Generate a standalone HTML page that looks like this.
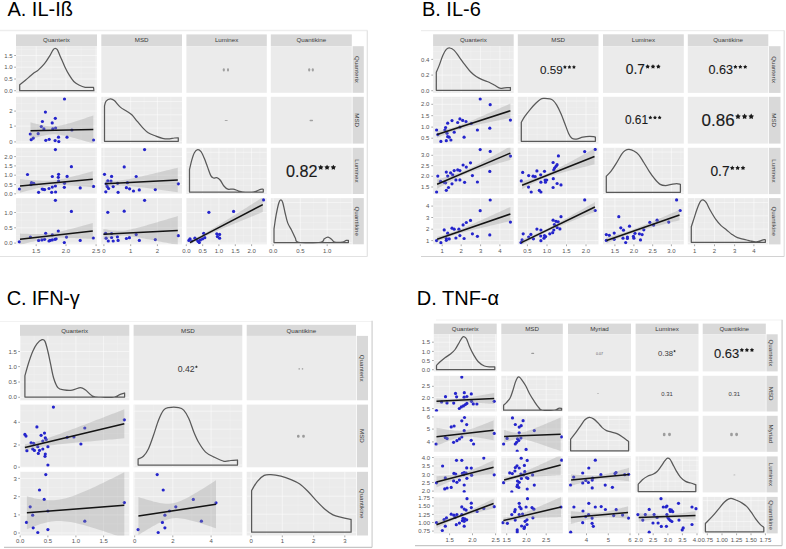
<!DOCTYPE html>
<html><head><meta charset="utf-8"><style>
html,body{margin:0;padding:0;background:#fff;overflow:hidden;}
svg{display:block;font-family:"Liberation Sans", sans-serif;}
</style></head><body>
<svg width="786" height="549" viewBox="0 0 786 549">
<defs><clipPath id="c1"><rect x="16" y="96.8" width="81" height="46.8"/></clipPath><clipPath id="c2"><rect x="16" y="147.8" width="81" height="46.2"/></clipPath><clipPath id="c3"><rect x="101.3" y="147.8" width="80.7" height="46.2"/></clipPath><clipPath id="c4"><rect x="16" y="198.1" width="81" height="46.2"/></clipPath><clipPath id="c5"><rect x="101.3" y="198.1" width="80.7" height="46.2"/></clipPath><clipPath id="c6"><rect x="186.4" y="198.1" width="80.4" height="46.2"/></clipPath><clipPath id="c7"><rect x="433.1" y="96.8" width="80.6" height="46.8"/></clipPath><clipPath id="c8"><rect x="433.1" y="147.8" width="80.6" height="46.3"/></clipPath><clipPath id="c9"><rect x="517.8" y="147.8" width="80.7" height="46.3"/></clipPath><clipPath id="c10"><rect x="433.1" y="198.1" width="80.6" height="46.3"/></clipPath><clipPath id="c11"><rect x="517.8" y="198.1" width="80.7" height="46.3"/></clipPath><clipPath id="c12"><rect x="603" y="198.1" width="80.8" height="46.3"/></clipPath><clipPath id="c13"><rect x="20" y="404.6" width="109.3" height="62.7"/></clipPath><clipPath id="c14"><rect x="20" y="471.8" width="109.3" height="63.7"/></clipPath><clipPath id="c15"><rect x="133.6" y="471.8" width="108.7" height="63.7"/></clipPath><clipPath id="c16"><rect x="433.8" y="375.8" width="62.9" height="35.7"/></clipPath><clipPath id="c17"><rect x="433.8" y="415.8" width="62.9" height="36"/></clipPath><clipPath id="c18"><rect x="501.3" y="415.8" width="61.5" height="36"/></clipPath><clipPath id="c19"><rect x="433.8" y="456.4" width="62.9" height="36"/></clipPath><clipPath id="c20"><rect x="501.3" y="456.4" width="61.5" height="36"/></clipPath><clipPath id="c21"><rect x="568" y="456.4" width="63" height="36"/></clipPath><clipPath id="c22"><rect x="433.8" y="496.9" width="62.9" height="36.5"/></clipPath><clipPath id="c23"><rect x="501.3" y="496.9" width="61.5" height="36.5"/></clipPath><clipPath id="c24"><rect x="568" y="496.9" width="63" height="36.5"/></clipPath><clipPath id="c25"><rect x="635.6" y="496.9" width="62.9" height="36.5"/></clipPath></defs>
<line x1="0" y1="30.5" x2="367.5" y2="30.5" stroke="#ededed" stroke-width="1.3"/>
<line x1="367.3" y1="30.5" x2="367.3" y2="256.5" stroke="#e2e2e2" stroke-width="1.2"/>
<line x1="0" y1="256.5" x2="367.3" y2="256.5" stroke="#e2e2e2" stroke-width="1.2"/>
<rect x="16" y="34.4" width="81" height="11.8" fill="#D9D9D9" />
<text x="56.5" y="42.32" font-size="6.2" fill="#3a3a3a" text-anchor="middle" >Quanterix</text>
<rect x="101.3" y="34.4" width="80.7" height="11.8" fill="#D9D9D9" />
<text x="141.65" y="42.32" font-size="6.2" fill="#3a3a3a" text-anchor="middle" >MSD</text>
<rect x="186.4" y="34.4" width="80.4" height="11.8" fill="#D9D9D9" />
<text x="226.6" y="42.32" font-size="6.2" fill="#3a3a3a" text-anchor="middle" >Luminex</text>
<rect x="270.8" y="34.4" width="81" height="11.8" fill="#D9D9D9" />
<text x="311.3" y="42.32" font-size="6.2" fill="#3a3a3a" text-anchor="middle" >Quantikine</text>
<rect x="352.6" y="46.2" width="11.2" height="46.6" fill="#D9D9D9" />
<text x="0" y="0" font-size="6.2" fill="#3a3a3a" text-anchor="middle" transform="translate(355.38,69.5) rotate(90)">Quanterix</text>
<rect x="352.6" y="96.8" width="11.2" height="46.8" fill="#D9D9D9" />
<text x="0" y="0" font-size="6.2" fill="#3a3a3a" text-anchor="middle" transform="translate(355.38,120.2) rotate(90)">MSD</text>
<rect x="352.6" y="147.8" width="11.2" height="46.2" fill="#D9D9D9" />
<text x="0" y="0" font-size="6.2" fill="#3a3a3a" text-anchor="middle" transform="translate(355.38,170.9) rotate(90)">Luminex</text>
<rect x="352.6" y="198.1" width="11.2" height="46.2" fill="#D9D9D9" />
<text x="0" y="0" font-size="6.2" fill="#3a3a3a" text-anchor="middle" transform="translate(355.38,221.2) rotate(90)">Quantikine</text>
<rect x="16" y="46.2" width="81" height="46.6" fill="#EBEBEB" />
<line x1="51.1" y1="46.2" x2="51.1" y2="92.8" stroke="#FFFFFF" stroke-width="0.35" stroke-opacity="0.55"/><line x1="81.05" y1="46.2" x2="81.05" y2="92.8" stroke="#FFFFFF" stroke-width="0.35" stroke-opacity="0.55"/><line x1="21.3" y1="46.2" x2="21.3" y2="92.8" stroke="#FFFFFF" stroke-width="0.35" stroke-opacity="0.55"/><line x1="16" y1="61.35" x2="97" y2="61.35" stroke="#FFFFFF" stroke-width="0.35" stroke-opacity="0.55"/><line x1="16" y1="73.1" x2="97" y2="73.1" stroke="#FFFFFF" stroke-width="0.35" stroke-opacity="0.55"/><line x1="16" y1="84.85" x2="97" y2="84.85" stroke="#FFFFFF" stroke-width="0.35" stroke-opacity="0.55"/><line x1="16" y1="49.65" x2="97" y2="49.65" stroke="#FFFFFF" stroke-width="0.35" stroke-opacity="0.55"/><line x1="36.2" y1="46.2" x2="36.2" y2="92.8" stroke="#FFFFFF" stroke-width="0.55" stroke-opacity="0.9"/><line x1="66" y1="46.2" x2="66" y2="92.8" stroke="#FFFFFF" stroke-width="0.55" stroke-opacity="0.9"/><line x1="96.1" y1="46.2" x2="96.1" y2="92.8" stroke="#FFFFFF" stroke-width="0.55" stroke-opacity="0.9"/><line x1="16" y1="55.5" x2="97" y2="55.5" stroke="#FFFFFF" stroke-width="0.55" stroke-opacity="0.9"/><line x1="16" y1="67.2" x2="97" y2="67.2" stroke="#FFFFFF" stroke-width="0.55" stroke-opacity="0.9"/><line x1="16" y1="79" x2="97" y2="79" stroke="#FFFFFF" stroke-width="0.55" stroke-opacity="0.9"/><line x1="16" y1="90.7" x2="97" y2="90.7" stroke="#FFFFFF" stroke-width="0.55" stroke-opacity="0.9"/>
<path d="M19.7,90.7 L19.7,84.7 C20.65,83.97 23.6,81.78 25.4,80.3 C27.2,78.82 29,77.08 30.5,75.8 C32,74.52 33.12,73.55 34.4,72.6 C35.68,71.65 36.52,71.58 38.2,70.1 C39.88,68.62 42.6,66.03 44.5,63.7 C46.4,61.37 48.22,58.32 49.6,56.1 C50.98,53.88 51.95,51.67 52.8,50.4 C53.65,49.13 53.95,48.62 54.7,48.5 C55.45,48.38 56.35,48.33 57.3,49.7 C58.25,51.07 59.13,53.83 60.4,56.7 C61.67,59.57 63.42,63.82 64.9,66.9 C66.38,69.98 67.82,72.77 69.3,75.2 C70.78,77.63 72.2,79.87 73.8,81.5 C75.4,83.13 77,84.03 78.9,85 C80.8,85.97 82.77,86.92 85.2,87.3 C87.63,87.68 92.12,87.3 93.5,87.3 L93.9,90.7 Z" fill="none" stroke="#595959" stroke-width="1.25" stroke-linejoin="round"/>
<rect x="101.3" y="46.2" width="80.7" height="46.6" fill="#EBEBEB" />
<rect x="186.4" y="46.2" width="80.4" height="46.6" fill="#EBEBEB" />
<rect x="222.8" y="68.2" width="2" height="3.2" rx="1" fill="#a0a0a0"/>
<rect x="227" y="68.2" width="2" height="3.2" rx="1" fill="#a0a0a0"/>
<rect x="270.8" y="46.2" width="81" height="46.6" fill="#EBEBEB" />
<rect x="308.2" y="68.2" width="2" height="3.2" rx="1" fill="#a0a0a0"/>
<rect x="311.8" y="68.2" width="2" height="3.2" rx="1" fill="#a0a0a0"/>
<rect x="16" y="96.8" width="81" height="46.8" fill="#EBEBEB" />
<line x1="51.1" y1="96.8" x2="51.1" y2="143.6" stroke="#FFFFFF" stroke-width="0.35" stroke-opacity="0.55"/><line x1="81.05" y1="96.8" x2="81.05" y2="143.6" stroke="#FFFFFF" stroke-width="0.35" stroke-opacity="0.55"/><line x1="21.3" y1="96.8" x2="21.3" y2="143.6" stroke="#FFFFFF" stroke-width="0.35" stroke-opacity="0.55"/><line x1="16" y1="118.6" x2="97" y2="118.6" stroke="#FFFFFF" stroke-width="0.35" stroke-opacity="0.55"/><line x1="16" y1="134" x2="97" y2="134" stroke="#FFFFFF" stroke-width="0.35" stroke-opacity="0.55"/><line x1="16" y1="103.6" x2="97" y2="103.6" stroke="#FFFFFF" stroke-width="0.35" stroke-opacity="0.55"/><line x1="36.2" y1="96.8" x2="36.2" y2="143.6" stroke="#FFFFFF" stroke-width="0.55" stroke-opacity="0.9"/><line x1="66" y1="96.8" x2="66" y2="143.6" stroke="#FFFFFF" stroke-width="0.55" stroke-opacity="0.9"/><line x1="96.1" y1="96.8" x2="96.1" y2="143.6" stroke="#FFFFFF" stroke-width="0.55" stroke-opacity="0.9"/><line x1="16" y1="111.1" x2="97" y2="111.1" stroke="#FFFFFF" stroke-width="0.55" stroke-opacity="0.9"/><line x1="16" y1="126.1" x2="97" y2="126.1" stroke="#FFFFFF" stroke-width="0.55" stroke-opacity="0.9"/><line x1="16" y1="141.9" x2="97" y2="141.9" stroke="#FFFFFF" stroke-width="0.55" stroke-opacity="0.9"/>
<g clip-path="url(#c1)"><circle cx="64.5" cy="99" r="1.6" fill="#2424cc"/><circle cx="45.4" cy="112.1" r="1.6" fill="#2424cc"/><circle cx="55.3" cy="118.3" r="1.6" fill="#2424cc"/><circle cx="42.4" cy="121.5" r="1.6" fill="#2424cc"/><circle cx="52.2" cy="122.9" r="1.6" fill="#2424cc"/><circle cx="41.3" cy="126.6" r="1.6" fill="#2424cc"/><circle cx="43.9" cy="128.9" r="1.6" fill="#2424cc"/><circle cx="52.8" cy="128.9" r="1.6" fill="#2424cc"/><circle cx="55.6" cy="128" r="1.6" fill="#2424cc"/><circle cx="30.3" cy="134" r="1.6" fill="#2424cc"/><circle cx="38.2" cy="133.7" r="1.6" fill="#2424cc"/><circle cx="33.3" cy="138.1" r="1.6" fill="#2424cc"/><circle cx="31.2" cy="139.7" r="1.6" fill="#2424cc"/><circle cx="45.8" cy="140.3" r="1.6" fill="#2424cc"/><circle cx="49.2" cy="139.3" r="1.6" fill="#2424cc"/><circle cx="58.5" cy="137.2" r="1.6" fill="#2424cc"/><circle cx="55.1" cy="140.6" r="1.6" fill="#2424cc"/><circle cx="58.8" cy="141.6" r="1.6" fill="#2424cc"/><circle cx="67" cy="137.2" r="1.6" fill="#2424cc"/><circle cx="93.5" cy="140" r="1.6" fill="#2424cc"/><circle cx="71.9" cy="130" r="1.6" fill="#2424cc"/>
<path d="M30.5,122.3 L32.07,122.73 L33.64,123.14 L35.21,123.55 L36.78,123.94 L38.35,124.32 L39.92,124.69 L41.49,125.03 L43.06,125.34 L44.63,125.63 L46.2,125.88 L47.77,126.08 L49.34,126.23 L50.91,126.32 L52.48,126.34 L54.05,126.3 L55.62,126.19 L57.19,126.01 L58.76,125.78 L60.33,125.5 L61.9,125.17 L63.47,124.81 L65.04,124.43 L66.61,124.01 L68.18,123.58 L69.75,123.13 L71.32,122.66 L72.89,122.19 L74.46,121.7 L76.03,121.21 L77.6,120.71 L79.17,120.21 L80.74,119.7 L82.31,119.18 L83.88,118.67 L85.45,118.14 L87.02,117.62 L88.59,117.09 L90.16,116.56 L91.73,116.03 L93.3,115.5 L93.3,143.5 L91.73,143.03 L90.16,142.57 L88.59,142.1 L87.02,141.64 L85.45,141.18 L83.88,140.72 L82.31,140.27 L80.74,139.82 L79.17,139.38 L77.6,138.94 L76.03,138.5 L74.46,138.08 L72.89,137.66 L71.32,137.25 L69.75,136.85 L68.18,136.46 L66.61,136.09 L65.04,135.74 L63.47,135.42 L61.9,135.13 L60.33,134.87 L58.76,134.65 L57.19,134.48 L55.62,134.37 L54.05,134.33 L52.48,134.35 L50.91,134.44 L49.34,134.59 L47.77,134.81 L46.2,135.07 L44.63,135.39 L43.06,135.74 L41.49,136.12 L39.92,136.52 L38.35,136.95 L36.78,137.4 L35.21,137.86 L33.64,138.33 L32.07,138.81 L30.5,139.3 Z" fill="#999999" fill-opacity="0.32"/>
<line x1="30.5" y1="130.8" x2="93.3" y2="129.5" stroke="#141414" stroke-width="1.55"/></g>
<rect x="101.3" y="96.8" width="80.7" height="46.8" fill="#EBEBEB" />
<line x1="117.3" y1="96.8" x2="117.3" y2="143.6" stroke="#FFFFFF" stroke-width="0.35" stroke-opacity="0.55"/><line x1="144.05" y1="96.8" x2="144.05" y2="143.6" stroke="#FFFFFF" stroke-width="0.35" stroke-opacity="0.55"/><line x1="170.8" y1="96.8" x2="170.8" y2="143.6" stroke="#FFFFFF" stroke-width="0.35" stroke-opacity="0.55"/><line x1="101.3" y1="108.18" x2="182" y2="108.18" stroke="#FFFFFF" stroke-width="0.35" stroke-opacity="0.55"/><line x1="101.3" y1="121.43" x2="182" y2="121.43" stroke="#FFFFFF" stroke-width="0.35" stroke-opacity="0.55"/><line x1="101.3" y1="134.68" x2="182" y2="134.68" stroke="#FFFFFF" stroke-width="0.35" stroke-opacity="0.55"/><line x1="103.9" y1="96.8" x2="103.9" y2="143.6" stroke="#FFFFFF" stroke-width="0.55" stroke-opacity="0.9"/><line x1="130.7" y1="96.8" x2="130.7" y2="143.6" stroke="#FFFFFF" stroke-width="0.55" stroke-opacity="0.9"/><line x1="157.4" y1="96.8" x2="157.4" y2="143.6" stroke="#FFFFFF" stroke-width="0.55" stroke-opacity="0.9"/><line x1="101.3" y1="141.3" x2="182" y2="141.3" stroke="#FFFFFF" stroke-width="0.55" stroke-opacity="0.9"/><line x1="101.3" y1="128.05" x2="182" y2="128.05" stroke="#FFFFFF" stroke-width="0.55" stroke-opacity="0.9"/><line x1="101.3" y1="114.8" x2="182" y2="114.8" stroke="#FFFFFF" stroke-width="0.55" stroke-opacity="0.9"/><line x1="101.3" y1="101.55" x2="182" y2="101.55" stroke="#FFFFFF" stroke-width="0.55" stroke-opacity="0.9"/>
<path d="M104.5,141.3 L104.5,106 C104.77,105.18 105.1,102.28 106.1,101.1 C107.1,99.92 109.13,98.98 110.5,98.9 C111.87,98.82 112.67,99.23 114.3,100.6 C115.93,101.97 118.28,105.37 120.3,107.1 C122.32,108.83 124.48,109.72 126.4,111 C128.32,112.28 129.98,113.07 131.8,114.8 C133.62,116.53 135.47,119.22 137.3,121.4 C139.13,123.58 140.98,126 142.8,127.9 C144.62,129.8 146.02,131.43 148.2,132.8 C150.38,134.17 153.52,135.18 155.9,136.1 C158.28,137.02 160.5,137.83 162.5,138.3 C164.5,138.77 165.9,138.95 167.9,138.9 C169.9,138.85 172.77,138.18 174.5,138 C176.23,137.82 177.67,137.83 178.3,137.8 L178.3,141.3 Z" fill="none" stroke="#595959" stroke-width="1.25" stroke-linejoin="round"/>
<rect x="186.4" y="96.8" width="80.4" height="46.8" fill="#EBEBEB" />
<rect x="224.7" y="119.9" width="3" height="1.2" rx="0.6" fill="#a8a8a8"/>
<rect x="270.8" y="96.8" width="81" height="46.8" fill="#EBEBEB" />
<rect x="309.55" y="119.85" width="3.5" height="1.3" rx="0.65" fill="#a0a0a0"/>
<rect x="16" y="147.8" width="81" height="46.2" fill="#EBEBEB" />
<line x1="51.1" y1="147.8" x2="51.1" y2="194" stroke="#FFFFFF" stroke-width="0.35" stroke-opacity="0.55"/><line x1="81.05" y1="147.8" x2="81.05" y2="194" stroke="#FFFFFF" stroke-width="0.35" stroke-opacity="0.55"/><line x1="21.3" y1="147.8" x2="21.3" y2="194" stroke="#FFFFFF" stroke-width="0.35" stroke-opacity="0.55"/><line x1="16" y1="161.25" x2="97" y2="161.25" stroke="#FFFFFF" stroke-width="0.35" stroke-opacity="0.55"/><line x1="16" y1="170.55" x2="97" y2="170.55" stroke="#FFFFFF" stroke-width="0.35" stroke-opacity="0.55"/><line x1="16" y1="179.9" x2="97" y2="179.9" stroke="#FFFFFF" stroke-width="0.35" stroke-opacity="0.55"/><line x1="16" y1="189.2" x2="97" y2="189.2" stroke="#FFFFFF" stroke-width="0.35" stroke-opacity="0.55"/><line x1="16" y1="151.95" x2="97" y2="151.95" stroke="#FFFFFF" stroke-width="0.35" stroke-opacity="0.55"/><line x1="36.2" y1="147.8" x2="36.2" y2="194" stroke="#FFFFFF" stroke-width="0.55" stroke-opacity="0.9"/><line x1="66" y1="147.8" x2="66" y2="194" stroke="#FFFFFF" stroke-width="0.55" stroke-opacity="0.9"/><line x1="96.1" y1="147.8" x2="96.1" y2="194" stroke="#FFFFFF" stroke-width="0.55" stroke-opacity="0.9"/><line x1="16" y1="156.6" x2="97" y2="156.6" stroke="#FFFFFF" stroke-width="0.55" stroke-opacity="0.9"/><line x1="16" y1="165.9" x2="97" y2="165.9" stroke="#FFFFFF" stroke-width="0.55" stroke-opacity="0.9"/><line x1="16" y1="175.2" x2="97" y2="175.2" stroke="#FFFFFF" stroke-width="0.55" stroke-opacity="0.9"/><line x1="16" y1="184.6" x2="97" y2="184.6" stroke="#FFFFFF" stroke-width="0.55" stroke-opacity="0.9"/><line x1="16" y1="193.8" x2="97" y2="193.8" stroke="#FFFFFF" stroke-width="0.55" stroke-opacity="0.9"/>
<g clip-path="url(#c2)"><circle cx="55.4" cy="149.6" r="1.6" fill="#2424cc"/><circle cx="71.4" cy="166.7" r="1.6" fill="#2424cc"/><circle cx="27.5" cy="174.5" r="1.6" fill="#2424cc"/><circle cx="52.3" cy="176.5" r="1.6" fill="#2424cc"/><circle cx="58.6" cy="174.3" r="1.6" fill="#2424cc"/><circle cx="58.3" cy="177.3" r="1.6" fill="#2424cc"/><circle cx="67.1" cy="176.4" r="1.6" fill="#2424cc"/><circle cx="58.6" cy="181.1" r="1.6" fill="#2424cc"/><circle cx="31.5" cy="182.7" r="1.6" fill="#2424cc"/><circle cx="33.7" cy="183.3" r="1.6" fill="#2424cc"/><circle cx="31" cy="184.6" r="1.6" fill="#2424cc"/><circle cx="19.5" cy="189" r="1.6" fill="#2424cc"/><circle cx="38.6" cy="192.3" r="1.6" fill="#2424cc"/><circle cx="42.2" cy="189" r="1.6" fill="#2424cc"/><circle cx="44.6" cy="189.6" r="1.6" fill="#2424cc"/><circle cx="43.3" cy="189.3" r="1.6" fill="#2424cc"/><circle cx="49" cy="188.5" r="1.6" fill="#2424cc"/><circle cx="52.3" cy="187.1" r="1.6" fill="#2424cc"/><circle cx="55.4" cy="186" r="1.6" fill="#2424cc"/><circle cx="51.7" cy="192.3" r="1.6" fill="#2424cc"/><circle cx="55.6" cy="192" r="1.6" fill="#2424cc"/><circle cx="64.5" cy="183.3" r="1.6" fill="#2424cc"/><circle cx="64.3" cy="187.3" r="1.6" fill="#2424cc"/><circle cx="80.2" cy="187.9" r="1.6" fill="#2424cc"/><circle cx="93.5" cy="186.4" r="1.6" fill="#2424cc"/>
<path d="M20,179.2 L21.82,179.35 L23.64,179.5 L25.46,179.65 L27.28,179.79 L29.1,179.93 L30.92,180.06 L32.74,180.19 L34.56,180.31 L36.38,180.42 L38.2,180.51 L40.02,180.6 L41.84,180.66 L43.66,180.71 L45.48,180.73 L47.3,180.72 L49.12,180.67 L50.94,180.58 L52.76,180.44 L54.58,180.25 L56.4,180.02 L58.22,179.74 L60.04,179.43 L61.86,179.08 L63.68,178.7 L65.5,178.3 L67.32,177.88 L69.14,177.45 L70.96,177 L72.78,176.55 L74.6,176.08 L76.42,175.61 L78.24,175.13 L80.06,174.65 L81.88,174.17 L83.7,173.68 L85.52,173.19 L87.34,172.69 L89.16,172.2 L90.98,171.7 L92.8,171.2 L92.8,187.2 L90.98,187.04 L89.16,186.88 L87.34,186.73 L85.52,186.57 L83.7,186.42 L81.88,186.27 L80.06,186.13 L78.24,185.99 L76.42,185.85 L74.6,185.72 L72.78,185.59 L70.96,185.48 L69.14,185.37 L67.32,185.28 L65.5,185.2 L63.68,185.14 L61.86,185.1 L60.04,185.09 L58.22,185.12 L56.4,185.18 L54.58,185.29 L52.76,185.44 L50.94,185.64 L49.12,185.89 L47.3,186.18 L45.48,186.51 L43.66,186.87 L41.84,187.26 L40.02,187.66 L38.2,188.09 L36.38,188.52 L34.56,188.97 L32.74,189.43 L30.92,189.9 L29.1,190.37 L27.28,190.85 L25.46,191.33 L23.64,191.82 L21.82,192.31 L20,192.8 Z" fill="#999999" fill-opacity="0.32"/>
<line x1="20" y1="186" x2="92.8" y2="179.2" stroke="#141414" stroke-width="1.55"/></g>
<rect x="101.3" y="147.8" width="80.7" height="46.2" fill="#EBEBEB" />
<line x1="117.3" y1="147.8" x2="117.3" y2="194" stroke="#FFFFFF" stroke-width="0.35" stroke-opacity="0.55"/><line x1="144.05" y1="147.8" x2="144.05" y2="194" stroke="#FFFFFF" stroke-width="0.35" stroke-opacity="0.55"/><line x1="170.8" y1="147.8" x2="170.8" y2="194" stroke="#FFFFFF" stroke-width="0.35" stroke-opacity="0.55"/><line x1="101.3" y1="161.25" x2="182" y2="161.25" stroke="#FFFFFF" stroke-width="0.35" stroke-opacity="0.55"/><line x1="101.3" y1="170.55" x2="182" y2="170.55" stroke="#FFFFFF" stroke-width="0.35" stroke-opacity="0.55"/><line x1="101.3" y1="179.9" x2="182" y2="179.9" stroke="#FFFFFF" stroke-width="0.35" stroke-opacity="0.55"/><line x1="101.3" y1="189.2" x2="182" y2="189.2" stroke="#FFFFFF" stroke-width="0.35" stroke-opacity="0.55"/><line x1="101.3" y1="151.95" x2="182" y2="151.95" stroke="#FFFFFF" stroke-width="0.35" stroke-opacity="0.55"/><line x1="103.9" y1="147.8" x2="103.9" y2="194" stroke="#FFFFFF" stroke-width="0.55" stroke-opacity="0.9"/><line x1="130.7" y1="147.8" x2="130.7" y2="194" stroke="#FFFFFF" stroke-width="0.55" stroke-opacity="0.9"/><line x1="157.4" y1="147.8" x2="157.4" y2="194" stroke="#FFFFFF" stroke-width="0.55" stroke-opacity="0.9"/><line x1="101.3" y1="156.6" x2="182" y2="156.6" stroke="#FFFFFF" stroke-width="0.55" stroke-opacity="0.9"/><line x1="101.3" y1="165.9" x2="182" y2="165.9" stroke="#FFFFFF" stroke-width="0.55" stroke-opacity="0.9"/><line x1="101.3" y1="175.2" x2="182" y2="175.2" stroke="#FFFFFF" stroke-width="0.55" stroke-opacity="0.9"/><line x1="101.3" y1="184.6" x2="182" y2="184.6" stroke="#FFFFFF" stroke-width="0.55" stroke-opacity="0.9"/><line x1="101.3" y1="193.8" x2="182" y2="193.8" stroke="#FFFFFF" stroke-width="0.55" stroke-opacity="0.9"/>
<g clip-path="url(#c3)"><circle cx="144.6" cy="149.6" r="1.6" fill="#2424cc"/><circle cx="124.2" cy="166.9" r="1.6" fill="#2424cc"/><circle cx="104.5" cy="174.3" r="1.6" fill="#2424cc"/><circle cx="111.6" cy="176.4" r="1.6" fill="#2424cc"/><circle cx="136.2" cy="176.5" r="1.6" fill="#2424cc"/><circle cx="107.8" cy="180.9" r="1.6" fill="#2424cc"/><circle cx="111" cy="181.1" r="1.6" fill="#2424cc"/><circle cx="106.1" cy="183.8" r="1.6" fill="#2424cc"/><circle cx="107.2" cy="186.4" r="1.6" fill="#2424cc"/><circle cx="108.6" cy="188.5" r="1.6" fill="#2424cc"/><circle cx="113.2" cy="186.6" r="1.6" fill="#2424cc"/><circle cx="105.8" cy="191.8" r="1.6" fill="#2424cc"/><circle cx="118.1" cy="192.3" r="1.6" fill="#2424cc"/><circle cx="126.4" cy="187.7" r="1.6" fill="#2424cc"/><circle cx="129.6" cy="188.8" r="1.6" fill="#2424cc"/><circle cx="133.5" cy="191" r="1.6" fill="#2424cc"/><circle cx="139.3" cy="189.9" r="1.6" fill="#2424cc"/><circle cx="155.3" cy="189.6" r="1.6" fill="#2424cc"/><circle cx="178.3" cy="183.8" r="1.6" fill="#2424cc"/><circle cx="117.6" cy="183.3" r="1.6" fill="#2424cc"/><circle cx="127.4" cy="182.7" r="1.6" fill="#2424cc"/>
<path d="M105,180.4 L106.82,180.54 L108.64,180.65 L110.46,180.73 L112.28,180.77 L114.1,180.77 L115.92,180.73 L117.74,180.63 L119.56,180.48 L121.38,180.28 L123.2,180.04 L125.02,179.76 L126.84,179.46 L128.66,179.13 L130.48,178.78 L132.3,178.41 L134.12,178.03 L135.94,177.64 L137.76,177.24 L139.58,176.84 L141.4,176.43 L143.22,176.01 L145.04,175.59 L146.86,175.17 L148.68,174.74 L150.5,174.31 L152.32,173.88 L154.14,173.44 L155.96,173.01 L157.78,172.57 L159.6,172.13 L161.42,171.69 L163.24,171.25 L165.06,170.81 L166.88,170.37 L168.7,169.92 L170.52,169.48 L172.34,169.04 L174.16,168.59 L175.98,168.15 L177.8,167.7 L177.8,192.3 L175.98,192.04 L174.16,191.79 L172.34,191.53 L170.52,191.28 L168.7,191.03 L166.88,190.77 L165.06,190.52 L163.24,190.27 L161.42,190.02 L159.6,189.77 L157.78,189.52 L155.96,189.27 L154.14,189.03 L152.32,188.78 L150.5,188.54 L148.68,188.3 L146.86,188.06 L145.04,187.83 L143.22,187.6 L141.4,187.37 L139.58,187.15 L137.76,186.94 L135.94,186.73 L134.12,186.53 L132.3,186.34 L130.48,186.16 L128.66,186 L126.84,185.86 L125.02,185.75 L123.2,185.66 L121.38,185.61 L119.56,185.6 L117.74,185.64 L115.92,185.73 L114.1,185.88 L112.28,186.07 L110.46,186.3 L108.64,186.57 L106.82,186.87 L105,187.2 Z" fill="#999999" fill-opacity="0.32"/>
<line x1="105" y1="183.8" x2="177.8" y2="180" stroke="#141414" stroke-width="1.55"/></g>
<rect x="186.4" y="147.8" width="80.4" height="46.2" fill="#EBEBEB" />
<line x1="194.5" y1="147.8" x2="194.5" y2="194" stroke="#FFFFFF" stroke-width="0.35" stroke-opacity="0.55"/><line x1="210.8" y1="147.8" x2="210.8" y2="194" stroke="#FFFFFF" stroke-width="0.35" stroke-opacity="0.55"/><line x1="227.1" y1="147.8" x2="227.1" y2="194" stroke="#FFFFFF" stroke-width="0.35" stroke-opacity="0.55"/><line x1="243.45" y1="147.8" x2="243.45" y2="194" stroke="#FFFFFF" stroke-width="0.35" stroke-opacity="0.55"/><line x1="259.8" y1="147.8" x2="259.8" y2="194" stroke="#FFFFFF" stroke-width="0.35" stroke-opacity="0.55"/><line x1="186.4" y1="158.88" x2="266.8" y2="158.88" stroke="#FFFFFF" stroke-width="0.35" stroke-opacity="0.55"/><line x1="186.4" y1="172.12" x2="266.8" y2="172.12" stroke="#FFFFFF" stroke-width="0.35" stroke-opacity="0.55"/><line x1="186.4" y1="185.38" x2="266.8" y2="185.38" stroke="#FFFFFF" stroke-width="0.35" stroke-opacity="0.55"/><line x1="202.7" y1="147.8" x2="202.7" y2="194" stroke="#FFFFFF" stroke-width="0.55" stroke-opacity="0.9"/><line x1="218.9" y1="147.8" x2="218.9" y2="194" stroke="#FFFFFF" stroke-width="0.55" stroke-opacity="0.9"/><line x1="235.3" y1="147.8" x2="235.3" y2="194" stroke="#FFFFFF" stroke-width="0.55" stroke-opacity="0.9"/><line x1="251.6" y1="147.8" x2="251.6" y2="194" stroke="#FFFFFF" stroke-width="0.55" stroke-opacity="0.9"/><line x1="186.4" y1="192" x2="266.8" y2="192" stroke="#FFFFFF" stroke-width="0.55" stroke-opacity="0.9"/><line x1="186.4" y1="178.75" x2="266.8" y2="178.75" stroke="#FFFFFF" stroke-width="0.55" stroke-opacity="0.9"/><line x1="186.4" y1="165.5" x2="266.8" y2="165.5" stroke="#FFFFFF" stroke-width="0.55" stroke-opacity="0.9"/><line x1="186.4" y1="152.25" x2="266.8" y2="152.25" stroke="#FFFFFF" stroke-width="0.55" stroke-opacity="0.9"/>
<path d="M189.5,192 L189.5,169.6 C189.87,168.05 190.88,163.12 191.7,160.3 C192.52,157.48 193.4,154.48 194.4,152.7 C195.4,150.92 196.6,149.78 197.7,149.6 C198.8,149.42 199.92,150.18 201,151.6 C202.08,153.02 203.12,155.55 204.2,158.1 C205.28,160.65 206.4,163.98 207.5,166.9 C208.6,169.82 209.8,173.75 210.8,175.6 C211.8,177.45 212.5,177.67 213.5,178 C214.5,178.33 215.7,177.27 216.8,177.6 C217.9,177.93 218.92,178.6 220.1,180 C221.28,181.4 222.62,184.48 223.9,186 C225.18,187.52 226.25,188.58 227.8,189.1 C229.35,189.62 231.38,188.78 233.2,189.1 C235.02,189.42 236.68,190.52 238.7,191 C240.72,191.48 242.75,191.87 245.3,192 C247.85,192.13 251.45,192.25 254,191.8 C256.55,191.35 259.05,189.72 260.6,189.3 C262.15,188.88 262.85,189.3 263.3,189.3 L263.3,192 Z" fill="none" stroke="#595959" stroke-width="1.25" stroke-linejoin="round"/>
<rect x="270.8" y="147.8" width="81" height="46.2" fill="#EBEBEB" />
<text x="286.08" y="176.7" font-size="16.2" fill="#1a1a1a" text-anchor="start" stroke="#1a1a1a" stroke-width="0.130">0.82</text>
<polygon points="320.76,164.63 321.68,166.2 323.46,166.59 322.24,167.95 322.43,169.76 320.76,169.02 319.09,169.76 319.28,167.95 318.06,166.59 319.84,166.2" fill="#1a1a1a"/>
<polygon points="327.06,164.63 327.98,166.2 329.76,166.59 328.55,167.95 328.73,169.76 327.06,169.02 325.4,169.76 325.58,167.95 324.37,166.59 326.15,166.2" fill="#1a1a1a"/>
<polygon points="333.36,164.63 334.28,166.2 336.06,166.59 334.85,167.95 335.03,169.76 333.36,169.02 331.7,169.76 331.88,167.95 330.67,166.59 332.45,166.2" fill="#1a1a1a"/>
<rect x="16" y="198.1" width="81" height="46.2" fill="#EBEBEB" />
<line x1="51.1" y1="198.1" x2="51.1" y2="244.3" stroke="#FFFFFF" stroke-width="0.35" stroke-opacity="0.55"/><line x1="81.05" y1="198.1" x2="81.05" y2="244.3" stroke="#FFFFFF" stroke-width="0.35" stroke-opacity="0.55"/><line x1="21.3" y1="198.1" x2="21.3" y2="244.3" stroke="#FFFFFF" stroke-width="0.35" stroke-opacity="0.55"/><line x1="16" y1="220.15" x2="97" y2="220.15" stroke="#FFFFFF" stroke-width="0.35" stroke-opacity="0.55"/><line x1="16" y1="235.45" x2="97" y2="235.45" stroke="#FFFFFF" stroke-width="0.35" stroke-opacity="0.55"/><line x1="16" y1="204.85" x2="97" y2="204.85" stroke="#FFFFFF" stroke-width="0.35" stroke-opacity="0.55"/><line x1="36.2" y1="198.1" x2="36.2" y2="244.3" stroke="#FFFFFF" stroke-width="0.55" stroke-opacity="0.9"/><line x1="66" y1="198.1" x2="66" y2="244.3" stroke="#FFFFFF" stroke-width="0.55" stroke-opacity="0.9"/><line x1="96.1" y1="198.1" x2="96.1" y2="244.3" stroke="#FFFFFF" stroke-width="0.55" stroke-opacity="0.9"/><line x1="16" y1="212.5" x2="97" y2="212.5" stroke="#FFFFFF" stroke-width="0.55" stroke-opacity="0.9"/><line x1="16" y1="227.8" x2="97" y2="227.8" stroke="#FFFFFF" stroke-width="0.55" stroke-opacity="0.9"/><line x1="16" y1="243.1" x2="97" y2="243.1" stroke="#FFFFFF" stroke-width="0.55" stroke-opacity="0.9"/>
<g clip-path="url(#c4)"><circle cx="55.4" cy="200.3" r="1.6" fill="#2424cc"/><circle cx="71.4" cy="211.4" r="1.6" fill="#2424cc"/><circle cx="58.3" cy="231.1" r="1.6" fill="#2424cc"/><circle cx="45.7" cy="233.3" r="1.6" fill="#2424cc"/><circle cx="52.3" cy="234.9" r="1.6" fill="#2424cc"/><circle cx="30.4" cy="237.1" r="1.6" fill="#2424cc"/><circle cx="66.5" cy="237.1" r="1.6" fill="#2424cc"/><circle cx="38.6" cy="240.4" r="1.6" fill="#2424cc"/><circle cx="41.9" cy="239.9" r="1.6" fill="#2424cc"/><circle cx="44.6" cy="239.3" r="1.6" fill="#2424cc"/><circle cx="49" cy="241" r="1.6" fill="#2424cc"/><circle cx="52.3" cy="239.9" r="1.6" fill="#2424cc"/><circle cx="55" cy="239.3" r="1.6" fill="#2424cc"/><circle cx="56.1" cy="238.8" r="1.6" fill="#2424cc"/><circle cx="64.3" cy="242.6" r="1.6" fill="#2424cc"/><circle cx="80.2" cy="240.4" r="1.6" fill="#2424cc"/><circle cx="93.3" cy="238" r="1.6" fill="#2424cc"/><circle cx="19.3" cy="241.8" r="1.6" fill="#2424cc"/><circle cx="50.1" cy="240.4" r="1.6" fill="#2424cc"/>
<path d="M20,233.6 L21.82,233.67 L23.64,233.74 L25.46,233.81 L27.28,233.87 L29.1,233.92 L30.92,233.97 L32.74,234 L34.56,234.03 L36.38,234.04 L38.2,234.03 L40.02,234.01 L41.84,233.96 L43.66,233.88 L45.48,233.77 L47.3,233.63 L49.12,233.44 L50.94,233.21 L52.76,232.95 L54.58,232.65 L56.4,232.31 L58.22,231.95 L60.04,231.56 L61.86,231.14 L63.68,230.72 L65.5,230.27 L67.32,229.82 L69.14,229.36 L70.96,228.89 L72.78,228.41 L74.6,227.92 L76.42,227.43 L78.24,226.94 L80.06,226.44 L81.88,225.94 L83.7,225.44 L85.52,224.94 L87.34,224.43 L89.16,223.92 L90.98,223.41 L92.8,222.9 L92.8,238.9 L90.98,238.81 L89.16,238.72 L87.34,238.63 L85.52,238.54 L83.7,238.46 L81.88,238.38 L80.06,238.3 L78.24,238.22 L76.42,238.15 L74.6,238.08 L72.78,238.01 L70.96,237.95 L69.14,237.9 L67.32,237.86 L65.5,237.83 L63.68,237.8 L61.86,237.8 L60.04,237.8 L58.22,237.83 L56.4,237.89 L54.58,237.97 L52.76,238.09 L50.94,238.25 L49.12,238.44 L47.3,238.67 L45.48,238.95 L43.66,239.26 L41.84,239.6 L40.02,239.97 L38.2,240.37 L36.38,240.78 L34.56,241.21 L32.74,241.66 L30.92,242.11 L29.1,242.58 L27.28,243.05 L25.46,243.53 L23.64,244.02 L21.82,244.51 L20,245 Z" fill="#999999" fill-opacity="0.32"/>
<line x1="20" y1="239.3" x2="92.8" y2="230.9" stroke="#141414" stroke-width="1.55"/></g>
<rect x="101.3" y="198.1" width="80.7" height="46.2" fill="#EBEBEB" />
<line x1="117.3" y1="198.1" x2="117.3" y2="244.3" stroke="#FFFFFF" stroke-width="0.35" stroke-opacity="0.55"/><line x1="144.05" y1="198.1" x2="144.05" y2="244.3" stroke="#FFFFFF" stroke-width="0.35" stroke-opacity="0.55"/><line x1="170.8" y1="198.1" x2="170.8" y2="244.3" stroke="#FFFFFF" stroke-width="0.35" stroke-opacity="0.55"/><line x1="101.3" y1="220.15" x2="182" y2="220.15" stroke="#FFFFFF" stroke-width="0.35" stroke-opacity="0.55"/><line x1="101.3" y1="235.45" x2="182" y2="235.45" stroke="#FFFFFF" stroke-width="0.35" stroke-opacity="0.55"/><line x1="101.3" y1="204.85" x2="182" y2="204.85" stroke="#FFFFFF" stroke-width="0.35" stroke-opacity="0.55"/><line x1="103.9" y1="198.1" x2="103.9" y2="244.3" stroke="#FFFFFF" stroke-width="0.55" stroke-opacity="0.9"/><line x1="130.7" y1="198.1" x2="130.7" y2="244.3" stroke="#FFFFFF" stroke-width="0.55" stroke-opacity="0.9"/><line x1="157.4" y1="198.1" x2="157.4" y2="244.3" stroke="#FFFFFF" stroke-width="0.55" stroke-opacity="0.9"/><line x1="101.3" y1="212.5" x2="182" y2="212.5" stroke="#FFFFFF" stroke-width="0.55" stroke-opacity="0.9"/><line x1="101.3" y1="227.8" x2="182" y2="227.8" stroke="#FFFFFF" stroke-width="0.55" stroke-opacity="0.9"/><line x1="101.3" y1="243.1" x2="182" y2="243.1" stroke="#FFFFFF" stroke-width="0.55" stroke-opacity="0.9"/>
<g clip-path="url(#c5)"><circle cx="144.6" cy="200.3" r="1.6" fill="#2424cc"/><circle cx="107.8" cy="212.3" r="1.6" fill="#2424cc"/><circle cx="124.2" cy="211.2" r="1.6" fill="#2424cc"/><circle cx="105.6" cy="233.3" r="1.6" fill="#2424cc"/><circle cx="111.6" cy="233.5" r="1.6" fill="#2424cc"/><circle cx="106.1" cy="238.2" r="1.6" fill="#2424cc"/><circle cx="108.3" cy="241" r="1.6" fill="#2424cc"/><circle cx="113.2" cy="241" r="1.6" fill="#2424cc"/><circle cx="111.6" cy="237.5" r="1.6" fill="#2424cc"/><circle cx="117.4" cy="236.8" r="1.6" fill="#2424cc"/><circle cx="118.1" cy="240.4" r="1.6" fill="#2424cc"/><circle cx="126.4" cy="238.5" r="1.6" fill="#2424cc"/><circle cx="129.4" cy="237.7" r="1.6" fill="#2424cc"/><circle cx="136.2" cy="234.6" r="1.6" fill="#2424cc"/><circle cx="139.3" cy="240.4" r="1.6" fill="#2424cc"/><circle cx="155.3" cy="239.6" r="1.6" fill="#2424cc"/><circle cx="178.3" cy="235.7" r="1.6" fill="#2424cc"/>
<path d="M103.4,229 L105.26,229.32 L107.12,229.62 L108.98,229.91 L110.84,230.18 L112.7,230.42 L114.56,230.62 L116.42,230.77 L118.28,230.86 L120.14,230.87 L122,230.8 L123.86,230.63 L125.72,230.39 L127.58,230.08 L129.44,229.72 L131.3,229.31 L133.16,228.87 L135.02,228.41 L136.88,227.93 L138.74,227.44 L140.6,226.93 L142.46,226.42 L144.32,225.9 L146.18,225.38 L148.04,224.85 L149.9,224.31 L151.76,223.78 L153.62,223.24 L155.48,222.7 L157.34,222.15 L159.2,221.61 L161.06,221.06 L162.92,220.51 L164.78,219.96 L166.64,219.41 L168.5,218.86 L170.36,218.31 L172.22,217.76 L174.08,217.21 L175.94,216.65 L177.8,216.1 L177.8,245.1 L175.94,244.73 L174.08,244.35 L172.22,243.98 L170.36,243.61 L168.5,243.24 L166.64,242.87 L164.78,242.5 L162.92,242.13 L161.06,241.76 L159.2,241.39 L157.34,241.03 L155.48,240.66 L153.62,240.3 L151.76,239.94 L149.9,239.59 L148.04,239.23 L146.18,238.88 L144.32,238.54 L142.46,238.2 L140.6,237.87 L138.74,237.54 L136.88,237.23 L135.02,236.93 L133.16,236.65 L131.3,236.39 L129.44,236.16 L127.58,235.98 L125.72,235.85 L123.86,235.79 L122,235.8 L120.14,235.91 L118.28,236.1 L116.42,236.37 L114.56,236.7 L112.7,237.08 L110.84,237.5 L108.98,237.95 L107.12,238.42 L105.26,238.9 L103.4,239.4 Z" fill="#999999" fill-opacity="0.32"/>
<line x1="103.4" y1="234.2" x2="177.8" y2="230.6" stroke="#141414" stroke-width="1.55"/></g>
<rect x="186.4" y="198.1" width="80.4" height="46.2" fill="#EBEBEB" />
<line x1="194.5" y1="198.1" x2="194.5" y2="244.3" stroke="#FFFFFF" stroke-width="0.35" stroke-opacity="0.55"/><line x1="210.8" y1="198.1" x2="210.8" y2="244.3" stroke="#FFFFFF" stroke-width="0.35" stroke-opacity="0.55"/><line x1="227.1" y1="198.1" x2="227.1" y2="244.3" stroke="#FFFFFF" stroke-width="0.35" stroke-opacity="0.55"/><line x1="243.45" y1="198.1" x2="243.45" y2="244.3" stroke="#FFFFFF" stroke-width="0.35" stroke-opacity="0.55"/><line x1="259.8" y1="198.1" x2="259.8" y2="244.3" stroke="#FFFFFF" stroke-width="0.35" stroke-opacity="0.55"/><line x1="186.4" y1="220.15" x2="266.8" y2="220.15" stroke="#FFFFFF" stroke-width="0.35" stroke-opacity="0.55"/><line x1="186.4" y1="235.45" x2="266.8" y2="235.45" stroke="#FFFFFF" stroke-width="0.35" stroke-opacity="0.55"/><line x1="186.4" y1="204.85" x2="266.8" y2="204.85" stroke="#FFFFFF" stroke-width="0.35" stroke-opacity="0.55"/><line x1="202.7" y1="198.1" x2="202.7" y2="244.3" stroke="#FFFFFF" stroke-width="0.55" stroke-opacity="0.9"/><line x1="218.9" y1="198.1" x2="218.9" y2="244.3" stroke="#FFFFFF" stroke-width="0.55" stroke-opacity="0.9"/><line x1="235.3" y1="198.1" x2="235.3" y2="244.3" stroke="#FFFFFF" stroke-width="0.55" stroke-opacity="0.9"/><line x1="251.6" y1="198.1" x2="251.6" y2="244.3" stroke="#FFFFFF" stroke-width="0.55" stroke-opacity="0.9"/><line x1="186.4" y1="212.5" x2="266.8" y2="212.5" stroke="#FFFFFF" stroke-width="0.55" stroke-opacity="0.9"/><line x1="186.4" y1="227.8" x2="266.8" y2="227.8" stroke="#FFFFFF" stroke-width="0.55" stroke-opacity="0.9"/><line x1="186.4" y1="243.1" x2="266.8" y2="243.1" stroke="#FFFFFF" stroke-width="0.55" stroke-opacity="0.9"/>
<g clip-path="url(#c6)"><circle cx="263.5" cy="199.9" r="1.6" fill="#2424cc"/><circle cx="208.9" cy="212.3" r="1.6" fill="#2424cc"/><circle cx="233.6" cy="211.4" r="1.6" fill="#2424cc"/><circle cx="216.8" cy="233.8" r="1.6" fill="#2424cc"/><circle cx="219.6" cy="234.4" r="1.6" fill="#2424cc"/><circle cx="217.4" cy="236.6" r="1.6" fill="#2424cc"/><circle cx="219.6" cy="238.2" r="1.6" fill="#2424cc"/><circle cx="203.7" cy="233.3" r="1.6" fill="#2424cc"/><circle cx="204.8" cy="237.7" r="1.6" fill="#2424cc"/><circle cx="202.6" cy="238.8" r="1.6" fill="#2424cc"/><circle cx="200.4" cy="239.9" r="1.6" fill="#2424cc"/><circle cx="198.2" cy="241.5" r="1.6" fill="#2424cc"/><circle cx="194.9" cy="238.2" r="1.6" fill="#2424cc"/><circle cx="197.1" cy="239.9" r="1.6" fill="#2424cc"/><circle cx="190" cy="238.8" r="1.6" fill="#2424cc"/><circle cx="188.9" cy="240.4" r="1.6" fill="#2424cc"/><circle cx="191.7" cy="241" r="1.6" fill="#2424cc"/><circle cx="199.3" cy="242.6" r="1.6" fill="#2424cc"/>
<path d="M190,240.8 L191.82,239.95 L193.64,239.09 L195.46,238.2 L197.28,237.29 L199.1,236.35 L200.92,235.38 L202.74,234.39 L204.56,233.37 L206.38,232.33 L208.2,231.27 L210.02,230.2 L211.84,229.12 L213.66,228.02 L215.48,226.92 L217.3,225.8 L219.12,224.69 L220.94,223.57 L222.76,222.44 L224.58,221.31 L226.4,220.18 L228.22,219.05 L230.04,217.91 L231.86,216.77 L233.68,215.63 L235.5,214.49 L237.32,213.35 L239.14,212.21 L240.96,211.06 L242.78,209.92 L244.6,208.77 L246.42,207.63 L248.24,206.48 L250.06,205.34 L251.88,204.19 L253.7,203.04 L255.52,201.89 L257.34,200.75 L259.16,199.6 L260.98,198.45 L262.8,197.3 L262.8,211.9 L260.98,212.65 L259.16,213.4 L257.34,214.15 L255.52,214.91 L253.7,215.66 L251.88,216.41 L250.06,217.16 L248.24,217.92 L246.42,218.67 L244.6,219.43 L242.78,220.18 L240.96,220.94 L239.14,221.69 L237.32,222.45 L235.5,223.21 L233.68,223.97 L231.86,224.73 L230.04,225.49 L228.22,226.25 L226.4,227.02 L224.58,227.79 L222.76,228.56 L220.94,229.33 L219.12,230.11 L217.3,230.9 L215.48,231.68 L213.66,232.48 L211.84,233.28 L210.02,234.1 L208.2,234.93 L206.38,235.77 L204.56,236.63 L202.74,237.51 L200.92,238.42 L199.1,239.35 L197.28,240.31 L195.46,241.3 L193.64,242.31 L191.82,243.35 L190,244.4 Z" fill="#999999" fill-opacity="0.32"/>
<line x1="190" y1="242.6" x2="262.8" y2="204.6" stroke="#141414" stroke-width="1.55"/></g>
<rect x="270.8" y="198.1" width="81" height="46.2" fill="#EBEBEB" />
<line x1="286.75" y1="198.1" x2="286.75" y2="244.3" stroke="#FFFFFF" stroke-width="0.35" stroke-opacity="0.55"/><line x1="313.75" y1="198.1" x2="313.75" y2="244.3" stroke="#FFFFFF" stroke-width="0.35" stroke-opacity="0.55"/><line x1="340.75" y1="198.1" x2="340.75" y2="244.3" stroke="#FFFFFF" stroke-width="0.35" stroke-opacity="0.55"/><line x1="270.8" y1="209.24" x2="351.8" y2="209.24" stroke="#FFFFFF" stroke-width="0.35" stroke-opacity="0.55"/><line x1="270.8" y1="222.58" x2="351.8" y2="222.58" stroke="#FFFFFF" stroke-width="0.35" stroke-opacity="0.55"/><line x1="270.8" y1="235.93" x2="351.8" y2="235.93" stroke="#FFFFFF" stroke-width="0.35" stroke-opacity="0.55"/><line x1="273.2" y1="198.1" x2="273.2" y2="244.3" stroke="#FFFFFF" stroke-width="0.55" stroke-opacity="0.9"/><line x1="300.3" y1="198.1" x2="300.3" y2="244.3" stroke="#FFFFFF" stroke-width="0.55" stroke-opacity="0.9"/><line x1="327.2" y1="198.1" x2="327.2" y2="244.3" stroke="#FFFFFF" stroke-width="0.55" stroke-opacity="0.9"/><line x1="270.8" y1="242.6" x2="351.8" y2="242.6" stroke="#FFFFFF" stroke-width="0.55" stroke-opacity="0.9"/><line x1="270.8" y1="229.26" x2="351.8" y2="229.26" stroke="#FFFFFF" stroke-width="0.55" stroke-opacity="0.9"/><line x1="270.8" y1="215.91" x2="351.8" y2="215.91" stroke="#FFFFFF" stroke-width="0.55" stroke-opacity="0.9"/><line x1="270.8" y1="202.57" x2="351.8" y2="202.57" stroke="#FFFFFF" stroke-width="0.55" stroke-opacity="0.9"/>
<path d="M274,242.6 L274,228.9 C274.37,226.53 275.38,219.07 276.2,214.7 C277.02,210.33 278.12,205.17 278.9,202.7 C279.68,200.23 280.25,199.9 280.9,199.9 C281.55,199.9 282.12,200.6 282.8,202.7 C283.48,204.8 284.18,209.13 285,212.5 C285.82,215.87 286.62,219.98 287.7,222.9 C288.78,225.82 290.22,227.45 291.5,230 C292.78,232.55 294.22,236.15 295.4,238.2 C296.58,240.25 294.42,241.62 298.6,242.3 C302.78,242.98 316.22,242.88 320.5,242.3 C324.78,241.72 323.05,239.67 324.3,238.8 C325.55,237.93 326.8,237.02 328,237.1 C329.2,237.18 330.38,238.48 331.5,239.3 C332.62,240.12 332.88,241.55 334.7,242 C336.52,242.45 340.48,242.27 342.4,242 C344.32,241.73 345.2,240.67 346.2,240.4 C347.2,240.13 348.03,240.4 348.4,240.4 L348.4,242.6 Z" fill="none" stroke="#595959" stroke-width="1.25" stroke-linejoin="round"/>
<text x="36.2" y="253.35" font-size="6.0" fill="#555555" text-anchor="middle" >1.5</text>
<text x="66" y="253.35" font-size="6.0" fill="#555555" text-anchor="middle" >2.0</text>
<text x="96.1" y="253.35" font-size="6.0" fill="#555555" text-anchor="middle" >2.5</text>
<text x="103.9" y="253.35" font-size="6.0" fill="#555555" text-anchor="middle" >0</text>
<text x="130.7" y="253.35" font-size="6.0" fill="#555555" text-anchor="middle" >1</text>
<text x="157.4" y="253.35" font-size="6.0" fill="#555555" text-anchor="middle" >2</text>
<text x="186.3" y="253.35" font-size="6.0" fill="#555555" text-anchor="middle" >0.0</text>
<text x="202.7" y="253.35" font-size="6.0" fill="#555555" text-anchor="middle" >0.5</text>
<text x="218.9" y="253.35" font-size="6.0" fill="#555555" text-anchor="middle" >1.0</text>
<text x="235.3" y="253.35" font-size="6.0" fill="#555555" text-anchor="middle" >1.5</text>
<text x="251.6" y="253.35" font-size="6.0" fill="#555555" text-anchor="middle" >2.0</text>
<text x="273.2" y="253.35" font-size="6.0" fill="#555555" text-anchor="middle" >0.0</text>
<text x="300.3" y="253.35" font-size="6.0" fill="#555555" text-anchor="middle" >0.5</text>
<text x="327.2" y="253.35" font-size="6.0" fill="#555555" text-anchor="middle" >1.0</text>
<text x="12.7" y="57.65" font-size="6.0" fill="#555555" text-anchor="end" >1.5</text>
<text x="12.7" y="69.35" font-size="6.0" fill="#555555" text-anchor="end" >1.0</text>
<text x="12.7" y="81.15" font-size="6.0" fill="#555555" text-anchor="end" >0.5</text>
<text x="12.7" y="92.85" font-size="6.0" fill="#555555" text-anchor="end" >0.0</text>
<text x="12.7" y="113.25" font-size="6.0" fill="#555555" text-anchor="end" >2</text>
<text x="12.7" y="128.25" font-size="6.0" fill="#555555" text-anchor="end" >1</text>
<text x="12.7" y="144.05" font-size="6.0" fill="#555555" text-anchor="end" >0</text>
<text x="12.7" y="158.75" font-size="6.0" fill="#555555" text-anchor="end" >2.0</text>
<text x="12.7" y="168.05" font-size="6.0" fill="#555555" text-anchor="end" >1.5</text>
<text x="12.7" y="177.35" font-size="6.0" fill="#555555" text-anchor="end" >1.0</text>
<text x="12.7" y="186.75" font-size="6.0" fill="#555555" text-anchor="end" >0.5</text>
<text x="12.7" y="195.95" font-size="6.0" fill="#555555" text-anchor="end" >0.0</text>
<text x="12.7" y="214.65" font-size="6.0" fill="#555555" text-anchor="end" >1.0</text>
<text x="12.7" y="229.95" font-size="6.0" fill="#555555" text-anchor="end" >0.5</text>
<text x="12.7" y="245.25" font-size="6.0" fill="#555555" text-anchor="end" >0.0</text>
<line x1="36.2" y1="244.3" x2="36.2" y2="246.1" stroke="#555" stroke-width="0.5"/><line x1="66" y1="244.3" x2="66" y2="246.1" stroke="#555" stroke-width="0.5"/><line x1="96.1" y1="244.3" x2="96.1" y2="246.1" stroke="#555" stroke-width="0.5"/><line x1="103.9" y1="244.3" x2="103.9" y2="246.1" stroke="#555" stroke-width="0.5"/><line x1="130.7" y1="244.3" x2="130.7" y2="246.1" stroke="#555" stroke-width="0.5"/><line x1="157.4" y1="244.3" x2="157.4" y2="246.1" stroke="#555" stroke-width="0.5"/><line x1="186.3" y1="244.3" x2="186.3" y2="246.1" stroke="#555" stroke-width="0.5"/><line x1="202.7" y1="244.3" x2="202.7" y2="246.1" stroke="#555" stroke-width="0.5"/><line x1="218.9" y1="244.3" x2="218.9" y2="246.1" stroke="#555" stroke-width="0.5"/><line x1="235.3" y1="244.3" x2="235.3" y2="246.1" stroke="#555" stroke-width="0.5"/><line x1="251.6" y1="244.3" x2="251.6" y2="246.1" stroke="#555" stroke-width="0.5"/><line x1="273.2" y1="244.3" x2="273.2" y2="246.1" stroke="#555" stroke-width="0.5"/><line x1="300.3" y1="244.3" x2="300.3" y2="246.1" stroke="#555" stroke-width="0.5"/><line x1="327.2" y1="244.3" x2="327.2" y2="246.1" stroke="#555" stroke-width="0.5"/><line x1="14.2" y1="55.5" x2="16" y2="55.5" stroke="#555" stroke-width="0.5"/><line x1="14.2" y1="67.2" x2="16" y2="67.2" stroke="#555" stroke-width="0.5"/><line x1="14.2" y1="79" x2="16" y2="79" stroke="#555" stroke-width="0.5"/><line x1="14.2" y1="90.7" x2="16" y2="90.7" stroke="#555" stroke-width="0.5"/><line x1="14.2" y1="111.1" x2="16" y2="111.1" stroke="#555" stroke-width="0.5"/><line x1="14.2" y1="126.1" x2="16" y2="126.1" stroke="#555" stroke-width="0.5"/><line x1="14.2" y1="141.9" x2="16" y2="141.9" stroke="#555" stroke-width="0.5"/><line x1="14.2" y1="156.6" x2="16" y2="156.6" stroke="#555" stroke-width="0.5"/><line x1="14.2" y1="165.9" x2="16" y2="165.9" stroke="#555" stroke-width="0.5"/><line x1="14.2" y1="175.2" x2="16" y2="175.2" stroke="#555" stroke-width="0.5"/><line x1="14.2" y1="184.6" x2="16" y2="184.6" stroke="#555" stroke-width="0.5"/><line x1="14.2" y1="193.8" x2="16" y2="193.8" stroke="#555" stroke-width="0.5"/><line x1="14.2" y1="212.5" x2="16" y2="212.5" stroke="#555" stroke-width="0.5"/><line x1="14.2" y1="227.8" x2="16" y2="227.8" stroke="#555" stroke-width="0.5"/><line x1="14.2" y1="243.1" x2="16" y2="243.1" stroke="#555" stroke-width="0.5"/>
<line x1="421" y1="30.6" x2="784.3" y2="30.6" stroke="#ededed" stroke-width="1.3"/>
<line x1="784.2" y1="30.6" x2="784.2" y2="256.5" stroke="#e0e0e0" stroke-width="1.2"/>
<line x1="421" y1="256.5" x2="784.2" y2="256.5" stroke="#d2d2d2" stroke-width="1.2"/>
<rect x="433.1" y="34.3" width="80.6" height="11.9" fill="#D9D9D9" />
<text x="473.4" y="42.47" font-size="6.2" fill="#3a3a3a" text-anchor="middle" >Quanterix</text>
<rect x="517.8" y="34.3" width="80.7" height="11.9" fill="#D9D9D9" />
<text x="558.15" y="42.47" font-size="6.2" fill="#3a3a3a" text-anchor="middle" >MSD</text>
<rect x="603" y="34.3" width="80.8" height="11.9" fill="#D9D9D9" />
<text x="643.4" y="42.47" font-size="6.2" fill="#3a3a3a" text-anchor="middle" >Luminex</text>
<rect x="687.8" y="34.3" width="80.5" height="11.9" fill="#D9D9D9" />
<text x="728.05" y="42.47" font-size="6.2" fill="#3a3a3a" text-anchor="middle" >Quantikine</text>
<rect x="769" y="46.2" width="11.5" height="46.7" fill="#D9D9D9" />
<text x="0" y="0" font-size="6.2" fill="#3a3a3a" text-anchor="middle" transform="translate(771.93,69.55) rotate(90)">Quanterix</text>
<rect x="769" y="96.8" width="11.5" height="46.8" fill="#D9D9D9" />
<text x="0" y="0" font-size="6.2" fill="#3a3a3a" text-anchor="middle" transform="translate(771.93,120.2) rotate(90)">MSD</text>
<rect x="769" y="147.8" width="11.5" height="46.3" fill="#D9D9D9" />
<text x="0" y="0" font-size="6.2" fill="#3a3a3a" text-anchor="middle" transform="translate(771.93,170.95) rotate(90)">Luminex</text>
<rect x="769" y="198.1" width="11.5" height="46.3" fill="#D9D9D9" />
<text x="0" y="0" font-size="6.2" fill="#3a3a3a" text-anchor="middle" transform="translate(771.93,221.25) rotate(90)">Quantikine</text>
<rect x="433.1" y="46.2" width="80.6" height="46.7" fill="#EBEBEB" />
<line x1="451.7" y1="46.2" x2="451.7" y2="92.9" stroke="#FFFFFF" stroke-width="0.35" stroke-opacity="0.55"/><line x1="470.9" y1="46.2" x2="470.9" y2="92.9" stroke="#FFFFFF" stroke-width="0.35" stroke-opacity="0.55"/><line x1="490.25" y1="46.2" x2="490.25" y2="92.9" stroke="#FFFFFF" stroke-width="0.35" stroke-opacity="0.55"/><line x1="509.4" y1="46.2" x2="509.4" y2="92.9" stroke="#FFFFFF" stroke-width="0.35" stroke-opacity="0.55"/><line x1="433.1" y1="67.25" x2="513.7" y2="67.25" stroke="#FFFFFF" stroke-width="0.35" stroke-opacity="0.55"/><line x1="433.1" y1="82.9" x2="513.7" y2="82.9" stroke="#FFFFFF" stroke-width="0.35" stroke-opacity="0.55"/><line x1="433.1" y1="51.55" x2="513.7" y2="51.55" stroke="#FFFFFF" stroke-width="0.35" stroke-opacity="0.55"/><line x1="442.2" y1="46.2" x2="442.2" y2="92.9" stroke="#FFFFFF" stroke-width="0.55" stroke-opacity="0.9"/><line x1="461.2" y1="46.2" x2="461.2" y2="92.9" stroke="#FFFFFF" stroke-width="0.55" stroke-opacity="0.9"/><line x1="480.6" y1="46.2" x2="480.6" y2="92.9" stroke="#FFFFFF" stroke-width="0.55" stroke-opacity="0.9"/><line x1="499.9" y1="46.2" x2="499.9" y2="92.9" stroke="#FFFFFF" stroke-width="0.55" stroke-opacity="0.9"/><line x1="433.1" y1="59.4" x2="513.7" y2="59.4" stroke="#FFFFFF" stroke-width="0.55" stroke-opacity="0.9"/><line x1="433.1" y1="75.1" x2="513.7" y2="75.1" stroke="#FFFFFF" stroke-width="0.55" stroke-opacity="0.9"/><line x1="433.1" y1="90.7" x2="513.7" y2="90.7" stroke="#FFFFFF" stroke-width="0.55" stroke-opacity="0.9"/>
<path d="M436.3,90.3 L436.3,72.2 C436.78,71.07 438.12,68.2 439.2,65.4 C440.28,62.6 441.62,58.07 442.8,55.4 C443.98,52.73 445.12,50.63 446.3,49.4 C447.48,48.17 448.58,47.83 449.9,48 C451.22,48.17 452.67,48.93 454.2,50.4 C455.73,51.87 457.33,54.42 459.1,56.8 C460.87,59.18 462.9,62.2 464.8,64.7 C466.7,67.2 468.6,69.83 470.5,71.8 C472.4,73.77 474.17,75.15 476.2,76.5 C478.23,77.85 480.55,78.95 482.7,79.9 C484.85,80.85 487.08,81.3 489.1,82.2 C491.12,83.1 493.02,84.3 494.8,85.3 C496.58,86.3 498.15,87.77 499.8,88.2 C501.45,88.63 502.93,88.02 504.7,87.9 C506.47,87.78 509.45,87.57 510.4,87.5 L510.4,90.3 Z" fill="none" stroke="#595959" stroke-width="1.25" stroke-linejoin="round"/>
<rect x="517.8" y="46.2" width="80.7" height="46.7" fill="#EBEBEB" />
<text x="540.09" y="73.7" font-size="11.6" fill="#1a1a1a" text-anchor="start" stroke="#1a1a1a" stroke-width="0.093">0.59</text>
<polygon points="564.92,65.06 565.58,66.19 566.86,66.46 565.99,67.44 566.12,68.73 564.92,68.21 563.73,68.73 563.86,67.44 562.99,66.46 564.27,66.19" fill="#1a1a1a"/>
<polygon points="569.44,65.06 570.09,66.19 571.37,66.46 570.5,67.44 570.63,68.73 569.44,68.21 568.24,68.73 568.37,67.44 567.51,66.46 568.78,66.19" fill="#1a1a1a"/>
<polygon points="573.95,65.06 574.61,66.19 575.88,66.46 575.01,67.44 575.14,68.73 573.95,68.21 572.76,68.73 572.89,67.44 572.02,66.46 573.29,66.19" fill="#1a1a1a"/>
<rect x="603" y="46.2" width="80.8" height="46.7" fill="#EBEBEB" />
<text x="625.76" y="74.49" font-size="13.8" fill="#1a1a1a" text-anchor="start" stroke="#1a1a1a" stroke-width="0.110">0.7</text>
<polygon points="647.62,64.21 648.4,65.55 649.92,65.88 648.89,67.03 649.04,68.58 647.62,67.95 646.2,68.58 646.36,67.03 645.33,65.88 646.84,65.55" fill="#1a1a1a"/>
<polygon points="652.99,64.21 653.77,65.55 655.29,65.88 654.25,67.03 654.41,68.58 652.99,67.95 651.57,68.58 651.73,67.03 650.69,65.88 652.21,65.55" fill="#1a1a1a"/>
<polygon points="658.36,64.21 659.14,65.55 660.66,65.88 659.62,67.03 659.78,68.58 658.36,67.95 656.94,68.58 657.1,67.03 656.06,65.88 657.58,65.55" fill="#1a1a1a"/>
<rect x="687.8" y="46.2" width="80.5" height="46.7" fill="#EBEBEB" />
<text x="708.44" y="74.06" font-size="12.6" fill="#1a1a1a" text-anchor="start" stroke="#1a1a1a" stroke-width="0.101">0.63</text>
<polygon points="735.41,64.67 736.12,65.9 737.51,66.2 736.56,67.25 736.7,68.66 735.41,68.09 734.11,68.66 734.26,67.25 733.31,66.2 734.7,65.9" fill="#1a1a1a"/>
<polygon points="740.31,64.67 741.02,65.9 742.41,66.2 741.46,67.25 741.61,68.66 740.31,68.09 739.01,68.66 739.16,67.25 738.21,66.2 739.6,65.9" fill="#1a1a1a"/>
<polygon points="745.21,64.67 745.92,65.9 747.31,66.2 746.36,67.25 746.51,68.66 745.21,68.09 743.92,68.66 744.06,67.25 743.11,66.2 744.5,65.9" fill="#1a1a1a"/>
<rect x="433.1" y="96.8" width="80.6" height="46.8" fill="#EBEBEB" />
<line x1="451.7" y1="96.8" x2="451.7" y2="143.6" stroke="#FFFFFF" stroke-width="0.35" stroke-opacity="0.55"/><line x1="470.9" y1="96.8" x2="470.9" y2="143.6" stroke="#FFFFFF" stroke-width="0.35" stroke-opacity="0.55"/><line x1="490.25" y1="96.8" x2="490.25" y2="143.6" stroke="#FFFFFF" stroke-width="0.35" stroke-opacity="0.55"/><line x1="509.4" y1="96.8" x2="509.4" y2="143.6" stroke="#FFFFFF" stroke-width="0.35" stroke-opacity="0.55"/><line x1="433.1" y1="110" x2="513.7" y2="110" stroke="#FFFFFF" stroke-width="0.35" stroke-opacity="0.55"/><line x1="433.1" y1="121.4" x2="513.7" y2="121.4" stroke="#FFFFFF" stroke-width="0.35" stroke-opacity="0.55"/><line x1="433.1" y1="132.65" x2="513.7" y2="132.65" stroke="#FFFFFF" stroke-width="0.35" stroke-opacity="0.55"/><line x1="433.1" y1="98.6" x2="513.7" y2="98.6" stroke="#FFFFFF" stroke-width="0.35" stroke-opacity="0.55"/><line x1="442.2" y1="96.8" x2="442.2" y2="143.6" stroke="#FFFFFF" stroke-width="0.55" stroke-opacity="0.9"/><line x1="461.2" y1="96.8" x2="461.2" y2="143.6" stroke="#FFFFFF" stroke-width="0.55" stroke-opacity="0.9"/><line x1="480.6" y1="96.8" x2="480.6" y2="143.6" stroke="#FFFFFF" stroke-width="0.55" stroke-opacity="0.9"/><line x1="499.9" y1="96.8" x2="499.9" y2="143.6" stroke="#FFFFFF" stroke-width="0.55" stroke-opacity="0.9"/><line x1="433.1" y1="104.3" x2="513.7" y2="104.3" stroke="#FFFFFF" stroke-width="0.55" stroke-opacity="0.9"/><line x1="433.1" y1="115.7" x2="513.7" y2="115.7" stroke="#FFFFFF" stroke-width="0.55" stroke-opacity="0.9"/><line x1="433.1" y1="127.1" x2="513.7" y2="127.1" stroke="#FFFFFF" stroke-width="0.55" stroke-opacity="0.9"/><line x1="433.1" y1="138.2" x2="513.7" y2="138.2" stroke="#FFFFFF" stroke-width="0.55" stroke-opacity="0.9"/>
<g clip-path="url(#c7)"><circle cx="480.2" cy="99" r="1.6" fill="#2424cc"/><circle cx="490.2" cy="104.7" r="1.6" fill="#2424cc"/><circle cx="510.4" cy="120.1" r="1.6" fill="#2424cc"/><circle cx="436.6" cy="130" r="1.6" fill="#2424cc"/><circle cx="447.7" cy="123.2" r="1.6" fill="#2424cc"/><circle cx="452" cy="120.6" r="1.6" fill="#2424cc"/><circle cx="459.9" cy="118.9" r="1.6" fill="#2424cc"/><circle cx="462.7" cy="120.4" r="1.6" fill="#2424cc"/><circle cx="466" cy="121.5" r="1.6" fill="#2424cc"/><circle cx="457.7" cy="122.5" r="1.6" fill="#2424cc"/><circle cx="471.3" cy="123.5" r="1.6" fill="#2424cc"/><circle cx="445.6" cy="127.5" r="1.6" fill="#2424cc"/><circle cx="444.9" cy="130" r="1.6" fill="#2424cc"/><circle cx="454.2" cy="132.2" r="1.6" fill="#2424cc"/><circle cx="459.9" cy="127.1" r="1.6" fill="#2424cc"/><circle cx="447" cy="133.2" r="1.6" fill="#2424cc"/><circle cx="447.7" cy="136.7" r="1.6" fill="#2424cc"/><circle cx="449.2" cy="137.2" r="1.6" fill="#2424cc"/><circle cx="464.1" cy="137.2" r="1.6" fill="#2424cc"/><circle cx="477.4" cy="130" r="1.6" fill="#2424cc"/><circle cx="489.8" cy="128.2" r="1.6" fill="#2424cc"/><circle cx="440.9" cy="141.4" r="1.6" fill="#2424cc"/><circle cx="446.3" cy="140.7" r="1.6" fill="#2424cc"/><circle cx="450.9" cy="140" r="1.6" fill="#2424cc"/><circle cx="437.8" cy="134.6" r="1.6" fill="#2424cc"/>
<path d="M437.1,131.4 L438.93,130.98 L440.77,130.56 L442.6,130.12 L444.43,129.68 L446.26,129.22 L448.1,128.74 L449.93,128.24 L451.76,127.73 L453.59,127.19 L455.43,126.62 L457.26,126.03 L459.09,125.4 L460.92,124.76 L462.75,124.08 L464.59,123.39 L466.42,122.67 L468.25,121.94 L470.08,121.19 L471.92,120.44 L473.75,119.67 L475.58,118.89 L477.42,118.11 L479.25,117.32 L481.08,116.53 L482.91,115.73 L484.75,114.93 L486.58,114.12 L488.41,113.32 L490.24,112.51 L492.07,111.69 L493.91,110.88 L495.74,110.06 L497.57,109.25 L499.4,108.43 L501.24,107.61 L503.07,106.79 L504.9,105.97 L506.74,105.15 L508.57,104.32 L510.4,103.5 L510.4,117.9 L508.57,118.27 L506.74,118.64 L504.9,119.02 L503.07,119.39 L501.24,119.77 L499.4,120.14 L497.57,120.52 L495.74,120.9 L493.91,121.28 L492.07,121.66 L490.24,122.04 L488.41,122.42 L486.58,122.81 L484.75,123.2 L482.91,123.6 L481.08,123.99 L479.25,124.39 L477.42,124.8 L475.58,125.21 L473.75,125.63 L471.92,126.06 L470.08,126.5 L468.25,126.94 L466.42,127.41 L464.59,127.89 L462.75,128.39 L460.92,128.91 L459.09,129.46 L457.26,130.03 L455.43,130.63 L453.59,131.26 L451.76,131.91 L449.93,132.59 L448.1,133.29 L446.26,134.01 L444.43,134.74 L442.6,135.49 L440.77,136.25 L438.93,137.02 L437.1,137.8 Z" fill="#999999" fill-opacity="0.32"/>
<line x1="437.1" y1="134.6" x2="510.4" y2="110.7" stroke="#141414" stroke-width="1.55"/></g>
<rect x="517.8" y="96.8" width="80.7" height="46.8" fill="#EBEBEB" />
<line x1="537.2" y1="96.8" x2="537.2" y2="143.6" stroke="#FFFFFF" stroke-width="0.35" stroke-opacity="0.55"/><line x1="556.75" y1="96.8" x2="556.75" y2="143.6" stroke="#FFFFFF" stroke-width="0.35" stroke-opacity="0.55"/><line x1="576.25" y1="96.8" x2="576.25" y2="143.6" stroke="#FFFFFF" stroke-width="0.35" stroke-opacity="0.55"/><line x1="595.8" y1="96.8" x2="595.8" y2="143.6" stroke="#FFFFFF" stroke-width="0.35" stroke-opacity="0.55"/><line x1="517.8" y1="107.78" x2="598.5" y2="107.78" stroke="#FFFFFF" stroke-width="0.35" stroke-opacity="0.55"/><line x1="517.8" y1="121.19" x2="598.5" y2="121.19" stroke="#FFFFFF" stroke-width="0.35" stroke-opacity="0.55"/><line x1="517.8" y1="134.6" x2="598.5" y2="134.6" stroke="#FFFFFF" stroke-width="0.35" stroke-opacity="0.55"/><line x1="527.4" y1="96.8" x2="527.4" y2="143.6" stroke="#FFFFFF" stroke-width="0.55" stroke-opacity="0.9"/><line x1="547" y1="96.8" x2="547" y2="143.6" stroke="#FFFFFF" stroke-width="0.55" stroke-opacity="0.9"/><line x1="566.5" y1="96.8" x2="566.5" y2="143.6" stroke="#FFFFFF" stroke-width="0.55" stroke-opacity="0.9"/><line x1="586" y1="96.8" x2="586" y2="143.6" stroke="#FFFFFF" stroke-width="0.55" stroke-opacity="0.9"/><line x1="517.8" y1="141.3" x2="598.5" y2="141.3" stroke="#FFFFFF" stroke-width="0.55" stroke-opacity="0.9"/><line x1="517.8" y1="127.89" x2="598.5" y2="127.89" stroke="#FFFFFF" stroke-width="0.55" stroke-opacity="0.9"/><line x1="517.8" y1="114.49" x2="598.5" y2="114.49" stroke="#FFFFFF" stroke-width="0.55" stroke-opacity="0.9"/><line x1="517.8" y1="101.08" x2="598.5" y2="101.08" stroke="#FFFFFF" stroke-width="0.55" stroke-opacity="0.9"/>
<path d="M521.3,141.3 L521.3,122.2 C521.88,121.23 523.3,118.55 524.8,116.4 C526.3,114.25 528.47,111.48 530.3,109.3 C532.13,107.12 534.15,104.93 535.8,103.3 C537.45,101.67 538.93,100.32 540.2,99.5 C541.47,98.68 541.77,98.5 543.4,98.4 C545.03,98.3 548.35,98.53 550,98.9 C551.65,99.27 552.2,99.6 553.3,100.6 C554.4,101.6 555.32,102.72 556.6,104.9 C557.88,107.08 559.63,110.6 561,113.7 C562.37,116.8 563.53,120.22 564.8,123.5 C566.07,126.78 567.42,130.93 568.6,133.4 C569.78,135.87 570.62,137.35 571.9,138.3 C573.18,139.25 574.48,139.28 576.3,139.1 C578.12,138.92 580.62,137.67 582.8,137.2 C584.98,136.73 587.57,136.38 589.4,136.3 C591.23,136.22 592.8,136.55 593.8,136.7 C594.8,136.85 595.13,137.12 595.4,137.2 L595.4,141.3 Z" fill="none" stroke="#595959" stroke-width="1.25" stroke-linejoin="round"/>
<rect x="603" y="96.8" width="80.8" height="46.8" fill="#EBEBEB" />
<text x="624.88" y="124.46" font-size="11.9" fill="#1a1a1a" text-anchor="start" stroke="#1a1a1a" stroke-width="0.095">0.61</text>
<polygon points="650.35,115.59 651.02,116.75 652.33,117.03 651.44,118.03 651.57,119.36 650.35,118.82 649.13,119.36 649.26,118.03 648.37,117.03 649.68,116.75" fill="#1a1a1a"/>
<polygon points="654.98,115.59 655.65,116.75 656.96,117.03 656.07,118.03 656.2,119.36 654.98,118.82 653.75,119.36 653.89,118.03 653,117.03 654.31,116.75" fill="#1a1a1a"/>
<polygon points="659.61,115.59 660.28,116.75 661.59,117.03 660.7,118.03 660.83,119.36 659.61,118.82 658.38,119.36 658.52,118.03 657.63,117.03 658.93,116.75" fill="#1a1a1a"/>
<rect x="687.8" y="96.8" width="80.5" height="46.8" fill="#EBEBEB" />
<text x="701.59" y="126.29" font-size="17" fill="#1a1a1a" text-anchor="start" stroke="#1a1a1a" stroke-width="0.136">0.86</text>
<polygon points="737.98,113.62 738.94,115.27 740.81,115.68 739.53,117.1 739.73,119 737.98,118.23 736.23,119 736.42,117.1 735.15,115.68 737.02,115.27" fill="#1a1a1a"/>
<polygon points="744.59,113.62 745.55,115.27 747.42,115.68 746.15,117.1 746.34,119 744.59,118.23 742.84,119 743.03,117.1 741.76,115.68 743.63,115.27" fill="#1a1a1a"/>
<polygon points="751.2,113.62 752.17,115.27 754.03,115.68 752.76,117.1 752.95,119 751.2,118.23 749.46,119 749.65,117.1 748.37,115.68 750.24,115.27" fill="#1a1a1a"/>
<rect x="433.1" y="147.8" width="80.6" height="46.3" fill="#EBEBEB" />
<line x1="451.7" y1="147.8" x2="451.7" y2="194.1" stroke="#FFFFFF" stroke-width="0.35" stroke-opacity="0.55"/><line x1="470.9" y1="147.8" x2="470.9" y2="194.1" stroke="#FFFFFF" stroke-width="0.35" stroke-opacity="0.55"/><line x1="490.25" y1="147.8" x2="490.25" y2="194.1" stroke="#FFFFFF" stroke-width="0.35" stroke-opacity="0.55"/><line x1="509.4" y1="147.8" x2="509.4" y2="194.1" stroke="#FFFFFF" stroke-width="0.35" stroke-opacity="0.55"/><line x1="433.1" y1="160.5" x2="513.7" y2="160.5" stroke="#FFFFFF" stroke-width="0.35" stroke-opacity="0.55"/><line x1="433.1" y1="171" x2="513.7" y2="171" stroke="#FFFFFF" stroke-width="0.35" stroke-opacity="0.55"/><line x1="433.1" y1="181.65" x2="513.7" y2="181.65" stroke="#FFFFFF" stroke-width="0.35" stroke-opacity="0.55"/><line x1="433.1" y1="150.1" x2="513.7" y2="150.1" stroke="#FFFFFF" stroke-width="0.35" stroke-opacity="0.55"/><line x1="433.1" y1="192.2" x2="513.7" y2="192.2" stroke="#FFFFFF" stroke-width="0.35" stroke-opacity="0.55"/><line x1="442.2" y1="147.8" x2="442.2" y2="194.1" stroke="#FFFFFF" stroke-width="0.55" stroke-opacity="0.9"/><line x1="461.2" y1="147.8" x2="461.2" y2="194.1" stroke="#FFFFFF" stroke-width="0.55" stroke-opacity="0.9"/><line x1="480.6" y1="147.8" x2="480.6" y2="194.1" stroke="#FFFFFF" stroke-width="0.55" stroke-opacity="0.9"/><line x1="499.9" y1="147.8" x2="499.9" y2="194.1" stroke="#FFFFFF" stroke-width="0.55" stroke-opacity="0.9"/><line x1="433.1" y1="155.3" x2="513.7" y2="155.3" stroke="#FFFFFF" stroke-width="0.55" stroke-opacity="0.9"/><line x1="433.1" y1="165.7" x2="513.7" y2="165.7" stroke="#FFFFFF" stroke-width="0.55" stroke-opacity="0.9"/><line x1="433.1" y1="176.3" x2="513.7" y2="176.3" stroke="#FFFFFF" stroke-width="0.55" stroke-opacity="0.9"/><line x1="433.1" y1="187" x2="513.7" y2="187" stroke="#FFFFFF" stroke-width="0.55" stroke-opacity="0.9"/>
<g clip-path="url(#c8)"><circle cx="480.2" cy="149.6" r="1.6" fill="#2424cc"/><circle cx="490.2" cy="151.4" r="1.6" fill="#2424cc"/><circle cx="510.4" cy="156.1" r="1.6" fill="#2424cc"/><circle cx="470.5" cy="162.8" r="1.6" fill="#2424cc"/><circle cx="463.1" cy="165" r="1.6" fill="#2424cc"/><circle cx="466.3" cy="167.1" r="1.6" fill="#2424cc"/><circle cx="489.8" cy="171.4" r="1.6" fill="#2424cc"/><circle cx="454.2" cy="170.6" r="1.6" fill="#2424cc"/><circle cx="457.7" cy="169.9" r="1.6" fill="#2424cc"/><circle cx="459.9" cy="170.6" r="1.6" fill="#2424cc"/><circle cx="446.3" cy="172.1" r="1.6" fill="#2424cc"/><circle cx="450.6" cy="172.8" r="1.6" fill="#2424cc"/><circle cx="452.7" cy="174.9" r="1.6" fill="#2424cc"/><circle cx="447.7" cy="176.1" r="1.6" fill="#2424cc"/><circle cx="437.8" cy="176.1" r="1.6" fill="#2424cc"/><circle cx="472.4" cy="175.6" r="1.6" fill="#2424cc"/><circle cx="455.9" cy="179.9" r="1.6" fill="#2424cc"/><circle cx="459.9" cy="179.9" r="1.6" fill="#2424cc"/><circle cx="440.6" cy="181.3" r="1.6" fill="#2424cc"/><circle cx="444.2" cy="182.3" r="1.6" fill="#2424cc"/><circle cx="445.6" cy="182.8" r="1.6" fill="#2424cc"/><circle cx="464.6" cy="182.3" r="1.6" fill="#2424cc"/><circle cx="477.4" cy="182" r="1.6" fill="#2424cc"/><circle cx="452" cy="183.8" r="1.6" fill="#2424cc"/><circle cx="448.5" cy="187.5" r="1.6" fill="#2424cc"/><circle cx="446.3" cy="190.3" r="1.6" fill="#2424cc"/><circle cx="436.6" cy="192" r="1.6" fill="#2424cc"/>
<path d="M437.1,179.6 L438.93,179.06 L440.77,178.52 L442.6,177.97 L444.43,177.42 L446.26,176.86 L448.1,176.3 L449.93,175.72 L451.76,175.14 L453.59,174.55 L455.43,173.94 L457.26,173.31 L459.09,172.66 L460.92,171.98 L462.75,171.27 L464.59,170.53 L466.42,169.76 L468.25,168.95 L470.08,168.1 L471.92,167.23 L473.75,166.33 L475.58,165.41 L477.42,164.46 L479.25,163.51 L481.08,162.54 L482.91,161.55 L484.75,160.56 L486.58,159.57 L488.41,158.57 L490.24,157.56 L492.07,156.55 L493.91,155.53 L495.74,154.51 L497.57,153.49 L499.4,152.47 L501.24,151.45 L503.07,150.42 L504.9,149.39 L506.74,148.36 L508.57,147.33 L510.4,146.3 L510.4,159.9 L508.57,160.42 L506.74,160.95 L504.9,161.47 L503.07,162 L501.24,162.53 L499.4,163.06 L497.57,163.59 L495.74,164.13 L493.91,164.66 L492.07,165.2 L490.24,165.75 L488.41,166.29 L486.58,166.85 L484.75,167.41 L482.91,167.97 L481.08,168.54 L479.25,169.13 L477.42,169.73 L475.58,170.34 L473.75,170.97 L471.92,171.63 L470.08,172.31 L468.25,173.02 L466.42,173.76 L464.59,174.54 L462.75,175.36 L460.92,176.21 L459.09,177.08 L457.26,177.99 L455.43,178.91 L453.59,179.86 L451.76,180.82 L449.93,181.79 L448.1,182.77 L446.26,183.76 L444.43,184.76 L442.6,185.76 L440.77,186.77 L438.93,187.78 L437.1,188.8 Z" fill="#999999" fill-opacity="0.32"/>
<line x1="437.1" y1="184.2" x2="510.4" y2="153.1" stroke="#141414" stroke-width="1.55"/></g>
<rect x="517.8" y="147.8" width="80.7" height="46.3" fill="#EBEBEB" />
<line x1="537.2" y1="147.8" x2="537.2" y2="194.1" stroke="#FFFFFF" stroke-width="0.35" stroke-opacity="0.55"/><line x1="556.75" y1="147.8" x2="556.75" y2="194.1" stroke="#FFFFFF" stroke-width="0.35" stroke-opacity="0.55"/><line x1="576.25" y1="147.8" x2="576.25" y2="194.1" stroke="#FFFFFF" stroke-width="0.35" stroke-opacity="0.55"/><line x1="595.8" y1="147.8" x2="595.8" y2="194.1" stroke="#FFFFFF" stroke-width="0.35" stroke-opacity="0.55"/><line x1="517.8" y1="160.5" x2="598.5" y2="160.5" stroke="#FFFFFF" stroke-width="0.35" stroke-opacity="0.55"/><line x1="517.8" y1="171" x2="598.5" y2="171" stroke="#FFFFFF" stroke-width="0.35" stroke-opacity="0.55"/><line x1="517.8" y1="181.65" x2="598.5" y2="181.65" stroke="#FFFFFF" stroke-width="0.35" stroke-opacity="0.55"/><line x1="517.8" y1="150.1" x2="598.5" y2="150.1" stroke="#FFFFFF" stroke-width="0.35" stroke-opacity="0.55"/><line x1="517.8" y1="192.2" x2="598.5" y2="192.2" stroke="#FFFFFF" stroke-width="0.35" stroke-opacity="0.55"/><line x1="527.4" y1="147.8" x2="527.4" y2="194.1" stroke="#FFFFFF" stroke-width="0.55" stroke-opacity="0.9"/><line x1="547" y1="147.8" x2="547" y2="194.1" stroke="#FFFFFF" stroke-width="0.55" stroke-opacity="0.9"/><line x1="566.5" y1="147.8" x2="566.5" y2="194.1" stroke="#FFFFFF" stroke-width="0.55" stroke-opacity="0.9"/><line x1="586" y1="147.8" x2="586" y2="194.1" stroke="#FFFFFF" stroke-width="0.55" stroke-opacity="0.9"/><line x1="517.8" y1="155.3" x2="598.5" y2="155.3" stroke="#FFFFFF" stroke-width="0.55" stroke-opacity="0.9"/><line x1="517.8" y1="165.7" x2="598.5" y2="165.7" stroke="#FFFFFF" stroke-width="0.55" stroke-opacity="0.9"/><line x1="517.8" y1="176.3" x2="598.5" y2="176.3" stroke="#FFFFFF" stroke-width="0.55" stroke-opacity="0.9"/><line x1="517.8" y1="187" x2="598.5" y2="187" stroke="#FFFFFF" stroke-width="0.55" stroke-opacity="0.9"/>
<g clip-path="url(#c9)"><circle cx="595.2" cy="149.4" r="1.6" fill="#2424cc"/><circle cx="584.7" cy="151.6" r="1.6" fill="#2424cc"/><circle cx="558.4" cy="155.9" r="1.6" fill="#2424cc"/><circle cx="553.1" cy="162.5" r="1.6" fill="#2424cc"/><circle cx="557.1" cy="164.7" r="1.6" fill="#2424cc"/><circle cx="556" cy="166.3" r="1.6" fill="#2424cc"/><circle cx="554.6" cy="168" r="1.6" fill="#2424cc"/><circle cx="553.8" cy="169.9" r="1.6" fill="#2424cc"/><circle cx="522.7" cy="172.4" r="1.6" fill="#2424cc"/><circle cx="536.9" cy="170.9" r="1.6" fill="#2424cc"/><circle cx="544.5" cy="171.3" r="1.6" fill="#2424cc"/><circle cx="528.7" cy="175.6" r="1.6" fill="#2424cc"/><circle cx="533.1" cy="176.2" r="1.6" fill="#2424cc"/><circle cx="535.2" cy="176.7" r="1.6" fill="#2424cc"/><circle cx="540.7" cy="174.8" r="1.6" fill="#2424cc"/><circle cx="521.3" cy="180.9" r="1.6" fill="#2424cc"/><circle cx="545.1" cy="180" r="1.6" fill="#2424cc"/><circle cx="546.7" cy="180" r="1.6" fill="#2424cc"/><circle cx="545.4" cy="182.2" r="1.6" fill="#2424cc"/><circle cx="540.9" cy="182.2" r="1.6" fill="#2424cc"/><circle cx="553.3" cy="178.7" r="1.6" fill="#2424cc"/><circle cx="557.1" cy="183.5" r="1.6" fill="#2424cc"/><circle cx="561" cy="184.9" r="1.6" fill="#2424cc"/><circle cx="553.1" cy="187.5" r="1.6" fill="#2424cc"/><circle cx="528.5" cy="187.1" r="1.6" fill="#2424cc"/><circle cx="531.2" cy="192" r="1.6" fill="#2424cc"/><circle cx="539.3" cy="190.4" r="1.6" fill="#2424cc"/><circle cx="540.9" cy="192" r="1.6" fill="#2424cc"/>
<path d="M522.1,181.3 L523.91,180.83 L525.72,180.35 L527.53,179.87 L529.34,179.38 L531.15,178.89 L532.96,178.38 L534.77,177.85 L536.58,177.31 L538.39,176.74 L540.2,176.15 L542.01,175.52 L543.82,174.85 L545.63,174.14 L547.44,173.38 L549.25,172.59 L551.06,171.75 L552.87,170.89 L554.68,170 L556.49,169.09 L558.3,168.16 L560.11,167.23 L561.92,166.28 L563.73,165.32 L565.54,164.36 L567.35,163.39 L569.16,162.42 L570.97,161.45 L572.78,160.47 L574.59,159.49 L576.4,158.5 L578.21,157.52 L580.02,156.53 L581.83,155.54 L583.64,154.55 L585.45,153.56 L587.26,152.57 L589.07,151.58 L590.88,150.59 L592.69,149.59 L594.5,148.6 L594.5,164.4 L592.69,164.85 L590.88,165.29 L589.07,165.74 L587.26,166.19 L585.45,166.64 L583.64,167.09 L581.83,167.54 L580.02,167.99 L578.21,168.44 L576.4,168.9 L574.59,169.35 L572.78,169.81 L570.97,170.27 L569.16,170.74 L567.35,171.21 L565.54,171.68 L563.73,172.16 L561.92,172.64 L560.11,173.13 L558.3,173.64 L556.49,174.15 L554.68,174.68 L552.87,175.23 L551.06,175.81 L549.25,176.41 L547.44,177.06 L545.63,177.74 L543.82,178.47 L542.01,179.24 L540.2,180.05 L538.39,180.9 L536.58,181.77 L534.77,182.67 L532.96,183.58 L531.15,184.51 L529.34,185.46 L527.53,186.41 L525.72,187.37 L523.91,188.33 L522.1,189.3 Z" fill="#999999" fill-opacity="0.32"/>
<line x1="522.1" y1="185.3" x2="594.5" y2="156.5" stroke="#141414" stroke-width="1.55"/></g>
<rect x="603" y="147.8" width="80.8" height="46.3" fill="#EBEBEB" />
<line x1="624.4" y1="147.8" x2="624.4" y2="194.1" stroke="#FFFFFF" stroke-width="0.35" stroke-opacity="0.55"/><line x1="643.3" y1="147.8" x2="643.3" y2="194.1" stroke="#FFFFFF" stroke-width="0.35" stroke-opacity="0.55"/><line x1="662.05" y1="147.8" x2="662.05" y2="194.1" stroke="#FFFFFF" stroke-width="0.35" stroke-opacity="0.55"/><line x1="605.4" y1="147.8" x2="605.4" y2="194.1" stroke="#FFFFFF" stroke-width="0.35" stroke-opacity="0.55"/><line x1="680.9" y1="147.8" x2="680.9" y2="194.1" stroke="#FFFFFF" stroke-width="0.35" stroke-opacity="0.55"/><line x1="603" y1="158.78" x2="683.8" y2="158.78" stroke="#FFFFFF" stroke-width="0.35" stroke-opacity="0.55"/><line x1="603" y1="172.19" x2="683.8" y2="172.19" stroke="#FFFFFF" stroke-width="0.35" stroke-opacity="0.55"/><line x1="603" y1="185.6" x2="683.8" y2="185.6" stroke="#FFFFFF" stroke-width="0.35" stroke-opacity="0.55"/><line x1="614.9" y1="147.8" x2="614.9" y2="194.1" stroke="#FFFFFF" stroke-width="0.55" stroke-opacity="0.9"/><line x1="633.9" y1="147.8" x2="633.9" y2="194.1" stroke="#FFFFFF" stroke-width="0.55" stroke-opacity="0.9"/><line x1="652.7" y1="147.8" x2="652.7" y2="194.1" stroke="#FFFFFF" stroke-width="0.55" stroke-opacity="0.9"/><line x1="671.4" y1="147.8" x2="671.4" y2="194.1" stroke="#FFFFFF" stroke-width="0.55" stroke-opacity="0.9"/><line x1="603" y1="192.3" x2="683.8" y2="192.3" stroke="#FFFFFF" stroke-width="0.55" stroke-opacity="0.9"/><line x1="603" y1="178.89" x2="683.8" y2="178.89" stroke="#FFFFFF" stroke-width="0.55" stroke-opacity="0.9"/><line x1="603" y1="165.49" x2="683.8" y2="165.49" stroke="#FFFFFF" stroke-width="0.55" stroke-opacity="0.9"/><line x1="603" y1="152.08" x2="683.8" y2="152.08" stroke="#FFFFFF" stroke-width="0.55" stroke-opacity="0.9"/>
<path d="M606.3,192.3 L606.3,176.2 C607.07,175.38 609.22,173.48 610.9,171.3 C612.58,169.12 614.57,166.02 616.4,163.1 C618.23,160.18 620.43,155.9 621.9,153.8 C623.37,151.7 624.02,151.23 625.2,150.5 C626.38,149.77 627.55,149.32 629,149.4 C630.45,149.48 632.27,150.1 633.9,151 C635.53,151.9 637.15,152.88 638.8,154.8 C640.45,156.72 642.07,159.75 643.8,162.5 C645.53,165.25 647.38,168.57 649.2,171.3 C651.02,174.03 652.87,176.72 654.7,178.9 C656.53,181.08 658.38,183.3 660.2,184.4 C662.02,185.5 663.78,185.5 665.6,185.5 C667.42,185.5 669.27,184.73 671.1,184.4 C672.93,184.07 675.05,183.5 676.6,183.5 C678.15,183.5 679.77,184.25 680.4,184.4 L680.4,192.3 Z" fill="none" stroke="#595959" stroke-width="1.25" stroke-linejoin="round"/>
<rect x="687.8" y="147.8" width="80.5" height="46.3" fill="#EBEBEB" />
<text x="710.41" y="175.89" font-size="13.8" fill="#1a1a1a" text-anchor="start" stroke="#1a1a1a" stroke-width="0.110">0.7</text>
<polygon points="732.27,165.61 733.05,166.95 734.57,167.28 733.54,168.43 733.69,169.98 732.27,169.35 730.85,169.98 731.01,168.43 729.98,167.28 731.49,166.95" fill="#1a1a1a"/>
<polygon points="737.64,165.61 738.42,166.95 739.94,167.28 738.9,168.43 739.06,169.98 737.64,169.35 736.22,169.98 736.38,168.43 735.34,167.28 736.86,166.95" fill="#1a1a1a"/>
<polygon points="743.01,165.61 743.79,166.95 745.31,167.28 744.27,168.43 744.43,169.98 743.01,169.35 741.59,169.98 741.75,168.43 740.71,167.28 742.23,166.95" fill="#1a1a1a"/>
<rect x="433.1" y="198.1" width="80.6" height="46.3" fill="#EBEBEB" />
<line x1="451.7" y1="198.1" x2="451.7" y2="244.4" stroke="#FFFFFF" stroke-width="0.35" stroke-opacity="0.55"/><line x1="470.9" y1="198.1" x2="470.9" y2="244.4" stroke="#FFFFFF" stroke-width="0.35" stroke-opacity="0.55"/><line x1="490.25" y1="198.1" x2="490.25" y2="244.4" stroke="#FFFFFF" stroke-width="0.35" stroke-opacity="0.55"/><line x1="509.4" y1="198.1" x2="509.4" y2="244.4" stroke="#FFFFFF" stroke-width="0.35" stroke-opacity="0.55"/><line x1="433.1" y1="211.8" x2="513.7" y2="211.8" stroke="#FFFFFF" stroke-width="0.35" stroke-opacity="0.55"/><line x1="433.1" y1="223.35" x2="513.7" y2="223.35" stroke="#FFFFFF" stroke-width="0.35" stroke-opacity="0.55"/><line x1="433.1" y1="234.9" x2="513.7" y2="234.9" stroke="#FFFFFF" stroke-width="0.35" stroke-opacity="0.55"/><line x1="433.1" y1="200.4" x2="513.7" y2="200.4" stroke="#FFFFFF" stroke-width="0.35" stroke-opacity="0.55"/><line x1="442.2" y1="198.1" x2="442.2" y2="244.4" stroke="#FFFFFF" stroke-width="0.55" stroke-opacity="0.9"/><line x1="461.2" y1="198.1" x2="461.2" y2="244.4" stroke="#FFFFFF" stroke-width="0.55" stroke-opacity="0.9"/><line x1="480.6" y1="198.1" x2="480.6" y2="244.4" stroke="#FFFFFF" stroke-width="0.55" stroke-opacity="0.9"/><line x1="499.9" y1="198.1" x2="499.9" y2="244.4" stroke="#FFFFFF" stroke-width="0.55" stroke-opacity="0.9"/><line x1="433.1" y1="206.1" x2="513.7" y2="206.1" stroke="#FFFFFF" stroke-width="0.55" stroke-opacity="0.9"/><line x1="433.1" y1="217.5" x2="513.7" y2="217.5" stroke="#FFFFFF" stroke-width="0.55" stroke-opacity="0.9"/><line x1="433.1" y1="229.2" x2="513.7" y2="229.2" stroke="#FFFFFF" stroke-width="0.55" stroke-opacity="0.9"/><line x1="433.1" y1="240.6" x2="513.7" y2="240.6" stroke="#FFFFFF" stroke-width="0.55" stroke-opacity="0.9"/>
<g clip-path="url(#c10)"><circle cx="490.2" cy="200" r="1.6" fill="#2424cc"/><circle cx="480.2" cy="210.7" r="1.6" fill="#2424cc"/><circle cx="510.4" cy="222.1" r="1.6" fill="#2424cc"/><circle cx="470.5" cy="220.4" r="1.6" fill="#2424cc"/><circle cx="466.3" cy="222.5" r="1.6" fill="#2424cc"/><circle cx="463.1" cy="224.9" r="1.6" fill="#2424cc"/><circle cx="452" cy="228.2" r="1.6" fill="#2424cc"/><circle cx="454.2" cy="229.2" r="1.6" fill="#2424cc"/><circle cx="458.9" cy="229.2" r="1.6" fill="#2424cc"/><circle cx="444.2" cy="229.9" r="1.6" fill="#2424cc"/><circle cx="447.7" cy="233.2" r="1.6" fill="#2424cc"/><circle cx="472.4" cy="233.8" r="1.6" fill="#2424cc"/><circle cx="477.4" cy="236.3" r="1.6" fill="#2424cc"/><circle cx="489.8" cy="234.9" r="1.6" fill="#2424cc"/><circle cx="459.9" cy="235.6" r="1.6" fill="#2424cc"/><circle cx="455.9" cy="238" r="1.6" fill="#2424cc"/><circle cx="464.1" cy="238.5" r="1.6" fill="#2424cc"/><circle cx="446.3" cy="238.5" r="1.6" fill="#2424cc"/><circle cx="449.2" cy="238.9" r="1.6" fill="#2424cc"/><circle cx="446.3" cy="240.3" r="1.6" fill="#2424cc"/><circle cx="436.6" cy="240.6" r="1.6" fill="#2424cc"/><circle cx="440.9" cy="242.7" r="1.6" fill="#2424cc"/>
<path d="M437.1,236.7 L438.93,236.21 L440.77,235.72 L442.6,235.21 L444.43,234.68 L446.26,234.13 L448.1,233.57 L449.93,232.98 L451.76,232.36 L453.59,231.72 L455.43,231.05 L457.26,230.36 L459.09,229.65 L460.92,228.92 L462.75,228.17 L464.59,227.41 L466.42,226.64 L468.25,225.86 L470.08,225.07 L471.92,224.27 L473.75,223.47 L475.58,222.66 L477.42,221.84 L479.25,221.03 L481.08,220.21 L482.91,219.39 L484.75,218.56 L486.58,217.74 L488.41,216.91 L490.24,216.08 L492.07,215.25 L493.91,214.42 L495.74,213.59 L497.57,212.75 L499.4,211.92 L501.24,211.08 L503.07,210.25 L504.9,209.41 L506.74,208.58 L508.57,207.74 L510.4,206.9 L510.4,221.1 L508.57,221.52 L506.74,221.94 L504.9,222.37 L503.07,222.79 L501.24,223.22 L499.4,223.64 L497.57,224.07 L495.74,224.49 L493.91,224.92 L492.07,225.35 L490.24,225.78 L488.41,226.21 L486.58,226.64 L484.75,227.08 L482.91,227.51 L481.08,227.95 L479.25,228.39 L477.42,228.84 L475.58,229.28 L473.75,229.73 L471.92,230.19 L470.08,230.65 L468.25,231.12 L466.42,231.6 L464.59,232.09 L462.75,232.59 L460.92,233.1 L459.09,233.63 L457.26,234.18 L455.43,234.75 L453.59,235.34 L451.76,235.96 L449.93,236.6 L448.1,237.27 L446.26,237.97 L444.43,238.68 L442.6,239.41 L440.77,240.16 L438.93,240.93 L437.1,241.7 Z" fill="#999999" fill-opacity="0.32"/>
<line x1="437.1" y1="239.2" x2="510.4" y2="214" stroke="#141414" stroke-width="1.55"/></g>
<rect x="517.8" y="198.1" width="80.7" height="46.3" fill="#EBEBEB" />
<line x1="537.2" y1="198.1" x2="537.2" y2="244.4" stroke="#FFFFFF" stroke-width="0.35" stroke-opacity="0.55"/><line x1="556.75" y1="198.1" x2="556.75" y2="244.4" stroke="#FFFFFF" stroke-width="0.35" stroke-opacity="0.55"/><line x1="576.25" y1="198.1" x2="576.25" y2="244.4" stroke="#FFFFFF" stroke-width="0.35" stroke-opacity="0.55"/><line x1="595.8" y1="198.1" x2="595.8" y2="244.4" stroke="#FFFFFF" stroke-width="0.35" stroke-opacity="0.55"/><line x1="517.8" y1="211.8" x2="598.5" y2="211.8" stroke="#FFFFFF" stroke-width="0.35" stroke-opacity="0.55"/><line x1="517.8" y1="223.35" x2="598.5" y2="223.35" stroke="#FFFFFF" stroke-width="0.35" stroke-opacity="0.55"/><line x1="517.8" y1="234.9" x2="598.5" y2="234.9" stroke="#FFFFFF" stroke-width="0.35" stroke-opacity="0.55"/><line x1="517.8" y1="200.4" x2="598.5" y2="200.4" stroke="#FFFFFF" stroke-width="0.35" stroke-opacity="0.55"/><line x1="527.4" y1="198.1" x2="527.4" y2="244.4" stroke="#FFFFFF" stroke-width="0.55" stroke-opacity="0.9"/><line x1="547" y1="198.1" x2="547" y2="244.4" stroke="#FFFFFF" stroke-width="0.55" stroke-opacity="0.9"/><line x1="566.5" y1="198.1" x2="566.5" y2="244.4" stroke="#FFFFFF" stroke-width="0.55" stroke-opacity="0.9"/><line x1="586" y1="198.1" x2="586" y2="244.4" stroke="#FFFFFF" stroke-width="0.55" stroke-opacity="0.9"/><line x1="517.8" y1="206.1" x2="598.5" y2="206.1" stroke="#FFFFFF" stroke-width="0.55" stroke-opacity="0.9"/><line x1="517.8" y1="217.5" x2="598.5" y2="217.5" stroke="#FFFFFF" stroke-width="0.55" stroke-opacity="0.9"/><line x1="517.8" y1="229.2" x2="598.5" y2="229.2" stroke="#FFFFFF" stroke-width="0.55" stroke-opacity="0.9"/><line x1="517.8" y1="240.6" x2="598.5" y2="240.6" stroke="#FFFFFF" stroke-width="0.55" stroke-opacity="0.9"/>
<g clip-path="url(#c11)"><circle cx="584.7" cy="199.9" r="1.6" fill="#2424cc"/><circle cx="595.2" cy="210.5" r="1.6" fill="#2424cc"/><circle cx="561" cy="216.7" r="1.6" fill="#2424cc"/><circle cx="553.1" cy="220.2" r="1.6" fill="#2424cc"/><circle cx="556" cy="221.3" r="1.6" fill="#2424cc"/><circle cx="558.2" cy="221.8" r="1.6" fill="#2424cc"/><circle cx="554.4" cy="224.5" r="1.6" fill="#2424cc"/><circle cx="557.1" cy="227.6" r="1.6" fill="#2424cc"/><circle cx="559.9" cy="228.9" r="1.6" fill="#2424cc"/><circle cx="553.8" cy="230" r="1.6" fill="#2424cc"/><circle cx="552.7" cy="232.7" r="1.6" fill="#2424cc"/><circle cx="549.8" cy="233.8" r="1.6" fill="#2424cc"/><circle cx="536.9" cy="229.1" r="1.6" fill="#2424cc"/><circle cx="540.9" cy="230" r="1.6" fill="#2424cc"/><circle cx="523.2" cy="233.8" r="1.6" fill="#2424cc"/><circle cx="530.9" cy="234.4" r="1.6" fill="#2424cc"/><circle cx="528.7" cy="237.1" r="1.6" fill="#2424cc"/><circle cx="533.4" cy="238.8" r="1.6" fill="#2424cc"/><circle cx="540.7" cy="236" r="1.6" fill="#2424cc"/><circle cx="544.5" cy="235.5" r="1.6" fill="#2424cc"/><circle cx="545.6" cy="236.6" r="1.6" fill="#2424cc"/><circle cx="544" cy="238.2" r="1.6" fill="#2424cc"/><circle cx="540.9" cy="240.7" r="1.6" fill="#2424cc"/><circle cx="522.1" cy="239.9" r="1.6" fill="#2424cc"/><circle cx="521" cy="242.6" r="1.6" fill="#2424cc"/>
<path d="M521.3,240.1 L523.14,239.34 L524.98,238.58 L526.82,237.81 L528.66,237.03 L530.5,236.25 L532.34,235.46 L534.18,234.65 L536.02,233.84 L537.86,233.01 L539.7,232.16 L541.54,231.3 L543.38,230.42 L545.22,229.52 L547.06,228.6 L548.9,227.67 L550.74,226.72 L552.58,225.75 L554.42,224.78 L556.26,223.79 L558.1,222.79 L559.94,221.79 L561.78,220.78 L563.62,219.76 L565.46,218.74 L567.3,217.72 L569.14,216.69 L570.98,215.66 L572.82,214.62 L574.66,213.59 L576.5,212.55 L578.34,211.51 L580.18,210.47 L582.02,209.42 L583.86,208.38 L585.7,207.34 L587.54,206.29 L589.38,205.24 L591.22,204.2 L593.06,203.15 L594.9,202.1 L594.9,211.9 L593.06,212.63 L591.22,213.36 L589.38,214.1 L587.54,214.83 L585.7,215.56 L583.86,216.3 L582.02,217.04 L580.18,217.77 L578.34,218.51 L576.5,219.25 L574.66,219.99 L572.82,220.74 L570.98,221.48 L569.14,222.23 L567.3,222.98 L565.46,223.74 L563.62,224.5 L561.78,225.26 L559.94,226.03 L558.1,226.81 L556.26,227.59 L554.42,228.38 L552.58,229.19 L550.74,230 L548.9,230.83 L547.06,231.68 L545.22,232.54 L543.38,233.42 L541.54,234.32 L539.7,235.24 L537.86,236.17 L536.02,237.12 L534.18,238.09 L532.34,239.06 L530.5,240.05 L528.66,241.05 L526.82,242.05 L524.98,243.06 L523.14,244.08 L521.3,245.1 Z" fill="#999999" fill-opacity="0.32"/>
<line x1="521.3" y1="242.6" x2="594.9" y2="207" stroke="#141414" stroke-width="1.55"/></g>
<rect x="603" y="198.1" width="80.8" height="46.3" fill="#EBEBEB" />
<line x1="624.4" y1="198.1" x2="624.4" y2="244.4" stroke="#FFFFFF" stroke-width="0.35" stroke-opacity="0.55"/><line x1="643.3" y1="198.1" x2="643.3" y2="244.4" stroke="#FFFFFF" stroke-width="0.35" stroke-opacity="0.55"/><line x1="662.05" y1="198.1" x2="662.05" y2="244.4" stroke="#FFFFFF" stroke-width="0.35" stroke-opacity="0.55"/><line x1="605.4" y1="198.1" x2="605.4" y2="244.4" stroke="#FFFFFF" stroke-width="0.35" stroke-opacity="0.55"/><line x1="680.9" y1="198.1" x2="680.9" y2="244.4" stroke="#FFFFFF" stroke-width="0.35" stroke-opacity="0.55"/><line x1="603" y1="211.8" x2="683.8" y2="211.8" stroke="#FFFFFF" stroke-width="0.35" stroke-opacity="0.55"/><line x1="603" y1="223.35" x2="683.8" y2="223.35" stroke="#FFFFFF" stroke-width="0.35" stroke-opacity="0.55"/><line x1="603" y1="234.9" x2="683.8" y2="234.9" stroke="#FFFFFF" stroke-width="0.35" stroke-opacity="0.55"/><line x1="603" y1="200.4" x2="683.8" y2="200.4" stroke="#FFFFFF" stroke-width="0.35" stroke-opacity="0.55"/><line x1="614.9" y1="198.1" x2="614.9" y2="244.4" stroke="#FFFFFF" stroke-width="0.55" stroke-opacity="0.9"/><line x1="633.9" y1="198.1" x2="633.9" y2="244.4" stroke="#FFFFFF" stroke-width="0.55" stroke-opacity="0.9"/><line x1="652.7" y1="198.1" x2="652.7" y2="244.4" stroke="#FFFFFF" stroke-width="0.55" stroke-opacity="0.9"/><line x1="671.4" y1="198.1" x2="671.4" y2="244.4" stroke="#FFFFFF" stroke-width="0.55" stroke-opacity="0.9"/><line x1="603" y1="206.1" x2="683.8" y2="206.1" stroke="#FFFFFF" stroke-width="0.55" stroke-opacity="0.9"/><line x1="603" y1="217.5" x2="683.8" y2="217.5" stroke="#FFFFFF" stroke-width="0.55" stroke-opacity="0.9"/><line x1="603" y1="229.2" x2="683.8" y2="229.2" stroke="#FFFFFF" stroke-width="0.55" stroke-opacity="0.9"/><line x1="603" y1="240.6" x2="683.8" y2="240.6" stroke="#FFFFFF" stroke-width="0.55" stroke-opacity="0.9"/>
<g clip-path="url(#c12)"><circle cx="676.6" cy="199.9" r="1.6" fill="#2424cc"/><circle cx="680.2" cy="210.5" r="1.6" fill="#2424cc"/><circle cx="618.8" cy="216.7" r="1.6" fill="#2424cc"/><circle cx="649.8" cy="222.4" r="1.6" fill="#2424cc"/><circle cx="657.1" cy="220.2" r="1.6" fill="#2424cc"/><circle cx="668.7" cy="222.1" r="1.6" fill="#2424cc"/><circle cx="653.6" cy="225.1" r="1.6" fill="#2424cc"/><circle cx="629.5" cy="226.2" r="1.6" fill="#2424cc"/><circle cx="620.8" cy="227.8" r="1.6" fill="#2424cc"/><circle cx="623.5" cy="230.2" r="1.6" fill="#2424cc"/><circle cx="643.8" cy="229.8" r="1.6" fill="#2424cc"/><circle cx="614.2" cy="233.1" r="1.6" fill="#2424cc"/><circle cx="606.3" cy="234.6" r="1.6" fill="#2424cc"/><circle cx="609.3" cy="235.3" r="1.6" fill="#2424cc"/><circle cx="635" cy="233.3" r="1.6" fill="#2424cc"/><circle cx="639.4" cy="233.8" r="1.6" fill="#2424cc"/><circle cx="642.1" cy="234.6" r="1.6" fill="#2424cc"/><circle cx="633.4" cy="236.4" r="1.6" fill="#2424cc"/><circle cx="627.4" cy="237.1" r="1.6" fill="#2424cc"/><circle cx="623" cy="238.2" r="1.6" fill="#2424cc"/><circle cx="627.4" cy="238.5" r="1.6" fill="#2424cc"/><circle cx="633.9" cy="238.2" r="1.6" fill="#2424cc"/><circle cx="614.2" cy="239.3" r="1.6" fill="#2424cc"/><circle cx="640.5" cy="239.9" r="1.6" fill="#2424cc"/><circle cx="606.3" cy="240.4" r="1.6" fill="#2424cc"/><circle cx="625.7" cy="242.6" r="1.6" fill="#2424cc"/>
<path d="M606.6,237.4 L608.42,236.91 L610.25,236.41 L612.07,235.91 L613.89,235.4 L615.71,234.89 L617.53,234.36 L619.36,233.83 L621.18,233.29 L623,232.73 L624.83,232.16 L626.65,231.57 L628.47,230.97 L630.29,230.34 L632.12,229.7 L633.94,229.05 L635.76,228.37 L637.58,227.68 L639.4,226.97 L641.23,226.25 L643.05,225.51 L644.87,224.77 L646.7,224.02 L648.52,223.26 L650.34,222.49 L652.16,221.72 L653.99,220.94 L655.81,220.16 L657.63,219.38 L659.45,218.59 L661.27,217.8 L663.1,217.01 L664.92,216.21 L666.74,215.42 L668.57,214.62 L670.39,213.82 L672.21,213.02 L674.03,212.21 L675.86,211.41 L677.68,210.61 L679.5,209.8 L679.5,220.2 L677.68,220.66 L675.86,221.13 L674.03,221.6 L672.21,222.06 L670.39,222.53 L668.57,223 L666.74,223.47 L664.92,223.95 L663.1,224.42 L661.27,224.9 L659.45,225.38 L657.63,225.86 L655.81,226.35 L653.99,226.84 L652.16,227.33 L650.34,227.83 L648.52,228.33 L646.7,228.84 L644.87,229.36 L643.05,229.89 L641.23,230.42 L639.4,230.97 L637.58,231.53 L635.76,232.11 L633.94,232.7 L632.12,233.32 L630.29,233.95 L628.47,234.59 L626.65,235.26 L624.83,235.94 L623,236.64 L621.18,237.35 L619.36,238.08 L617.53,238.82 L615.71,239.56 L613.89,240.32 L612.07,241.08 L610.25,241.85 L608.42,242.62 L606.6,243.4 Z" fill="#999999" fill-opacity="0.32"/>
<line x1="606.6" y1="240.4" x2="679.5" y2="215" stroke="#141414" stroke-width="1.55"/></g>
<rect x="687.8" y="198.1" width="80.5" height="46.3" fill="#EBEBEB" />
<line x1="704.55" y1="198.1" x2="704.55" y2="244.4" stroke="#FFFFFF" stroke-width="0.35" stroke-opacity="0.55"/><line x1="724.55" y1="198.1" x2="724.55" y2="244.4" stroke="#FFFFFF" stroke-width="0.35" stroke-opacity="0.55"/><line x1="744.25" y1="198.1" x2="744.25" y2="244.4" stroke="#FFFFFF" stroke-width="0.35" stroke-opacity="0.55"/><line x1="763.85" y1="198.1" x2="763.85" y2="244.4" stroke="#FFFFFF" stroke-width="0.35" stroke-opacity="0.55"/><line x1="687.8" y1="209.18" x2="768.3" y2="209.18" stroke="#FFFFFF" stroke-width="0.35" stroke-opacity="0.55"/><line x1="687.8" y1="222.43" x2="768.3" y2="222.43" stroke="#FFFFFF" stroke-width="0.35" stroke-opacity="0.55"/><line x1="687.8" y1="235.68" x2="768.3" y2="235.68" stroke="#FFFFFF" stroke-width="0.35" stroke-opacity="0.55"/><line x1="694.6" y1="198.1" x2="694.6" y2="244.4" stroke="#FFFFFF" stroke-width="0.55" stroke-opacity="0.9"/><line x1="714.5" y1="198.1" x2="714.5" y2="244.4" stroke="#FFFFFF" stroke-width="0.55" stroke-opacity="0.9"/><line x1="734.6" y1="198.1" x2="734.6" y2="244.4" stroke="#FFFFFF" stroke-width="0.55" stroke-opacity="0.9"/><line x1="753.9" y1="198.1" x2="753.9" y2="244.4" stroke="#FFFFFF" stroke-width="0.55" stroke-opacity="0.9"/><line x1="687.8" y1="242.3" x2="768.3" y2="242.3" stroke="#FFFFFF" stroke-width="0.55" stroke-opacity="0.9"/><line x1="687.8" y1="229.05" x2="768.3" y2="229.05" stroke="#FFFFFF" stroke-width="0.55" stroke-opacity="0.9"/><line x1="687.8" y1="215.8" x2="768.3" y2="215.8" stroke="#FFFFFF" stroke-width="0.55" stroke-opacity="0.9"/><line x1="687.8" y1="202.55" x2="768.3" y2="202.55" stroke="#FFFFFF" stroke-width="0.55" stroke-opacity="0.9"/>
<path d="M691.3,242.3 L691.3,226.7 C691.72,225.43 692.85,222.02 693.8,219.1 C694.75,216.18 695.92,212.12 697,209.2 C698.08,206.28 699.28,203.15 700.3,201.6 C701.32,200.05 702.1,199.72 703.1,199.9 C704.1,200.08 705.12,200.97 706.3,202.7 C707.48,204.43 708.65,207.57 710.2,210.3 C711.75,213.03 713.78,216.55 715.6,219.1 C717.42,221.65 719.27,223.78 721.1,225.6 C722.93,227.42 724.78,228.53 726.6,230 C728.42,231.47 730.18,233.12 732,234.4 C733.82,235.68 735.48,236.88 737.5,237.7 C739.52,238.52 741.92,238.75 744.1,239.3 C746.28,239.85 748.6,240.58 750.6,241 C752.6,241.42 754.27,241.9 756.1,241.8 C757.93,241.7 760.23,240.77 761.6,240.4 C762.97,240.03 763.67,239.68 764.3,239.6 C764.93,239.52 765.22,239.85 765.4,239.9 L765.4,242.3 Z" fill="none" stroke="#595959" stroke-width="1.25" stroke-linejoin="round"/>
<text x="442.2" y="253.15" font-size="6.0" fill="#555555" text-anchor="middle" >1</text>
<text x="461.2" y="253.15" font-size="6.0" fill="#555555" text-anchor="middle" >2</text>
<text x="480.6" y="253.15" font-size="6.0" fill="#555555" text-anchor="middle" >3</text>
<text x="499.9" y="253.15" font-size="6.0" fill="#555555" text-anchor="middle" >4</text>
<text x="527.4" y="253.15" font-size="6.0" fill="#555555" text-anchor="middle" >0.5</text>
<text x="547" y="253.15" font-size="6.0" fill="#555555" text-anchor="middle" >1.0</text>
<text x="566.5" y="253.15" font-size="6.0" fill="#555555" text-anchor="middle" >1.5</text>
<text x="586" y="253.15" font-size="6.0" fill="#555555" text-anchor="middle" >2.0</text>
<text x="614.9" y="253.15" font-size="6.0" fill="#555555" text-anchor="middle" >1.5</text>
<text x="633.9" y="253.15" font-size="6.0" fill="#555555" text-anchor="middle" >2.0</text>
<text x="652.7" y="253.15" font-size="6.0" fill="#555555" text-anchor="middle" >2.5</text>
<text x="671.4" y="253.15" font-size="6.0" fill="#555555" text-anchor="middle" >3.0</text>
<text x="694.6" y="253.15" font-size="6.0" fill="#555555" text-anchor="middle" >1</text>
<text x="714.5" y="253.15" font-size="6.0" fill="#555555" text-anchor="middle" >2</text>
<text x="734.6" y="253.15" font-size="6.0" fill="#555555" text-anchor="middle" >3</text>
<text x="753.9" y="253.15" font-size="6.0" fill="#555555" text-anchor="middle" >4</text>
<text x="429.4" y="61.55" font-size="6.0" fill="#555555" text-anchor="end" >0.4</text>
<text x="429.4" y="77.25" font-size="6.0" fill="#555555" text-anchor="end" >0.2</text>
<text x="429.4" y="92.85" font-size="6.0" fill="#555555" text-anchor="end" >0.0</text>
<text x="429.4" y="106.45" font-size="6.0" fill="#555555" text-anchor="end" >2.0</text>
<text x="429.4" y="117.85" font-size="6.0" fill="#555555" text-anchor="end" >1.5</text>
<text x="429.4" y="129.25" font-size="6.0" fill="#555555" text-anchor="end" >1.0</text>
<text x="429.4" y="140.35" font-size="6.0" fill="#555555" text-anchor="end" >0.5</text>
<text x="429.4" y="157.45" font-size="6.0" fill="#555555" text-anchor="end" >3.0</text>
<text x="429.4" y="167.85" font-size="6.0" fill="#555555" text-anchor="end" >2.5</text>
<text x="429.4" y="178.45" font-size="6.0" fill="#555555" text-anchor="end" >2.0</text>
<text x="429.4" y="189.15" font-size="6.0" fill="#555555" text-anchor="end" >1.5</text>
<text x="429.4" y="208.25" font-size="6.0" fill="#555555" text-anchor="end" >4</text>
<text x="429.4" y="219.65" font-size="6.0" fill="#555555" text-anchor="end" >3</text>
<text x="429.4" y="231.35" font-size="6.0" fill="#555555" text-anchor="end" >2</text>
<text x="429.4" y="242.75" font-size="6.0" fill="#555555" text-anchor="end" >1</text>
<line x1="442.2" y1="244.4" x2="442.2" y2="246.2" stroke="#555" stroke-width="0.5"/><line x1="461.2" y1="244.4" x2="461.2" y2="246.2" stroke="#555" stroke-width="0.5"/><line x1="480.6" y1="244.4" x2="480.6" y2="246.2" stroke="#555" stroke-width="0.5"/><line x1="499.9" y1="244.4" x2="499.9" y2="246.2" stroke="#555" stroke-width="0.5"/><line x1="527.4" y1="244.4" x2="527.4" y2="246.2" stroke="#555" stroke-width="0.5"/><line x1="547" y1="244.4" x2="547" y2="246.2" stroke="#555" stroke-width="0.5"/><line x1="566.5" y1="244.4" x2="566.5" y2="246.2" stroke="#555" stroke-width="0.5"/><line x1="586" y1="244.4" x2="586" y2="246.2" stroke="#555" stroke-width="0.5"/><line x1="614.9" y1="244.4" x2="614.9" y2="246.2" stroke="#555" stroke-width="0.5"/><line x1="633.9" y1="244.4" x2="633.9" y2="246.2" stroke="#555" stroke-width="0.5"/><line x1="652.7" y1="244.4" x2="652.7" y2="246.2" stroke="#555" stroke-width="0.5"/><line x1="671.4" y1="244.4" x2="671.4" y2="246.2" stroke="#555" stroke-width="0.5"/><line x1="694.6" y1="244.4" x2="694.6" y2="246.2" stroke="#555" stroke-width="0.5"/><line x1="714.5" y1="244.4" x2="714.5" y2="246.2" stroke="#555" stroke-width="0.5"/><line x1="734.6" y1="244.4" x2="734.6" y2="246.2" stroke="#555" stroke-width="0.5"/><line x1="753.9" y1="244.4" x2="753.9" y2="246.2" stroke="#555" stroke-width="0.5"/><line x1="431.3" y1="59.4" x2="433.1" y2="59.4" stroke="#555" stroke-width="0.5"/><line x1="431.3" y1="75.1" x2="433.1" y2="75.1" stroke="#555" stroke-width="0.5"/><line x1="431.3" y1="90.7" x2="433.1" y2="90.7" stroke="#555" stroke-width="0.5"/><line x1="431.3" y1="104.3" x2="433.1" y2="104.3" stroke="#555" stroke-width="0.5"/><line x1="431.3" y1="115.7" x2="433.1" y2="115.7" stroke="#555" stroke-width="0.5"/><line x1="431.3" y1="127.1" x2="433.1" y2="127.1" stroke="#555" stroke-width="0.5"/><line x1="431.3" y1="138.2" x2="433.1" y2="138.2" stroke="#555" stroke-width="0.5"/><line x1="431.3" y1="155.3" x2="433.1" y2="155.3" stroke="#555" stroke-width="0.5"/><line x1="431.3" y1="165.7" x2="433.1" y2="165.7" stroke="#555" stroke-width="0.5"/><line x1="431.3" y1="176.3" x2="433.1" y2="176.3" stroke="#555" stroke-width="0.5"/><line x1="431.3" y1="187" x2="433.1" y2="187" stroke="#555" stroke-width="0.5"/><line x1="431.3" y1="206.1" x2="433.1" y2="206.1" stroke="#555" stroke-width="0.5"/><line x1="431.3" y1="217.5" x2="433.1" y2="217.5" stroke="#555" stroke-width="0.5"/><line x1="431.3" y1="229.2" x2="433.1" y2="229.2" stroke="#555" stroke-width="0.5"/><line x1="431.3" y1="240.6" x2="433.1" y2="240.6" stroke="#555" stroke-width="0.5"/>
<line x1="0" y1="321.5" x2="372.2" y2="321.5" stroke="#f2f2f2" stroke-width="1.2"/>
<line x1="372.1" y1="320.8" x2="372.1" y2="547.3" stroke="#d6d6d6" stroke-width="1.4"/>
<line x1="4" y1="547.3" x2="372.1" y2="547.3" stroke="#c6c6c6" stroke-width="1.3"/>
<rect x="20" y="324.8" width="109.3" height="11.1" fill="#D9D9D9" />
<text x="74.65" y="333.37" font-size="6.2" fill="#3a3a3a" text-anchor="middle" >Quanterix</text>
<rect x="133.6" y="324.8" width="108.7" height="11.1" fill="#D9D9D9" />
<text x="187.95" y="333.37" font-size="6.2" fill="#3a3a3a" text-anchor="middle" >MSD</text>
<rect x="246.7" y="324.8" width="109.3" height="11.1" fill="#D9D9D9" />
<text x="301.35" y="333.37" font-size="6.2" fill="#3a3a3a" text-anchor="middle" >Quantikine</text>
<rect x="356.8" y="335.9" width="11.2" height="64.4" fill="#D9D9D9" />
<text x="0" y="0" font-size="6.2" fill="#3a3a3a" text-anchor="middle" transform="translate(359.58,368.1) rotate(90)">Quanterix</text>
<rect x="356.8" y="404.6" width="11.2" height="62.7" fill="#D9D9D9" />
<text x="0" y="0" font-size="6.2" fill="#3a3a3a" text-anchor="middle" transform="translate(359.58,435.95) rotate(90)">MSD</text>
<rect x="356.8" y="471.8" width="11.2" height="63.7" fill="#D9D9D9" />
<text x="0" y="0" font-size="6.2" fill="#3a3a3a" text-anchor="middle" transform="translate(359.58,503.65) rotate(90)">Quantikine</text>
<rect x="20" y="335.9" width="109.3" height="64.4" fill="#EBEBEB" />
<line x1="34.05" y1="335.9" x2="34.05" y2="400.3" stroke="#FFFFFF" stroke-width="0.35" stroke-opacity="0.55"/><line x1="61.9" y1="335.9" x2="61.9" y2="400.3" stroke="#FFFFFF" stroke-width="0.35" stroke-opacity="0.55"/><line x1="89.75" y1="335.9" x2="89.75" y2="400.3" stroke="#FFFFFF" stroke-width="0.35" stroke-opacity="0.55"/><line x1="117.45" y1="335.9" x2="117.45" y2="400.3" stroke="#FFFFFF" stroke-width="0.35" stroke-opacity="0.55"/><line x1="20" y1="359.05" x2="129.3" y2="359.05" stroke="#FFFFFF" stroke-width="0.35" stroke-opacity="0.55"/><line x1="20" y1="374.3" x2="129.3" y2="374.3" stroke="#FFFFFF" stroke-width="0.35" stroke-opacity="0.55"/><line x1="20" y1="389.65" x2="129.3" y2="389.65" stroke="#FFFFFF" stroke-width="0.35" stroke-opacity="0.55"/><line x1="20" y1="343.95" x2="129.3" y2="343.95" stroke="#FFFFFF" stroke-width="0.35" stroke-opacity="0.55"/><line x1="20.2" y1="335.9" x2="20.2" y2="400.3" stroke="#FFFFFF" stroke-width="0.55" stroke-opacity="0.9"/><line x1="47.9" y1="335.9" x2="47.9" y2="400.3" stroke="#FFFFFF" stroke-width="0.55" stroke-opacity="0.9"/><line x1="75.9" y1="335.9" x2="75.9" y2="400.3" stroke="#FFFFFF" stroke-width="0.55" stroke-opacity="0.9"/><line x1="103.6" y1="335.9" x2="103.6" y2="400.3" stroke="#FFFFFF" stroke-width="0.55" stroke-opacity="0.9"/><line x1="20" y1="351.5" x2="129.3" y2="351.5" stroke="#FFFFFF" stroke-width="0.55" stroke-opacity="0.9"/><line x1="20" y1="366.6" x2="129.3" y2="366.6" stroke="#FFFFFF" stroke-width="0.55" stroke-opacity="0.9"/><line x1="20" y1="382" x2="129.3" y2="382" stroke="#FFFFFF" stroke-width="0.55" stroke-opacity="0.9"/><line x1="20" y1="397.3" x2="129.3" y2="397.3" stroke="#FFFFFF" stroke-width="0.55" stroke-opacity="0.9"/>
<path d="M24.9,397.1 L24.9,375.8 C25.5,373.7 27.2,367.25 28.5,363.2 C29.8,359.15 31.3,354.72 32.7,351.5 C34.1,348.28 35.35,345.87 36.9,343.9 C38.45,341.93 40.65,340.12 42,339.7 C43.35,339.28 44.02,339.43 45,341.4 C45.98,343.37 47,347.87 47.9,351.5 C48.8,355.13 49.43,358.73 50.4,363.2 C51.37,367.67 52.45,374.23 53.7,378.3 C54.95,382.37 56.22,385.68 57.9,387.6 C59.58,389.52 61.42,389.38 63.8,389.8 C66.18,390.22 69.4,390.47 72.2,390.1 C75,389.73 78.37,387.6 80.6,387.6 C82.83,387.6 83.63,388.7 85.6,390.1 C87.57,391.5 89.87,394.83 92.4,396 C94.93,397.17 97.17,396.92 100.8,397.1 C104.43,397.28 111.13,397.48 114.2,397.1 C117.27,396.72 117.47,395.48 119.2,394.8 C120.93,394.12 123.7,393.3 124.6,393 L124.6,397.1 Z" fill="none" stroke="#595959" stroke-width="1.25" stroke-linejoin="round"/>
<rect x="133.6" y="335.9" width="108.7" height="64.4" fill="#EBEBEB" />
<text x="177.79" y="371.81" font-size="8.7" fill="#383838" text-anchor="start" >0.42</text>
<polygon points="196.42,365.33 196.91,366.18 197.86,366.39 197.21,367.11 197.31,368.09 196.42,367.69 195.52,368.09 195.62,367.11 194.97,366.39 195.92,366.18" fill="#383838"/>
<rect x="246.7" y="335.9" width="109.3" height="64.4" fill="#EBEBEB" />
<rect x="298.4" y="368.1" width="1.6" height="1.6" rx="0.8" fill="#a8a8a8"/>
<rect x="301.7" y="368.1" width="1.6" height="1.6" rx="0.8" fill="#a8a8a8"/>
<rect x="20" y="404.6" width="109.3" height="62.7" fill="#EBEBEB" />
<line x1="34.05" y1="404.6" x2="34.05" y2="467.3" stroke="#FFFFFF" stroke-width="0.35" stroke-opacity="0.55"/><line x1="61.9" y1="404.6" x2="61.9" y2="467.3" stroke="#FFFFFF" stroke-width="0.35" stroke-opacity="0.55"/><line x1="89.75" y1="404.6" x2="89.75" y2="467.3" stroke="#FFFFFF" stroke-width="0.35" stroke-opacity="0.55"/><line x1="117.45" y1="404.6" x2="117.45" y2="467.3" stroke="#FFFFFF" stroke-width="0.35" stroke-opacity="0.55"/><line x1="20" y1="433.65" x2="129.3" y2="433.65" stroke="#FFFFFF" stroke-width="0.35" stroke-opacity="0.55"/><line x1="20" y1="456.1" x2="129.3" y2="456.1" stroke="#FFFFFF" stroke-width="0.35" stroke-opacity="0.55"/><line x1="20" y1="410.95" x2="129.3" y2="410.95" stroke="#FFFFFF" stroke-width="0.35" stroke-opacity="0.55"/><line x1="20.2" y1="404.6" x2="20.2" y2="467.3" stroke="#FFFFFF" stroke-width="0.55" stroke-opacity="0.9"/><line x1="47.9" y1="404.6" x2="47.9" y2="467.3" stroke="#FFFFFF" stroke-width="0.55" stroke-opacity="0.9"/><line x1="75.9" y1="404.6" x2="75.9" y2="467.3" stroke="#FFFFFF" stroke-width="0.55" stroke-opacity="0.9"/><line x1="103.6" y1="404.6" x2="103.6" y2="467.3" stroke="#FFFFFF" stroke-width="0.55" stroke-opacity="0.9"/><line x1="20" y1="422.3" x2="129.3" y2="422.3" stroke="#FFFFFF" stroke-width="0.55" stroke-opacity="0.9"/><line x1="20" y1="445" x2="129.3" y2="445" stroke="#FFFFFF" stroke-width="0.55" stroke-opacity="0.9"/><line x1="20" y1="467.2" x2="129.3" y2="467.2" stroke="#FFFFFF" stroke-width="0.55" stroke-opacity="0.9"/>
<g clip-path="url(#c13)"><circle cx="53.4" cy="407.1" r="1.6" fill="#2424cc"/><circle cx="124.3" cy="419.8" r="1.6" fill="#2424cc"/><circle cx="84.8" cy="428" r="1.6" fill="#2424cc"/><circle cx="36.9" cy="426.9" r="1.6" fill="#2424cc"/><circle cx="24.9" cy="434.4" r="1.6" fill="#2424cc"/><circle cx="26" cy="436.1" r="1.6" fill="#2424cc"/><circle cx="44.5" cy="433.1" r="1.6" fill="#2424cc"/><circle cx="41.1" cy="435.3" r="1.6" fill="#2424cc"/><circle cx="45.3" cy="437.8" r="1.6" fill="#2424cc"/><circle cx="46.2" cy="439.5" r="1.6" fill="#2424cc"/><circle cx="42.8" cy="441.1" r="1.6" fill="#2424cc"/><circle cx="31.1" cy="442.8" r="1.6" fill="#2424cc"/><circle cx="33.6" cy="443.3" r="1.6" fill="#2424cc"/><circle cx="80.9" cy="444" r="1.6" fill="#2424cc"/><circle cx="73.9" cy="436.9" r="1.6" fill="#2424cc"/><circle cx="67.2" cy="437.3" r="1.6" fill="#2424cc"/><circle cx="37.8" cy="446.7" r="1.6" fill="#2424cc"/><circle cx="47.9" cy="446.7" r="1.6" fill="#2424cc"/><circle cx="26.9" cy="450.7" r="1.6" fill="#2424cc"/><circle cx="32.7" cy="449" r="1.6" fill="#2424cc"/><circle cx="34.4" cy="450.4" r="1.6" fill="#2424cc"/><circle cx="39.5" cy="450.4" r="1.6" fill="#2424cc"/><circle cx="42.8" cy="449" r="1.6" fill="#2424cc"/><circle cx="38.3" cy="453.4" r="1.6" fill="#2424cc"/><circle cx="45.3" cy="454.1" r="1.6" fill="#2424cc"/><circle cx="45" cy="456.3" r="1.6" fill="#2424cc"/><circle cx="47.9" cy="465" r="1.6" fill="#2424cc"/>
<path d="M24.9,444.2 L27.38,443.72 L29.87,443.2 L32.35,442.63 L34.84,442.01 L37.33,441.35 L39.81,440.64 L42.3,439.89 L44.78,439.1 L47.27,438.29 L49.75,437.46 L52.23,436.6 L54.72,435.73 L57.2,434.84 L59.69,433.94 L62.17,433.04 L64.66,432.12 L67.15,431.2 L69.63,430.28 L72.12,429.34 L74.6,428.41 L77.09,427.47 L79.57,426.53 L82.06,425.58 L84.54,424.63 L87.03,423.68 L89.51,422.73 L92,421.78 L94.48,420.83 L96.97,419.87 L99.45,418.91 L101.94,417.96 L104.42,417 L106.91,416.04 L109.39,415.08 L111.88,414.11 L114.36,413.15 L116.84,412.19 L119.33,411.23 L121.81,410.26 L124.3,409.3 L124.3,438.3 L121.81,438.52 L119.33,438.73 L116.84,438.95 L114.36,439.17 L111.88,439.39 L109.39,439.6 L106.91,439.82 L104.42,440.04 L101.94,440.26 L99.45,440.49 L96.97,440.71 L94.48,440.93 L92,441.16 L89.51,441.39 L87.03,441.62 L84.54,441.85 L82.06,442.08 L79.57,442.31 L77.09,442.55 L74.6,442.79 L72.12,443.04 L69.63,443.28 L67.15,443.54 L64.66,443.8 L62.17,444.06 L59.69,444.34 L57.2,444.62 L54.72,444.91 L52.23,445.22 L49.75,445.54 L47.27,445.89 L44.78,446.26 L42.3,446.65 L39.81,447.08 L37.33,447.55 L34.84,448.07 L32.35,448.63 L29.87,449.24 L27.38,449.9 L24.9,450.6 Z" fill="#999999" fill-opacity="0.32"/>
<line x1="24.9" y1="447.4" x2="124.3" y2="423.8" stroke="#141414" stroke-width="1.55"/></g>
<rect x="133.6" y="404.6" width="108.7" height="62.7" fill="#EBEBEB" />
<line x1="153.75" y1="404.6" x2="153.75" y2="467.3" stroke="#FFFFFF" stroke-width="0.35" stroke-opacity="0.55"/><line x1="191.95" y1="404.6" x2="191.95" y2="467.3" stroke="#FFFFFF" stroke-width="0.35" stroke-opacity="0.55"/><line x1="230.15" y1="404.6" x2="230.15" y2="467.3" stroke="#FFFFFF" stroke-width="0.35" stroke-opacity="0.55"/><line x1="133.6" y1="420.16" x2="242.3" y2="420.16" stroke="#FFFFFF" stroke-width="0.35" stroke-opacity="0.55"/><line x1="133.6" y1="438.09" x2="242.3" y2="438.09" stroke="#FFFFFF" stroke-width="0.35" stroke-opacity="0.55"/><line x1="133.6" y1="456.03" x2="242.3" y2="456.03" stroke="#FFFFFF" stroke-width="0.35" stroke-opacity="0.55"/><line x1="134.7" y1="404.6" x2="134.7" y2="467.3" stroke="#FFFFFF" stroke-width="0.55" stroke-opacity="0.9"/><line x1="172.8" y1="404.6" x2="172.8" y2="467.3" stroke="#FFFFFF" stroke-width="0.55" stroke-opacity="0.9"/><line x1="211.1" y1="404.6" x2="211.1" y2="467.3" stroke="#FFFFFF" stroke-width="0.55" stroke-opacity="0.9"/><line x1="133.6" y1="465" x2="242.3" y2="465" stroke="#FFFFFF" stroke-width="0.55" stroke-opacity="0.9"/><line x1="133.6" y1="447.06" x2="242.3" y2="447.06" stroke="#FFFFFF" stroke-width="0.55" stroke-opacity="0.9"/><line x1="133.6" y1="429.12" x2="242.3" y2="429.12" stroke="#FFFFFF" stroke-width="0.55" stroke-opacity="0.9"/><line x1="133.6" y1="411.19" x2="242.3" y2="411.19" stroke="#FFFFFF" stroke-width="0.55" stroke-opacity="0.9"/>
<path d="M138.1,465 L138.1,459.1 C138.98,458.63 141.67,458.03 143.4,456.3 C145.13,454.57 146.82,452.2 148.5,448.7 C150.18,445.2 151.83,440.05 153.5,435.3 C155.17,430.55 156.82,424.4 158.5,420.2 C160.18,416 161.92,412.2 163.6,410.1 C165.28,408 166.08,408.02 168.6,407.6 C171.12,407.18 176.18,407.18 178.7,407.6 C181.22,408.02 182.02,408.28 183.7,410.1 C185.38,411.92 187.12,414.87 188.8,418.5 C190.48,422.13 192.12,427.85 193.8,431.9 C195.48,435.95 196.93,439.43 198.9,442.8 C200.87,446.17 203.08,449.72 205.6,452.1 C208.12,454.48 210.93,455.57 214,457.1 C217.07,458.63 221.2,460.73 224,461.3 C226.8,461.87 228.55,460.72 230.8,460.5 C233.05,460.28 236.38,460.08 237.5,460 L237.5,465 Z" fill="none" stroke="#595959" stroke-width="1.25" stroke-linejoin="round"/>
<rect x="246.7" y="404.6" width="109.3" height="62.7" fill="#EBEBEB" />
<rect x="297" y="434.7" width="2.6" height="3" rx="1.3" fill="#9a9a9a"/>
<rect x="302.2" y="434.7" width="2.6" height="3" rx="1.3" fill="#9a9a9a"/>
<rect x="20" y="471.8" width="109.3" height="63.7" fill="#EBEBEB" />
<line x1="34.05" y1="471.8" x2="34.05" y2="535.5" stroke="#FFFFFF" stroke-width="0.35" stroke-opacity="0.55"/><line x1="61.9" y1="471.8" x2="61.9" y2="535.5" stroke="#FFFFFF" stroke-width="0.35" stroke-opacity="0.55"/><line x1="89.75" y1="471.8" x2="89.75" y2="535.5" stroke="#FFFFFF" stroke-width="0.35" stroke-opacity="0.55"/><line x1="117.45" y1="471.8" x2="117.45" y2="535.5" stroke="#FFFFFF" stroke-width="0.35" stroke-opacity="0.55"/><line x1="20" y1="487.55" x2="129.3" y2="487.55" stroke="#FFFFFF" stroke-width="0.35" stroke-opacity="0.55"/><line x1="20" y1="505.8" x2="129.3" y2="505.8" stroke="#FFFFFF" stroke-width="0.35" stroke-opacity="0.55"/><line x1="20" y1="523.95" x2="129.3" y2="523.95" stroke="#FFFFFF" stroke-width="0.35" stroke-opacity="0.55"/><line x1="20.2" y1="471.8" x2="20.2" y2="535.5" stroke="#FFFFFF" stroke-width="0.55" stroke-opacity="0.9"/><line x1="47.9" y1="471.8" x2="47.9" y2="535.5" stroke="#FFFFFF" stroke-width="0.55" stroke-opacity="0.9"/><line x1="75.9" y1="471.8" x2="75.9" y2="535.5" stroke="#FFFFFF" stroke-width="0.55" stroke-opacity="0.9"/><line x1="103.6" y1="471.8" x2="103.6" y2="535.5" stroke="#FFFFFF" stroke-width="0.55" stroke-opacity="0.9"/><line x1="20" y1="478.4" x2="129.3" y2="478.4" stroke="#FFFFFF" stroke-width="0.55" stroke-opacity="0.9"/><line x1="20" y1="496.7" x2="129.3" y2="496.7" stroke="#FFFFFF" stroke-width="0.55" stroke-opacity="0.9"/><line x1="20" y1="514.9" x2="129.3" y2="514.9" stroke="#FFFFFF" stroke-width="0.55" stroke-opacity="0.9"/><line x1="20" y1="533" x2="129.3" y2="533" stroke="#FFFFFF" stroke-width="0.55" stroke-opacity="0.9"/>
<g clip-path="url(#c14)"><circle cx="45.8" cy="474.6" r="1.6" fill="#2424cc"/><circle cx="39.5" cy="490" r="1.6" fill="#2424cc"/><circle cx="44.2" cy="499.4" r="1.6" fill="#2424cc"/><circle cx="30.2" cy="506.8" r="1.6" fill="#2424cc"/><circle cx="124.3" cy="502.6" r="1.6" fill="#2424cc"/><circle cx="47.9" cy="511" r="1.6" fill="#2424cc"/><circle cx="32.7" cy="515.2" r="1.6" fill="#2424cc"/><circle cx="26.5" cy="522.4" r="1.6" fill="#2424cc"/><circle cx="84.8" cy="521.2" r="1.6" fill="#2424cc"/><circle cx="33.2" cy="527.8" r="1.6" fill="#2424cc"/><circle cx="37.8" cy="532.5" r="1.6" fill="#2424cc"/><circle cx="47.9" cy="529.6" r="1.6" fill="#2424cc"/>
<path d="M26.9,496.3 L29.33,496.95 L31.77,497.56 L34.2,498.13 L36.64,498.65 L39.08,499.12 L41.51,499.52 L43.95,499.85 L46.38,500.09 L48.81,500.24 L51.25,500.28 L53.69,500.22 L56.12,500.04 L58.55,499.74 L60.99,499.34 L63.42,498.83 L65.86,498.22 L68.3,497.53 L70.73,496.76 L73.16,495.93 L75.6,495.04 L78.03,494.1 L80.47,493.12 L82.91,492.1 L85.34,491.06 L87.78,489.98 L90.21,488.89 L92.65,487.77 L95.08,486.64 L97.52,485.5 L99.95,484.34 L102.38,483.17 L104.82,481.99 L107.25,480.8 L109.69,479.6 L112.12,478.4 L114.56,477.19 L117,475.97 L119.43,474.75 L121.87,473.53 L124.3,472.3 L124.3,538.3 L121.87,537.45 L119.43,536.6 L117,535.75 L114.56,534.91 L112.12,534.08 L109.69,533.25 L107.25,532.43 L104.82,531.61 L102.38,530.81 L99.95,530.01 L97.52,529.23 L95.08,528.46 L92.65,527.7 L90.21,526.96 L87.78,526.24 L85.34,525.54 L82.91,524.87 L80.47,524.23 L78.03,523.63 L75.6,523.06 L73.16,522.55 L70.73,522.09 L68.3,521.69 L65.86,521.38 L63.42,521.15 L60.99,521.01 L58.55,520.98 L56.12,521.06 L53.69,521.26 L51.25,521.57 L48.81,521.99 L46.38,522.51 L43.95,523.13 L41.51,523.83 L39.08,524.61 L36.64,525.45 L34.2,526.35 L31.77,527.29 L29.33,528.28 L26.9,529.3 Z" fill="#999999" fill-opacity="0.32"/>
<line x1="26.9" y1="512.8" x2="124.3" y2="505.3" stroke="#141414" stroke-width="1.55"/></g>
<rect x="133.6" y="471.8" width="108.7" height="63.7" fill="#EBEBEB" />
<line x1="153.75" y1="471.8" x2="153.75" y2="535.5" stroke="#FFFFFF" stroke-width="0.35" stroke-opacity="0.55"/><line x1="191.95" y1="471.8" x2="191.95" y2="535.5" stroke="#FFFFFF" stroke-width="0.35" stroke-opacity="0.55"/><line x1="230.15" y1="471.8" x2="230.15" y2="535.5" stroke="#FFFFFF" stroke-width="0.35" stroke-opacity="0.55"/><line x1="133.6" y1="487.55" x2="242.3" y2="487.55" stroke="#FFFFFF" stroke-width="0.35" stroke-opacity="0.55"/><line x1="133.6" y1="505.8" x2="242.3" y2="505.8" stroke="#FFFFFF" stroke-width="0.35" stroke-opacity="0.55"/><line x1="133.6" y1="523.95" x2="242.3" y2="523.95" stroke="#FFFFFF" stroke-width="0.35" stroke-opacity="0.55"/><line x1="134.7" y1="471.8" x2="134.7" y2="535.5" stroke="#FFFFFF" stroke-width="0.55" stroke-opacity="0.9"/><line x1="172.8" y1="471.8" x2="172.8" y2="535.5" stroke="#FFFFFF" stroke-width="0.55" stroke-opacity="0.9"/><line x1="211.1" y1="471.8" x2="211.1" y2="535.5" stroke="#FFFFFF" stroke-width="0.55" stroke-opacity="0.9"/><line x1="133.6" y1="478.4" x2="242.3" y2="478.4" stroke="#FFFFFF" stroke-width="0.55" stroke-opacity="0.9"/><line x1="133.6" y1="496.7" x2="242.3" y2="496.7" stroke="#FFFFFF" stroke-width="0.55" stroke-opacity="0.9"/><line x1="133.6" y1="514.9" x2="242.3" y2="514.9" stroke="#FFFFFF" stroke-width="0.55" stroke-opacity="0.9"/><line x1="133.6" y1="533" x2="242.3" y2="533" stroke="#FFFFFF" stroke-width="0.55" stroke-opacity="0.9"/>
<g clip-path="url(#c15)"><circle cx="157.2" cy="474.6" r="1.6" fill="#2424cc"/><circle cx="163.2" cy="490" r="1.6" fill="#2424cc"/><circle cx="193.3" cy="499.4" r="1.6" fill="#2424cc"/><circle cx="216" cy="502.8" r="1.6" fill="#2424cc"/><circle cx="175.8" cy="506.8" r="1.6" fill="#2424cc"/><circle cx="169.5" cy="511" r="1.6" fill="#2424cc"/><circle cx="164.9" cy="515.2" r="1.6" fill="#2424cc"/><circle cx="201.4" cy="521.2" r="1.6" fill="#2424cc"/><circle cx="162.4" cy="522.4" r="1.6" fill="#2424cc"/><circle cx="164.9" cy="527.8" r="1.6" fill="#2424cc"/><circle cx="138.1" cy="529.6" r="1.6" fill="#2424cc"/><circle cx="158.2" cy="532.5" r="1.6" fill="#2424cc"/>
<path d="M138.4,497 L140.34,497.63 L142.28,498.25 L144.22,498.85 L146.16,499.45 L148.1,500.02 L150.04,500.58 L151.98,501.12 L153.92,501.63 L155.86,502.11 L157.8,502.54 L159.74,502.93 L161.68,503.26 L163.62,503.52 L165.56,503.68 L167.5,503.75 L169.44,503.7 L171.38,503.52 L173.32,503.21 L175.26,502.76 L177.2,502.19 L179.14,501.5 L181.08,500.72 L183.02,499.86 L184.96,498.93 L186.9,497.94 L188.84,496.9 L190.78,495.83 L192.72,494.73 L194.66,493.6 L196.6,492.45 L198.54,491.28 L200.48,490.1 L202.42,488.9 L204.36,487.69 L206.3,486.48 L208.24,485.25 L210.18,484.02 L212.12,482.79 L214.06,481.55 L216,480.3 L216,528.3 L214.06,527.64 L212.12,526.98 L210.18,526.33 L208.24,525.69 L206.3,525.05 L204.36,524.42 L202.42,523.8 L200.48,523.18 L198.54,522.59 L196.6,522 L194.66,521.44 L192.72,520.89 L190.78,520.38 L188.84,519.89 L186.9,519.44 L184.96,519.03 L183.02,518.69 L181.08,518.41 L179.14,518.21 L177.2,518.11 L175.26,518.12 L173.32,518.26 L171.38,518.54 L169.44,518.94 L167.5,519.48 L165.56,520.13 L163.62,520.88 L161.68,521.72 L159.74,522.63 L157.8,523.61 L155.86,524.63 L153.92,525.69 L151.98,526.78 L150.04,527.91 L148.1,529.05 L146.16,530.21 L144.22,531.39 L142.28,532.58 L140.34,533.79 L138.4,535 Z" fill="#999999" fill-opacity="0.32"/>
<line x1="138.4" y1="516" x2="216" y2="504.3" stroke="#141414" stroke-width="1.55"/></g>
<rect x="246.7" y="471.8" width="109.3" height="63.7" fill="#EBEBEB" />
<line x1="266.7" y1="471.8" x2="266.7" y2="535.5" stroke="#FFFFFF" stroke-width="0.35" stroke-opacity="0.55"/><line x1="298" y1="471.8" x2="298" y2="535.5" stroke="#FFFFFF" stroke-width="0.35" stroke-opacity="0.55"/><line x1="329.25" y1="471.8" x2="329.25" y2="535.5" stroke="#FFFFFF" stroke-width="0.35" stroke-opacity="0.55"/><line x1="246.7" y1="487.2" x2="356" y2="487.2" stroke="#FFFFFF" stroke-width="0.35" stroke-opacity="0.55"/><line x1="246.7" y1="505.2" x2="356" y2="505.2" stroke="#FFFFFF" stroke-width="0.35" stroke-opacity="0.55"/><line x1="246.7" y1="523.2" x2="356" y2="523.2" stroke="#FFFFFF" stroke-width="0.35" stroke-opacity="0.55"/><line x1="251.1" y1="471.8" x2="251.1" y2="535.5" stroke="#FFFFFF" stroke-width="0.55" stroke-opacity="0.9"/><line x1="282.3" y1="471.8" x2="282.3" y2="535.5" stroke="#FFFFFF" stroke-width="0.55" stroke-opacity="0.9"/><line x1="313.7" y1="471.8" x2="313.7" y2="535.5" stroke="#FFFFFF" stroke-width="0.55" stroke-opacity="0.9"/><line x1="344.8" y1="471.8" x2="344.8" y2="535.5" stroke="#FFFFFF" stroke-width="0.55" stroke-opacity="0.9"/><line x1="246.7" y1="532.2" x2="356" y2="532.2" stroke="#FFFFFF" stroke-width="0.55" stroke-opacity="0.9"/><line x1="246.7" y1="514.2" x2="356" y2="514.2" stroke="#FFFFFF" stroke-width="0.55" stroke-opacity="0.9"/><line x1="246.7" y1="496.2" x2="356" y2="496.2" stroke="#FFFFFF" stroke-width="0.55" stroke-opacity="0.9"/><line x1="246.7" y1="478.2" x2="356" y2="478.2" stroke="#FFFFFF" stroke-width="0.55" stroke-opacity="0.9"/>
<path d="M251.6,532.2 L251.6,490.5 C252.57,488.97 255.3,483.82 257.4,481.3 C259.5,478.78 261.95,476.52 264.2,475.4 C266.45,474.28 268.12,474.47 270.9,474.6 C273.68,474.73 277.55,475.37 280.9,476.2 C284.25,477.03 287.92,478.33 291,479.6 C294.08,480.87 296.6,481.85 299.4,483.8 C302.2,485.75 305,488.5 307.8,491.3 C310.6,494.1 313.4,497.65 316.2,500.6 C319,503.55 321.8,506.62 324.6,509 C327.4,511.38 330.2,513.5 333,514.9 C335.8,516.3 338.38,516.65 341.4,517.4 C344.42,518.15 349.48,519.07 351.1,519.4 L351.1,532.2 Z" fill="none" stroke="#595959" stroke-width="1.25" stroke-linejoin="round"/>
<text x="20.2" y="543.15" font-size="6.0" fill="#555555" text-anchor="middle" >0.0</text>
<text x="47.9" y="543.15" font-size="6.0" fill="#555555" text-anchor="middle" >0.5</text>
<text x="75.9" y="543.15" font-size="6.0" fill="#555555" text-anchor="middle" >1.0</text>
<text x="103.6" y="543.15" font-size="6.0" fill="#555555" text-anchor="middle" >1.5</text>
<text x="134.7" y="543.15" font-size="6.0" fill="#555555" text-anchor="middle" >0</text>
<text x="172.8" y="543.15" font-size="6.0" fill="#555555" text-anchor="middle" >2</text>
<text x="211.1" y="543.15" font-size="6.0" fill="#555555" text-anchor="middle" >4</text>
<text x="251.1" y="543.15" font-size="6.0" fill="#555555" text-anchor="middle" >0</text>
<text x="282.3" y="543.15" font-size="6.0" fill="#555555" text-anchor="middle" >1</text>
<text x="313.7" y="543.15" font-size="6.0" fill="#555555" text-anchor="middle" >2</text>
<text x="344.8" y="543.15" font-size="6.0" fill="#555555" text-anchor="middle" >3</text>
<text x="16.8" y="353.65" font-size="6.0" fill="#555555" text-anchor="end" >1.5</text>
<text x="16.8" y="368.75" font-size="6.0" fill="#555555" text-anchor="end" >1.0</text>
<text x="16.8" y="384.15" font-size="6.0" fill="#555555" text-anchor="end" >0.5</text>
<text x="16.8" y="399.45" font-size="6.0" fill="#555555" text-anchor="end" >0.0</text>
<text x="16.8" y="424.45" font-size="6.0" fill="#555555" text-anchor="end" >4</text>
<text x="16.8" y="447.15" font-size="6.0" fill="#555555" text-anchor="end" >2</text>
<text x="16.8" y="469.35" font-size="6.0" fill="#555555" text-anchor="end" >0</text>
<text x="16.8" y="480.55" font-size="6.0" fill="#555555" text-anchor="end" >3</text>
<text x="16.8" y="498.85" font-size="6.0" fill="#555555" text-anchor="end" >2</text>
<text x="16.8" y="517.05" font-size="6.0" fill="#555555" text-anchor="end" >1</text>
<text x="16.8" y="535.15" font-size="6.0" fill="#555555" text-anchor="end" >0</text>
<line x1="20.2" y1="535.5" x2="20.2" y2="537.3" stroke="#555" stroke-width="0.5"/><line x1="47.9" y1="535.5" x2="47.9" y2="537.3" stroke="#555" stroke-width="0.5"/><line x1="75.9" y1="535.5" x2="75.9" y2="537.3" stroke="#555" stroke-width="0.5"/><line x1="103.6" y1="535.5" x2="103.6" y2="537.3" stroke="#555" stroke-width="0.5"/><line x1="134.7" y1="535.5" x2="134.7" y2="537.3" stroke="#555" stroke-width="0.5"/><line x1="172.8" y1="535.5" x2="172.8" y2="537.3" stroke="#555" stroke-width="0.5"/><line x1="211.1" y1="535.5" x2="211.1" y2="537.3" stroke="#555" stroke-width="0.5"/><line x1="251.1" y1="535.5" x2="251.1" y2="537.3" stroke="#555" stroke-width="0.5"/><line x1="282.3" y1="535.5" x2="282.3" y2="537.3" stroke="#555" stroke-width="0.5"/><line x1="313.7" y1="535.5" x2="313.7" y2="537.3" stroke="#555" stroke-width="0.5"/><line x1="344.8" y1="535.5" x2="344.8" y2="537.3" stroke="#555" stroke-width="0.5"/><line x1="18.2" y1="351.5" x2="20" y2="351.5" stroke="#555" stroke-width="0.5"/><line x1="18.2" y1="366.6" x2="20" y2="366.6" stroke="#555" stroke-width="0.5"/><line x1="18.2" y1="382" x2="20" y2="382" stroke="#555" stroke-width="0.5"/><line x1="18.2" y1="397.3" x2="20" y2="397.3" stroke="#555" stroke-width="0.5"/><line x1="18.2" y1="422.3" x2="20" y2="422.3" stroke="#555" stroke-width="0.5"/><line x1="18.2" y1="445" x2="20" y2="445" stroke="#555" stroke-width="0.5"/><line x1="18.2" y1="467.2" x2="20" y2="467.2" stroke="#555" stroke-width="0.5"/><line x1="18.2" y1="478.4" x2="20" y2="478.4" stroke="#555" stroke-width="0.5"/><line x1="18.2" y1="496.7" x2="20" y2="496.7" stroke="#555" stroke-width="0.5"/><line x1="18.2" y1="514.9" x2="20" y2="514.9" stroke="#555" stroke-width="0.5"/><line x1="18.2" y1="533" x2="20" y2="533" stroke="#555" stroke-width="0.5"/>
<line x1="436" y1="320" x2="782.1" y2="320" stroke="#f2f2f2" stroke-width="1.2"/>
<line x1="782.1" y1="319.7" x2="782.1" y2="545.6" stroke="#d0d0d0" stroke-width="1.3"/>
<line x1="415" y1="545.6" x2="782.1" y2="545.6" stroke="#c6c6c6" stroke-width="1.3"/>
<rect x="433.8" y="323.6" width="62.9" height="10.7" fill="#D9D9D9" />
<text x="465.25" y="331.17" font-size="6.2" fill="#3a3a3a" text-anchor="middle" >Quanterix</text>
<rect x="501.3" y="323.6" width="61.5" height="10.7" fill="#D9D9D9" />
<text x="532.05" y="331.17" font-size="6.2" fill="#3a3a3a" text-anchor="middle" >MSD</text>
<rect x="568" y="323.6" width="63" height="10.7" fill="#D9D9D9" />
<text x="599.5" y="331.17" font-size="6.2" fill="#3a3a3a" text-anchor="middle" >Myriad</text>
<rect x="635.6" y="323.6" width="62.9" height="10.7" fill="#D9D9D9" />
<text x="667.05" y="331.17" font-size="6.2" fill="#3a3a3a" text-anchor="middle" >Luminex</text>
<rect x="702.7" y="323.6" width="63.1" height="10.7" fill="#D9D9D9" />
<text x="734.25" y="331.17" font-size="6.2" fill="#3a3a3a" text-anchor="middle" >Quantikine</text>
<rect x="766.5" y="334.3" width="11.2" height="37.1" fill="#D9D9D9" />
<text x="0" y="0" font-size="6.2" fill="#3a3a3a" text-anchor="middle" transform="translate(769.28,352.85) rotate(90)">Quanterix</text>
<rect x="766.5" y="375.8" width="11.2" height="35.7" fill="#D9D9D9" />
<text x="0" y="0" font-size="6.2" fill="#3a3a3a" text-anchor="middle" transform="translate(769.28,393.65) rotate(90)">MSD</text>
<rect x="766.5" y="415.8" width="11.2" height="36" fill="#D9D9D9" />
<text x="0" y="0" font-size="6.2" fill="#3a3a3a" text-anchor="middle" transform="translate(769.28,433.8) rotate(90)">Myriad</text>
<rect x="766.5" y="456.4" width="11.2" height="36" fill="#D9D9D9" />
<text x="0" y="0" font-size="6.2" fill="#3a3a3a" text-anchor="middle" transform="translate(769.28,474.4) rotate(90)">Luminex</text>
<rect x="766.5" y="496.9" width="11.2" height="36.5" fill="#D9D9D9" />
<text x="0" y="0" font-size="6.2" fill="#3a3a3a" text-anchor="middle" transform="translate(769.28,515.15) rotate(90)">Quantikine</text>
<rect x="433.8" y="334.3" width="62.9" height="37.1" fill="#EBEBEB" />
<line x1="461.05" y1="334.3" x2="461.05" y2="371.4" stroke="#FFFFFF" stroke-width="0.35" stroke-opacity="0.55"/><line x1="484.05" y1="334.3" x2="484.05" y2="371.4" stroke="#FFFFFF" stroke-width="0.35" stroke-opacity="0.55"/><line x1="438.15" y1="334.3" x2="438.15" y2="371.4" stroke="#FFFFFF" stroke-width="0.35" stroke-opacity="0.55"/><line x1="433.8" y1="346.8" x2="496.7" y2="346.8" stroke="#FFFFFF" stroke-width="0.35" stroke-opacity="0.55"/><line x1="433.8" y1="355.95" x2="496.7" y2="355.95" stroke="#FFFFFF" stroke-width="0.35" stroke-opacity="0.55"/><line x1="433.8" y1="365.1" x2="496.7" y2="365.1" stroke="#FFFFFF" stroke-width="0.35" stroke-opacity="0.55"/><line x1="433.8" y1="337.6" x2="496.7" y2="337.6" stroke="#FFFFFF" stroke-width="0.35" stroke-opacity="0.55"/><line x1="449.6" y1="334.3" x2="449.6" y2="371.4" stroke="#FFFFFF" stroke-width="0.55" stroke-opacity="0.9"/><line x1="472.5" y1="334.3" x2="472.5" y2="371.4" stroke="#FFFFFF" stroke-width="0.55" stroke-opacity="0.9"/><line x1="495.6" y1="334.3" x2="495.6" y2="371.4" stroke="#FFFFFF" stroke-width="0.55" stroke-opacity="0.9"/><line x1="433.8" y1="342.2" x2="496.7" y2="342.2" stroke="#FFFFFF" stroke-width="0.55" stroke-opacity="0.9"/><line x1="433.8" y1="351.4" x2="496.7" y2="351.4" stroke="#FFFFFF" stroke-width="0.55" stroke-opacity="0.9"/><line x1="433.8" y1="360.5" x2="496.7" y2="360.5" stroke="#FFFFFF" stroke-width="0.55" stroke-opacity="0.9"/><line x1="433.8" y1="369.7" x2="496.7" y2="369.7" stroke="#FFFFFF" stroke-width="0.55" stroke-opacity="0.9"/>
<path d="M436.5,369.7 L436.5,365.4 C437.15,364.75 438.93,362.82 440.4,361.5 C441.87,360.18 443.57,358.78 445.3,357.5 C447.03,356.22 449.17,355.13 450.8,353.8 C452.43,352.47 453.67,351.43 455.1,349.5 C456.53,347.57 458.18,344.23 459.4,342.2 C460.62,340.17 461.6,338.22 462.4,337.3 C463.2,336.38 463.48,336.38 464.2,336.7 C464.92,337.02 465.78,337.47 466.7,339.2 C467.62,340.93 468.58,344.57 469.7,347.1 C470.82,349.63 471.97,351.95 473.4,354.4 C474.83,356.85 476.47,359.87 478.3,361.8 C480.13,363.73 482.37,365.15 484.4,366 C486.43,366.85 488.77,366.75 490.5,366.9 C492.23,367.05 494.08,366.9 494.8,366.9 L494.8,369.7 Z" fill="none" stroke="#595959" stroke-width="1.25" stroke-linejoin="round"/>
<rect x="501.3" y="334.3" width="61.5" height="37.1" fill="#EBEBEB" />
<rect x="531.2" y="352.75" width="3" height="1.3" rx="0.65" fill="#9a9a9a"/>
<rect x="568" y="334.3" width="63" height="37.1" fill="#EBEBEB" />
<text x="599.5" y="354.69" font-size="3.6" fill="#5a5a5a" text-anchor="middle" >0.07</text>
<rect x="635.6" y="334.3" width="62.9" height="37.1" fill="#EBEBEB" />
<text x="658.06" y="355.61" font-size="7.7" fill="#383838" text-anchor="start" >0.38</text>
<polygon points="674.54,349.87 674.98,350.62 675.82,350.8 675.25,351.45 675.33,352.31 674.54,351.96 673.75,352.31 673.84,351.45 673.26,350.8 674.11,350.62" fill="#383838"/>
<rect x="702.7" y="334.3" width="63.1" height="37.1" fill="#EBEBEB" />
<text x="714.02" y="357.5" font-size="13" fill="#1a1a1a" text-anchor="start" stroke="#1a1a1a" stroke-width="0.104">0.63</text>
<polygon points="741.84,347.82 742.58,349.08 744.01,349.39 743.03,350.48 743.18,351.93 741.84,351.35 740.5,351.93 740.65,350.48 739.68,349.39 741.11,349.08" fill="#1a1a1a"/>
<polygon points="746.9,347.82 747.63,349.08 749.06,349.39 748.09,350.48 748.24,351.93 746.9,351.35 745.56,351.93 745.71,350.48 744.74,349.39 746.16,349.08" fill="#1a1a1a"/>
<polygon points="751.96,347.82 752.69,349.08 754.12,349.39 753.15,350.48 753.29,351.93 751.96,351.35 750.62,351.93 750.77,350.48 749.79,349.39 751.22,349.08" fill="#1a1a1a"/>
<rect x="433.8" y="375.8" width="62.9" height="35.7" fill="#EBEBEB" />
<line x1="461.05" y1="375.8" x2="461.05" y2="411.5" stroke="#FFFFFF" stroke-width="0.35" stroke-opacity="0.55"/><line x1="484.05" y1="375.8" x2="484.05" y2="411.5" stroke="#FFFFFF" stroke-width="0.35" stroke-opacity="0.55"/><line x1="438.15" y1="375.8" x2="438.15" y2="411.5" stroke="#FFFFFF" stroke-width="0.35" stroke-opacity="0.55"/><line x1="433.8" y1="391.95" x2="496.7" y2="391.95" stroke="#FFFFFF" stroke-width="0.35" stroke-opacity="0.55"/><line x1="433.8" y1="403.1" x2="496.7" y2="403.1" stroke="#FFFFFF" stroke-width="0.35" stroke-opacity="0.55"/><line x1="433.8" y1="380.65" x2="496.7" y2="380.65" stroke="#FFFFFF" stroke-width="0.35" stroke-opacity="0.55"/><line x1="449.6" y1="375.8" x2="449.6" y2="411.5" stroke="#FFFFFF" stroke-width="0.55" stroke-opacity="0.9"/><line x1="472.5" y1="375.8" x2="472.5" y2="411.5" stroke="#FFFFFF" stroke-width="0.55" stroke-opacity="0.9"/><line x1="495.6" y1="375.8" x2="495.6" y2="411.5" stroke="#FFFFFF" stroke-width="0.55" stroke-opacity="0.9"/><line x1="433.8" y1="386.3" x2="496.7" y2="386.3" stroke="#FFFFFF" stroke-width="0.55" stroke-opacity="0.9"/><line x1="433.8" y1="397.6" x2="496.7" y2="397.6" stroke="#FFFFFF" stroke-width="0.55" stroke-opacity="0.9"/><line x1="433.8" y1="408.6" x2="496.7" y2="408.6" stroke="#FFFFFF" stroke-width="0.55" stroke-opacity="0.9"/>
<g clip-path="url(#c16)"><circle cx="461.8" cy="377.1" r="1.6" fill="#2424cc"/><circle cx="455.5" cy="393.4" r="1.6" fill="#2424cc"/><circle cx="464.3" cy="392.7" r="1.6" fill="#2424cc"/><circle cx="471.3" cy="393.9" r="1.6" fill="#2424cc"/><circle cx="445.5" cy="396.7" r="1.6" fill="#2424cc"/><circle cx="456.6" cy="396.8" r="1.6" fill="#2424cc"/><circle cx="464.1" cy="397.2" r="1.6" fill="#2424cc"/><circle cx="466.9" cy="396.5" r="1.6" fill="#2424cc"/><circle cx="447" cy="402.9" r="1.6" fill="#2424cc"/><circle cx="453.7" cy="403.1" r="1.6" fill="#2424cc"/><circle cx="473.3" cy="403.9" r="1.6" fill="#2424cc"/><circle cx="476.9" cy="404" r="1.6" fill="#2424cc"/><circle cx="466.9" cy="403.4" r="1.6" fill="#2424cc"/><circle cx="465.4" cy="404.6" r="1.6" fill="#2424cc"/><circle cx="463.4" cy="405.9" r="1.6" fill="#2424cc"/><circle cx="461.3" cy="406.9" r="1.6" fill="#2424cc"/><circle cx="459.3" cy="408.5" r="1.6" fill="#2424cc"/><circle cx="441.6" cy="401.9" r="1.6" fill="#2424cc"/><circle cx="494.2" cy="401.3" r="1.6" fill="#2424cc"/><circle cx="436.5" cy="410.5" r="1.6" fill="#2424cc"/><circle cx="471.5" cy="401.3" r="1.6" fill="#2424cc"/>
<path d="M436.5,398.5 L437.94,398.59 L439.38,398.68 L440.83,398.76 L442.27,398.84 L443.71,398.91 L445.15,398.96 L446.6,399.01 L448.04,399.04 L449.48,399.06 L450.93,399.06 L452.37,399.04 L453.81,398.99 L455.25,398.92 L456.69,398.82 L458.14,398.7 L459.58,398.57 L461.02,398.41 L462.46,398.24 L463.91,398.05 L465.35,397.85 L466.79,397.65 L468.24,397.44 L469.68,397.22 L471.12,396.99 L472.56,396.76 L474,396.53 L475.45,396.3 L476.89,396.06 L478.33,395.82 L479.77,395.58 L481.22,395.34 L482.66,395.09 L484.1,394.85 L485.55,394.6 L486.99,394.35 L488.43,394.1 L489.87,393.85 L491.31,393.6 L492.76,393.35 L494.2,393.1 L494.2,404.1 L492.76,403.98 L491.31,403.87 L489.87,403.75 L488.43,403.64 L486.99,403.52 L485.55,403.41 L484.1,403.3 L482.66,403.19 L481.22,403.08 L479.77,402.97 L478.33,402.86 L476.89,402.76 L475.45,402.66 L474,402.56 L472.56,402.46 L471.12,402.37 L469.68,402.28 L468.24,402.19 L466.79,402.12 L465.35,402.05 L463.91,401.98 L462.46,401.93 L461.02,401.9 L459.58,401.87 L458.14,401.87 L456.69,401.89 L455.25,401.93 L453.81,401.99 L452.37,402.08 L450.93,402.19 L449.48,402.32 L448.04,402.48 L446.6,402.64 L445.15,402.83 L443.71,403.02 L442.27,403.22 L440.83,403.43 L439.38,403.65 L437.94,403.87 L436.5,404.1 Z" fill="#999999" fill-opacity="0.32"/>
<line x1="436.5" y1="401.3" x2="494.2" y2="398.6" stroke="#141414" stroke-width="1.55"/></g>
<rect x="501.3" y="375.8" width="61.5" height="35.7" fill="#EBEBEB" />
<line x1="516.6" y1="375.8" x2="516.6" y2="411.5" stroke="#FFFFFF" stroke-width="0.35" stroke-opacity="0.55"/><line x1="536.35" y1="375.8" x2="536.35" y2="411.5" stroke="#FFFFFF" stroke-width="0.35" stroke-opacity="0.55"/><line x1="556.1" y1="375.8" x2="556.1" y2="411.5" stroke="#FFFFFF" stroke-width="0.35" stroke-opacity="0.55"/><line x1="501.3" y1="384.26" x2="562.8" y2="384.26" stroke="#FFFFFF" stroke-width="0.35" stroke-opacity="0.55"/><line x1="501.3" y1="394.64" x2="562.8" y2="394.64" stroke="#FFFFFF" stroke-width="0.35" stroke-opacity="0.55"/><line x1="501.3" y1="405.01" x2="562.8" y2="405.01" stroke="#FFFFFF" stroke-width="0.35" stroke-opacity="0.55"/><line x1="506.7" y1="375.8" x2="506.7" y2="411.5" stroke="#FFFFFF" stroke-width="0.55" stroke-opacity="0.9"/><line x1="526.5" y1="375.8" x2="526.5" y2="411.5" stroke="#FFFFFF" stroke-width="0.55" stroke-opacity="0.9"/><line x1="546.2" y1="375.8" x2="546.2" y2="411.5" stroke="#FFFFFF" stroke-width="0.55" stroke-opacity="0.9"/><line x1="501.3" y1="410.2" x2="562.8" y2="410.2" stroke="#FFFFFF" stroke-width="0.55" stroke-opacity="0.9"/><line x1="501.3" y1="399.82" x2="562.8" y2="399.82" stroke="#FFFFFF" stroke-width="0.55" stroke-opacity="0.9"/><line x1="501.3" y1="389.45" x2="562.8" y2="389.45" stroke="#FFFFFF" stroke-width="0.55" stroke-opacity="0.9"/><line x1="501.3" y1="379.07" x2="562.8" y2="379.07" stroke="#FFFFFF" stroke-width="0.55" stroke-opacity="0.9"/>
<path d="M503.6,410.2 L503.6,405.3 C504.12,404.8 505.62,403.52 506.7,402.3 C507.78,401.08 509.1,399.88 510.1,398 C511.1,396.12 511.83,393.6 512.7,391 C513.57,388.4 514.5,384.63 515.3,382.4 C516.1,380.17 516.85,378.5 517.5,377.6 C518.15,376.7 518.48,376.63 519.2,377 C519.92,377.37 520.72,378.33 521.8,379.8 C522.88,381.27 524.33,383.35 525.7,385.8 C527.07,388.25 528.57,391.9 530,394.5 C531.43,397.1 532.85,399.23 534.3,401.4 C535.75,403.57 537.4,406.05 538.7,407.5 C540,408.95 539.52,409.67 542.1,410.1 C544.68,410.53 551.45,410.4 554.2,410.1 C556.95,409.8 557.37,408.6 558.6,408.3 C559.83,408 561.1,408.3 561.6,408.3 L561.6,410.2 Z" fill="none" stroke="#595959" stroke-width="1.25" stroke-linejoin="round"/>
<rect x="568" y="375.8" width="63" height="35.7" fill="#EBEBEB" />
<rect x="597" y="393" width="2" height="1" rx="0.5" fill="#c0c0c0"/>
<rect x="635.6" y="375.8" width="62.9" height="35.7" fill="#EBEBEB" />
<text x="661.31" y="395.76" font-size="5.9" fill="#383838" text-anchor="start" >0.31</text>
<rect x="702.7" y="375.8" width="63.1" height="35.7" fill="#EBEBEB" />
<text x="728.51" y="395.76" font-size="5.9" fill="#383838" text-anchor="start" >0.31</text>
<rect x="433.8" y="415.8" width="62.9" height="36" fill="#EBEBEB" />
<line x1="461.05" y1="415.8" x2="461.05" y2="451.8" stroke="#FFFFFF" stroke-width="0.35" stroke-opacity="0.55"/><line x1="484.05" y1="415.8" x2="484.05" y2="451.8" stroke="#FFFFFF" stroke-width="0.35" stroke-opacity="0.55"/><line x1="438.15" y1="415.8" x2="438.15" y2="451.8" stroke="#FFFFFF" stroke-width="0.35" stroke-opacity="0.55"/><line x1="433.8" y1="423" x2="496.7" y2="423" stroke="#FFFFFF" stroke-width="0.35" stroke-opacity="0.55"/><line x1="433.8" y1="435.5" x2="496.7" y2="435.5" stroke="#FFFFFF" stroke-width="0.35" stroke-opacity="0.55"/><line x1="433.8" y1="448" x2="496.7" y2="448" stroke="#FFFFFF" stroke-width="0.35" stroke-opacity="0.55"/><line x1="449.6" y1="415.8" x2="449.6" y2="451.8" stroke="#FFFFFF" stroke-width="0.55" stroke-opacity="0.9"/><line x1="472.5" y1="415.8" x2="472.5" y2="451.8" stroke="#FFFFFF" stroke-width="0.55" stroke-opacity="0.9"/><line x1="495.6" y1="415.8" x2="495.6" y2="451.8" stroke="#FFFFFF" stroke-width="0.55" stroke-opacity="0.9"/><line x1="433.8" y1="416.9" x2="496.7" y2="416.9" stroke="#FFFFFF" stroke-width="0.55" stroke-opacity="0.9"/><line x1="433.8" y1="429.1" x2="496.7" y2="429.1" stroke="#FFFFFF" stroke-width="0.55" stroke-opacity="0.9"/><line x1="433.8" y1="441.9" x2="496.7" y2="441.9" stroke="#FFFFFF" stroke-width="0.55" stroke-opacity="0.9"/>
<g clip-path="url(#c17)"><circle cx="464.5" cy="417.5" r="1.6" fill="#2424cc"/><circle cx="461.8" cy="420.8" r="1.6" fill="#2424cc"/><circle cx="466.7" cy="424.6" r="1.6" fill="#2424cc"/><circle cx="451.2" cy="426.9" r="1.6" fill="#2424cc"/><circle cx="454.1" cy="426" r="1.6" fill="#2424cc"/><circle cx="464.2" cy="430.7" r="1.6" fill="#2424cc"/><circle cx="494.2" cy="433.4" r="1.6" fill="#2424cc"/><circle cx="445.3" cy="437.6" r="1.6" fill="#2424cc"/><circle cx="447.1" cy="438.6" r="1.6" fill="#2424cc"/><circle cx="461.8" cy="437" r="1.6" fill="#2424cc"/><circle cx="459.4" cy="438.9" r="1.6" fill="#2424cc"/><circle cx="456.9" cy="440.7" r="1.6" fill="#2424cc"/><circle cx="453.6" cy="442.3" r="1.6" fill="#2424cc"/><circle cx="471.2" cy="440.3" r="1.6" fill="#2424cc"/><circle cx="473.6" cy="444" r="1.6" fill="#2424cc"/><circle cx="436.1" cy="444" r="1.6" fill="#2424cc"/>
<path d="M436.5,427.7 L437.93,427.96 L439.36,428.22 L440.78,428.48 L442.21,428.73 L443.64,428.98 L445.06,429.23 L446.49,429.46 L447.92,429.69 L449.35,429.91 L450.77,430.12 L452.2,430.31 L453.63,430.48 L455.06,430.63 L456.49,430.75 L457.91,430.84 L459.34,430.88 L460.77,430.87 L462.19,430.8 L463.62,430.66 L465.05,430.45 L466.48,430.18 L467.91,429.86 L469.33,429.48 L470.76,429.06 L472.19,428.61 L473.62,428.13 L475.04,427.63 L476.47,427.11 L477.9,426.58 L479.33,426.04 L480.75,425.49 L482.18,424.93 L483.61,424.37 L485.04,423.79 L486.46,423.22 L487.89,422.64 L489.32,422.06 L490.75,421.48 L492.17,420.89 L493.6,420.3 L493.6,440.3 L492.17,440.03 L490.75,439.76 L489.32,439.5 L487.89,439.24 L486.46,438.98 L485.04,438.73 L483.61,438.47 L482.18,438.23 L480.75,437.99 L479.33,437.76 L477.9,437.54 L476.47,437.33 L475.04,437.13 L473.62,436.95 L472.19,436.79 L470.76,436.66 L469.33,436.56 L467.91,436.5 L466.48,436.5 L465.05,436.55 L463.62,436.66 L462.19,436.84 L460.77,437.09 L459.34,437.4 L457.91,437.76 L456.49,438.17 L455.06,438.61 L453.63,439.08 L452.2,439.57 L450.77,440.08 L449.35,440.61 L447.92,441.15 L446.49,441.7 L445.06,442.25 L443.64,442.82 L442.21,443.39 L440.78,443.96 L439.36,444.54 L437.93,445.12 L436.5,445.7 Z" fill="#999999" fill-opacity="0.32"/>
<line x1="436.5" y1="436.7" x2="493.6" y2="430.3" stroke="#141414" stroke-width="1.55"/></g>
<rect x="501.3" y="415.8" width="61.5" height="36" fill="#EBEBEB" />
<line x1="516.6" y1="415.8" x2="516.6" y2="451.8" stroke="#FFFFFF" stroke-width="0.35" stroke-opacity="0.55"/><line x1="536.35" y1="415.8" x2="536.35" y2="451.8" stroke="#FFFFFF" stroke-width="0.35" stroke-opacity="0.55"/><line x1="556.1" y1="415.8" x2="556.1" y2="451.8" stroke="#FFFFFF" stroke-width="0.35" stroke-opacity="0.55"/><line x1="501.3" y1="423" x2="562.8" y2="423" stroke="#FFFFFF" stroke-width="0.35" stroke-opacity="0.55"/><line x1="501.3" y1="435.5" x2="562.8" y2="435.5" stroke="#FFFFFF" stroke-width="0.35" stroke-opacity="0.55"/><line x1="501.3" y1="448" x2="562.8" y2="448" stroke="#FFFFFF" stroke-width="0.35" stroke-opacity="0.55"/><line x1="506.7" y1="415.8" x2="506.7" y2="451.8" stroke="#FFFFFF" stroke-width="0.55" stroke-opacity="0.9"/><line x1="526.5" y1="415.8" x2="526.5" y2="451.8" stroke="#FFFFFF" stroke-width="0.55" stroke-opacity="0.9"/><line x1="546.2" y1="415.8" x2="546.2" y2="451.8" stroke="#FFFFFF" stroke-width="0.55" stroke-opacity="0.9"/><line x1="501.3" y1="416.9" x2="562.8" y2="416.9" stroke="#FFFFFF" stroke-width="0.55" stroke-opacity="0.9"/><line x1="501.3" y1="429.1" x2="562.8" y2="429.1" stroke="#FFFFFF" stroke-width="0.55" stroke-opacity="0.9"/><line x1="501.3" y1="441.9" x2="562.8" y2="441.9" stroke="#FFFFFF" stroke-width="0.55" stroke-opacity="0.9"/>
<g clip-path="url(#c18)"><circle cx="512.5" cy="417.9" r="1.6" fill="#2424cc"/><circle cx="523.1" cy="420.7" r="1.6" fill="#2424cc"/><circle cx="515.3" cy="424.5" r="1.6" fill="#2424cc"/><circle cx="519.2" cy="427.1" r="1.6" fill="#2424cc"/><circle cx="521.2" cy="425.7" r="1.6" fill="#2424cc"/><circle cx="534.3" cy="430.6" r="1.6" fill="#2424cc"/><circle cx="519.2" cy="432.8" r="1.6" fill="#2424cc"/><circle cx="507.1" cy="438.4" r="1.6" fill="#2424cc"/><circle cx="517.5" cy="438.8" r="1.6" fill="#2424cc"/><circle cx="520.9" cy="438" r="1.6" fill="#2424cc"/><circle cx="518.8" cy="440.5" r="1.6" fill="#2424cc"/><circle cx="516.6" cy="442.3" r="1.6" fill="#2424cc"/><circle cx="515.3" cy="444" r="1.6" fill="#2424cc"/><circle cx="503.6" cy="444" r="1.6" fill="#2424cc"/><circle cx="526.1" cy="449.4" r="1.6" fill="#2424cc"/><circle cx="517.2" cy="451.1" r="1.6" fill="#2424cc"/><circle cx="561.6" cy="436.9" r="1.6" fill="#2424cc"/>
<path d="M504.1,429.9 L505.52,430.34 L506.93,430.76 L508.35,431.17 L509.76,431.55 L511.18,431.91 L512.59,432.23 L514,432.5 L515.42,432.71 L516.84,432.84 L518.25,432.87 L519.67,432.8 L521.08,432.63 L522.5,432.37 L523.91,432.04 L525.33,431.65 L526.74,431.21 L528.16,430.74 L529.57,430.24 L530.99,429.72 L532.4,429.19 L533.82,428.64 L535.23,428.09 L536.64,427.53 L538.06,426.96 L539.48,426.39 L540.89,425.81 L542.31,425.23 L543.72,424.64 L545.13,424.05 L546.55,423.47 L547.97,422.87 L549.38,422.28 L550.8,421.69 L552.21,421.09 L553.62,420.5 L555.04,419.9 L556.46,419.3 L557.87,418.7 L559.29,418.1 L560.7,417.5 L560.7,451.1 L559.29,450.6 L557.87,450.11 L556.46,449.62 L555.04,449.12 L553.62,448.63 L552.21,448.14 L550.8,447.65 L549.38,447.16 L547.97,446.67 L546.55,446.18 L545.13,445.7 L543.72,445.22 L542.31,444.74 L540.89,444.26 L539.48,443.79 L538.06,443.32 L536.64,442.86 L535.23,442.4 L533.82,441.95 L532.4,441.51 L530.99,441.08 L529.57,440.67 L528.16,440.28 L526.74,439.91 L525.33,439.58 L523.91,439.29 L522.5,439.06 L521.08,438.91 L519.67,438.84 L518.25,438.88 L516.84,439.02 L515.42,439.25 L514,439.56 L512.59,439.94 L511.18,440.37 L509.76,440.83 L508.35,441.32 L506.93,441.83 L505.52,442.36 L504.1,442.9 Z" fill="#999999" fill-opacity="0.32"/>
<line x1="504.1" y1="436.4" x2="560.7" y2="434.3" stroke="#141414" stroke-width="1.55"/></g>
<rect x="568" y="415.8" width="63" height="36" fill="#EBEBEB" />
<line x1="597.4" y1="415.8" x2="597.4" y2="451.8" stroke="#FFFFFF" stroke-width="0.35" stroke-opacity="0.55"/><line x1="619.15" y1="415.8" x2="619.15" y2="451.8" stroke="#FFFFFF" stroke-width="0.35" stroke-opacity="0.55"/><line x1="575.6" y1="415.8" x2="575.6" y2="451.8" stroke="#FFFFFF" stroke-width="0.35" stroke-opacity="0.55"/><line x1="568" y1="424.71" x2="631" y2="424.71" stroke="#FFFFFF" stroke-width="0.35" stroke-opacity="0.55"/><line x1="568" y1="435.14" x2="631" y2="435.14" stroke="#FFFFFF" stroke-width="0.35" stroke-opacity="0.55"/><line x1="568" y1="445.58" x2="631" y2="445.58" stroke="#FFFFFF" stroke-width="0.35" stroke-opacity="0.55"/><line x1="586.5" y1="415.8" x2="586.5" y2="451.8" stroke="#FFFFFF" stroke-width="0.55" stroke-opacity="0.9"/><line x1="608.3" y1="415.8" x2="608.3" y2="451.8" stroke="#FFFFFF" stroke-width="0.55" stroke-opacity="0.9"/><line x1="630" y1="415.8" x2="630" y2="451.8" stroke="#FFFFFF" stroke-width="0.55" stroke-opacity="0.9"/><line x1="568" y1="450.8" x2="631" y2="450.8" stroke="#FFFFFF" stroke-width="0.55" stroke-opacity="0.9"/><line x1="568" y1="440.36" x2="631" y2="440.36" stroke="#FFFFFF" stroke-width="0.55" stroke-opacity="0.9"/><line x1="568" y1="429.93" x2="631" y2="429.93" stroke="#FFFFFF" stroke-width="0.55" stroke-opacity="0.9"/><line x1="568" y1="419.49" x2="631" y2="419.49" stroke="#FFFFFF" stroke-width="0.55" stroke-opacity="0.9"/>
<path d="M570.6,450.8 L570.6,439.2 C571.4,438.2 573.73,435.43 575.4,433.2 C577.07,430.97 579.02,428.03 580.6,425.8 C582.18,423.57 583.47,421.2 584.9,419.8 C586.33,418.4 587.77,417.55 589.2,417.4 C590.63,417.25 592.05,418 593.5,418.9 C594.95,419.8 596.45,421.35 597.9,422.8 C599.35,424.25 600.77,426.3 602.2,427.6 C603.63,428.9 604.92,429.85 606.5,430.6 C608.08,431.35 609.97,431.6 611.7,432.1 C613.43,432.6 615.17,432.83 616.9,433.6 C618.63,434.37 620.37,435.55 622.1,436.7 C623.83,437.85 626.22,439.72 627.3,440.5 C628.38,441.28 628.38,441.25 628.6,441.4 L628.6,450.8 Z" fill="none" stroke="#595959" stroke-width="1.25" stroke-linejoin="round"/>
<rect x="635.6" y="415.8" width="62.9" height="36" fill="#EBEBEB" />
<rect x="662.9" y="432.8" width="2.6" height="3.4" rx="1.3" fill="#9c9c9c"/>
<rect x="668.1" y="432.8" width="2.8" height="3.4" rx="1.4" fill="#9c9c9c"/>
<rect x="702.7" y="415.8" width="63.1" height="36" fill="#EBEBEB" />
<rect x="730.2" y="432.8" width="2.6" height="3.4" rx="1.3" fill="#9c9c9c"/>
<rect x="735.2" y="432.8" width="2.8" height="3.4" rx="1.4" fill="#9c9c9c"/>
<rect x="433.8" y="456.4" width="62.9" height="36" fill="#EBEBEB" />
<line x1="461.05" y1="456.4" x2="461.05" y2="492.4" stroke="#FFFFFF" stroke-width="0.35" stroke-opacity="0.55"/><line x1="484.05" y1="456.4" x2="484.05" y2="492.4" stroke="#FFFFFF" stroke-width="0.35" stroke-opacity="0.55"/><line x1="438.15" y1="456.4" x2="438.15" y2="492.4" stroke="#FFFFFF" stroke-width="0.35" stroke-opacity="0.55"/><line x1="433.8" y1="461.75" x2="496.7" y2="461.75" stroke="#FFFFFF" stroke-width="0.35" stroke-opacity="0.55"/><line x1="433.8" y1="470.2" x2="496.7" y2="470.2" stroke="#FFFFFF" stroke-width="0.35" stroke-opacity="0.55"/><line x1="433.8" y1="478.45" x2="496.7" y2="478.45" stroke="#FFFFFF" stroke-width="0.35" stroke-opacity="0.55"/><line x1="433.8" y1="486.8" x2="496.7" y2="486.8" stroke="#FFFFFF" stroke-width="0.35" stroke-opacity="0.55"/><line x1="449.6" y1="456.4" x2="449.6" y2="492.4" stroke="#FFFFFF" stroke-width="0.55" stroke-opacity="0.9"/><line x1="472.5" y1="456.4" x2="472.5" y2="492.4" stroke="#FFFFFF" stroke-width="0.55" stroke-opacity="0.9"/><line x1="495.6" y1="456.4" x2="495.6" y2="492.4" stroke="#FFFFFF" stroke-width="0.55" stroke-opacity="0.9"/><line x1="433.8" y1="457.5" x2="496.7" y2="457.5" stroke="#FFFFFF" stroke-width="0.55" stroke-opacity="0.9"/><line x1="433.8" y1="466" x2="496.7" y2="466" stroke="#FFFFFF" stroke-width="0.55" stroke-opacity="0.9"/><line x1="433.8" y1="474.4" x2="496.7" y2="474.4" stroke="#FFFFFF" stroke-width="0.55" stroke-opacity="0.9"/><line x1="433.8" y1="482.5" x2="496.7" y2="482.5" stroke="#FFFFFF" stroke-width="0.55" stroke-opacity="0.9"/><line x1="433.8" y1="491.1" x2="496.7" y2="491.1" stroke="#FFFFFF" stroke-width="0.55" stroke-opacity="0.9"/>
<g clip-path="url(#c19)"><circle cx="483.8" cy="458.1" r="1.6" fill="#2424cc"/><circle cx="456.5" cy="460.3" r="1.6" fill="#2424cc"/><circle cx="461.8" cy="460.3" r="1.6" fill="#2424cc"/><circle cx="442.6" cy="466" r="1.6" fill="#2424cc"/><circle cx="466.7" cy="467.9" r="1.6" fill="#2424cc"/><circle cx="471.3" cy="468.1" r="1.6" fill="#2424cc"/><circle cx="453.9" cy="473.4" r="1.6" fill="#2424cc"/><circle cx="455.7" cy="474" r="1.6" fill="#2424cc"/><circle cx="462.4" cy="473.4" r="1.6" fill="#2424cc"/><circle cx="464.2" cy="472.5" r="1.6" fill="#2424cc"/><circle cx="463.6" cy="474.6" r="1.6" fill="#2424cc"/><circle cx="466.1" cy="473" r="1.6" fill="#2424cc"/><circle cx="471.6" cy="475.2" r="1.6" fill="#2424cc"/><circle cx="494.2" cy="474.8" r="1.6" fill="#2424cc"/><circle cx="445.3" cy="477.9" r="1.6" fill="#2424cc"/><circle cx="466.9" cy="478.3" r="1.6" fill="#2424cc"/><circle cx="459.4" cy="480.1" r="1.6" fill="#2424cc"/><circle cx="453.6" cy="480.9" r="1.6" fill="#2424cc"/><circle cx="456.9" cy="482.3" r="1.6" fill="#2424cc"/><circle cx="436.5" cy="482.8" r="1.6" fill="#2424cc"/><circle cx="464.2" cy="485" r="1.6" fill="#2424cc"/><circle cx="451.2" cy="487.4" r="1.6" fill="#2424cc"/><circle cx="447.1" cy="488" r="1.6" fill="#2424cc"/><circle cx="444.7" cy="488.9" r="1.6" fill="#2424cc"/><circle cx="464.2" cy="491.5" r="1.6" fill="#2424cc"/>
<path d="M436.5,476.3 L437.93,476.2 L439.36,476.11 L440.78,476.01 L442.21,475.9 L443.64,475.79 L445.06,475.68 L446.49,475.56 L447.92,475.43 L449.35,475.29 L450.77,475.14 L452.2,474.97 L453.63,474.79 L455.06,474.59 L456.49,474.36 L457.91,474.11 L459.34,473.82 L460.77,473.49 L462.19,473.12 L463.62,472.72 L465.05,472.28 L466.48,471.8 L467.91,471.3 L469.33,470.77 L470.76,470.22 L472.19,469.65 L473.62,469.07 L475.04,468.47 L476.47,467.87 L477.9,467.26 L479.33,466.65 L480.75,466.03 L482.18,465.4 L483.61,464.77 L485.04,464.14 L486.46,463.51 L487.89,462.87 L489.32,462.23 L490.75,461.59 L492.17,460.94 L493.6,460.3 L493.6,474.3 L492.17,474.39 L490.75,474.47 L489.32,474.56 L487.89,474.65 L486.46,474.74 L485.04,474.84 L483.61,474.94 L482.18,475.04 L480.75,475.14 L479.33,475.25 L477.9,475.37 L476.47,475.49 L475.04,475.62 L473.62,475.75 L472.19,475.9 L470.76,476.06 L469.33,476.24 L467.91,476.44 L466.48,476.67 L465.05,476.92 L463.62,477.21 L462.19,477.54 L460.77,477.9 L459.34,478.3 L457.91,478.74 L456.49,479.22 L455.06,479.72 L453.63,480.25 L452.2,480.8 L450.77,481.36 L449.35,481.94 L447.92,482.53 L446.49,483.13 L445.06,483.74 L443.64,484.36 L442.21,484.98 L440.78,485.6 L439.36,486.23 L437.93,486.87 L436.5,487.5 Z" fill="#999999" fill-opacity="0.32"/>
<line x1="436.5" y1="481.9" x2="493.6" y2="467.3" stroke="#141414" stroke-width="1.55"/></g>
<rect x="501.3" y="456.4" width="61.5" height="36" fill="#EBEBEB" />
<line x1="516.6" y1="456.4" x2="516.6" y2="492.4" stroke="#FFFFFF" stroke-width="0.35" stroke-opacity="0.55"/><line x1="536.35" y1="456.4" x2="536.35" y2="492.4" stroke="#FFFFFF" stroke-width="0.35" stroke-opacity="0.55"/><line x1="556.1" y1="456.4" x2="556.1" y2="492.4" stroke="#FFFFFF" stroke-width="0.35" stroke-opacity="0.55"/><line x1="501.3" y1="461.75" x2="562.8" y2="461.75" stroke="#FFFFFF" stroke-width="0.35" stroke-opacity="0.55"/><line x1="501.3" y1="470.2" x2="562.8" y2="470.2" stroke="#FFFFFF" stroke-width="0.35" stroke-opacity="0.55"/><line x1="501.3" y1="478.45" x2="562.8" y2="478.45" stroke="#FFFFFF" stroke-width="0.35" stroke-opacity="0.55"/><line x1="501.3" y1="486.8" x2="562.8" y2="486.8" stroke="#FFFFFF" stroke-width="0.35" stroke-opacity="0.55"/><line x1="506.7" y1="456.4" x2="506.7" y2="492.4" stroke="#FFFFFF" stroke-width="0.55" stroke-opacity="0.9"/><line x1="526.5" y1="456.4" x2="526.5" y2="492.4" stroke="#FFFFFF" stroke-width="0.55" stroke-opacity="0.9"/><line x1="546.2" y1="456.4" x2="546.2" y2="492.4" stroke="#FFFFFF" stroke-width="0.55" stroke-opacity="0.9"/><line x1="501.3" y1="457.5" x2="562.8" y2="457.5" stroke="#FFFFFF" stroke-width="0.55" stroke-opacity="0.9"/><line x1="501.3" y1="466" x2="562.8" y2="466" stroke="#FFFFFF" stroke-width="0.55" stroke-opacity="0.9"/><line x1="501.3" y1="474.4" x2="562.8" y2="474.4" stroke="#FFFFFF" stroke-width="0.55" stroke-opacity="0.9"/><line x1="501.3" y1="482.5" x2="562.8" y2="482.5" stroke="#FFFFFF" stroke-width="0.55" stroke-opacity="0.9"/><line x1="501.3" y1="491.1" x2="562.8" y2="491.1" stroke="#FFFFFF" stroke-width="0.55" stroke-opacity="0.9"/>
<g clip-path="url(#c20)"><circle cx="521.2" cy="458.2" r="1.6" fill="#2424cc"/><circle cx="527.2" cy="460.4" r="1.6" fill="#2424cc"/><circle cx="561.6" cy="460.2" r="1.6" fill="#2424cc"/><circle cx="524.4" cy="465.4" r="1.6" fill="#2424cc"/><circle cx="517" cy="465.8" r="1.6" fill="#2424cc"/><circle cx="515.3" cy="467.6" r="1.6" fill="#2424cc"/><circle cx="519.2" cy="468" r="1.6" fill="#2424cc"/><circle cx="514.9" cy="471" r="1.6" fill="#2424cc"/><circle cx="509.7" cy="472.9" r="1.6" fill="#2424cc"/><circle cx="512.3" cy="473.6" r="1.6" fill="#2424cc"/><circle cx="524.8" cy="471.7" r="1.6" fill="#2424cc"/><circle cx="520.9" cy="474.1" r="1.6" fill="#2424cc"/><circle cx="523.5" cy="474.9" r="1.6" fill="#2424cc"/><circle cx="532.6" cy="474.9" r="1.6" fill="#2424cc"/><circle cx="526.5" cy="477.5" r="1.6" fill="#2424cc"/><circle cx="527.8" cy="478.4" r="1.6" fill="#2424cc"/><circle cx="521.4" cy="478.4" r="1.6" fill="#2424cc"/><circle cx="503.6" cy="482.7" r="1.6" fill="#2424cc"/><circle cx="517.5" cy="481" r="1.6" fill="#2424cc"/><circle cx="519.2" cy="482.3" r="1.6" fill="#2424cc"/><circle cx="517.5" cy="484.9" r="1.6" fill="#2424cc"/><circle cx="517" cy="486.6" r="1.6" fill="#2424cc"/><circle cx="518.8" cy="487.5" r="1.6" fill="#2424cc"/><circle cx="534.3" cy="485.1" r="1.6" fill="#2424cc"/><circle cx="527.2" cy="489" r="1.6" fill="#2424cc"/><circle cx="511.8" cy="491.8" r="1.6" fill="#2424cc"/>
<path d="M504.1,476.9 L505.52,476.75 L506.93,476.58 L508.35,476.39 L509.76,476.17 L511.18,475.92 L512.59,475.63 L514,475.31 L515.42,474.93 L516.84,474.52 L518.25,474.06 L519.67,473.56 L521.08,473.03 L522.5,472.48 L523.91,471.91 L525.33,471.32 L526.74,470.72 L528.16,470.1 L529.57,469.48 L530.99,468.86 L532.4,468.22 L533.82,467.58 L535.23,466.94 L536.64,466.3 L538.06,465.65 L539.48,465 L540.89,464.35 L542.31,463.69 L543.72,463.04 L545.13,462.38 L546.55,461.72 L547.97,461.06 L549.38,460.4 L550.8,459.74 L552.21,459.08 L553.62,458.42 L555.04,457.76 L556.46,457.09 L557.87,456.43 L559.29,455.76 L560.7,455.1 L560.7,475.1 L559.29,475.18 L557.87,475.25 L556.46,475.33 L555.04,475.4 L553.62,475.48 L552.21,475.56 L550.8,475.64 L549.38,475.72 L547.97,475.8 L546.55,475.88 L545.13,475.96 L543.72,476.04 L542.31,476.13 L540.89,476.21 L539.48,476.3 L538.06,476.39 L536.64,476.48 L535.23,476.58 L533.82,476.68 L532.4,476.78 L530.99,476.88 L529.57,477 L528.16,477.12 L526.74,477.24 L525.33,477.38 L523.91,477.53 L522.5,477.7 L521.08,477.89 L519.67,478.1 L518.25,478.34 L516.84,478.62 L515.42,478.95 L514,479.31 L512.59,479.73 L511.18,480.18 L509.76,480.67 L508.35,481.19 L506.93,481.74 L505.52,482.31 L504.1,482.9 Z" fill="#999999" fill-opacity="0.32"/>
<line x1="504.1" y1="479.9" x2="560.7" y2="465.1" stroke="#141414" stroke-width="1.55"/></g>
<rect x="568" y="456.4" width="63" height="36" fill="#EBEBEB" />
<line x1="597.4" y1="456.4" x2="597.4" y2="492.4" stroke="#FFFFFF" stroke-width="0.35" stroke-opacity="0.55"/><line x1="619.15" y1="456.4" x2="619.15" y2="492.4" stroke="#FFFFFF" stroke-width="0.35" stroke-opacity="0.55"/><line x1="575.6" y1="456.4" x2="575.6" y2="492.4" stroke="#FFFFFF" stroke-width="0.35" stroke-opacity="0.55"/><line x1="568" y1="461.75" x2="631" y2="461.75" stroke="#FFFFFF" stroke-width="0.35" stroke-opacity="0.55"/><line x1="568" y1="470.2" x2="631" y2="470.2" stroke="#FFFFFF" stroke-width="0.35" stroke-opacity="0.55"/><line x1="568" y1="478.45" x2="631" y2="478.45" stroke="#FFFFFF" stroke-width="0.35" stroke-opacity="0.55"/><line x1="568" y1="486.8" x2="631" y2="486.8" stroke="#FFFFFF" stroke-width="0.35" stroke-opacity="0.55"/><line x1="586.5" y1="456.4" x2="586.5" y2="492.4" stroke="#FFFFFF" stroke-width="0.55" stroke-opacity="0.9"/><line x1="608.3" y1="456.4" x2="608.3" y2="492.4" stroke="#FFFFFF" stroke-width="0.55" stroke-opacity="0.9"/><line x1="630" y1="456.4" x2="630" y2="492.4" stroke="#FFFFFF" stroke-width="0.55" stroke-opacity="0.9"/><line x1="568" y1="457.5" x2="631" y2="457.5" stroke="#FFFFFF" stroke-width="0.55" stroke-opacity="0.9"/><line x1="568" y1="466" x2="631" y2="466" stroke="#FFFFFF" stroke-width="0.55" stroke-opacity="0.9"/><line x1="568" y1="474.4" x2="631" y2="474.4" stroke="#FFFFFF" stroke-width="0.55" stroke-opacity="0.9"/><line x1="568" y1="482.5" x2="631" y2="482.5" stroke="#FFFFFF" stroke-width="0.55" stroke-opacity="0.9"/><line x1="568" y1="491.1" x2="631" y2="491.1" stroke="#FFFFFF" stroke-width="0.55" stroke-opacity="0.9"/>
<g clip-path="url(#c21)"><circle cx="595.3" cy="460.2" r="1.6" fill="#2424cc"/><circle cx="588.8" cy="468" r="1.6" fill="#2424cc"/><circle cx="582.7" cy="473" r="1.6" fill="#2424cc"/><circle cx="616" cy="472.5" r="1.6" fill="#2424cc"/><circle cx="615" cy="473.6" r="1.6" fill="#2424cc"/><circle cx="600.9" cy="474.7" r="1.6" fill="#2424cc"/><circle cx="573.7" cy="477.1" r="1.6" fill="#2424cc"/><circle cx="628.6" cy="474.3" r="1.6" fill="#2424cc"/><circle cx="624.7" cy="474.7" r="1.6" fill="#2424cc"/><circle cx="592.7" cy="478" r="1.6" fill="#2424cc"/><circle cx="592.2" cy="480.1" r="1.6" fill="#2424cc"/><circle cx="585.8" cy="480.5" r="1.6" fill="#2424cc"/><circle cx="588.4" cy="482.5" r="1.6" fill="#2424cc"/><circle cx="582.7" cy="482.9" r="1.6" fill="#2424cc"/><circle cx="570.6" cy="485" r="1.6" fill="#2424cc"/><circle cx="605.2" cy="485.1" r="1.6" fill="#2424cc"/><circle cx="612.4" cy="487.3" r="1.6" fill="#2424cc"/><circle cx="592.2" cy="487.9" r="1.6" fill="#2424cc"/>
<path d="M571.1,474.1 L572.55,474.24 L574,474.38 L575.44,474.52 L576.89,474.65 L578.34,474.78 L579.78,474.91 L581.23,475.03 L582.68,475.15 L584.13,475.26 L585.58,475.36 L587.02,475.45 L588.47,475.53 L589.92,475.59 L591.37,475.62 L592.81,475.64 L594.26,475.62 L595.71,475.56 L597.15,475.47 L598.6,475.33 L600.05,475.14 L601.5,474.92 L602.95,474.66 L604.39,474.37 L605.84,474.06 L607.29,473.73 L608.74,473.38 L610.18,473.02 L611.63,472.64 L613.08,472.26 L614.52,471.88 L615.97,471.48 L617.42,471.08 L618.87,470.68 L620.32,470.28 L621.76,469.87 L623.21,469.46 L624.66,469.05 L626.11,468.63 L627.55,468.22 L629,467.8 L629,481.2 L627.55,481.05 L626.11,480.91 L624.66,480.76 L623.21,480.62 L621.76,480.48 L620.32,480.34 L618.87,480.21 L617.42,480.08 L615.97,479.95 L614.52,479.82 L613.08,479.71 L611.63,479.6 L610.18,479.49 L608.74,479.4 L607.29,479.32 L605.84,479.26 L604.39,479.22 L602.95,479.2 L601.5,479.21 L600.05,479.26 L598.6,479.34 L597.15,479.47 L595.71,479.65 L594.26,479.86 L592.81,480.11 L591.37,480.4 L589.92,480.7 L588.47,481.03 L587.02,481.38 L585.58,481.74 L584.13,482.11 L582.68,482.49 L581.23,482.88 L579.78,483.27 L578.34,483.67 L576.89,484.07 L575.44,484.47 L574,484.88 L572.55,485.29 L571.1,485.7 Z" fill="#999999" fill-opacity="0.32"/>
<line x1="571.1" y1="479.9" x2="629" y2="474.5" stroke="#141414" stroke-width="1.55"/></g>
<rect x="635.6" y="456.4" width="62.9" height="36" fill="#EBEBEB" />
<line x1="645.95" y1="456.4" x2="645.95" y2="492.4" stroke="#FFFFFF" stroke-width="0.35" stroke-opacity="0.55"/><line x1="660.55" y1="456.4" x2="660.55" y2="492.4" stroke="#FFFFFF" stroke-width="0.35" stroke-opacity="0.55"/><line x1="675.15" y1="456.4" x2="675.15" y2="492.4" stroke="#FFFFFF" stroke-width="0.35" stroke-opacity="0.55"/><line x1="689.7" y1="456.4" x2="689.7" y2="492.4" stroke="#FFFFFF" stroke-width="0.35" stroke-opacity="0.55"/><line x1="635.6" y1="465.51" x2="698.5" y2="465.51" stroke="#FFFFFF" stroke-width="0.35" stroke-opacity="0.55"/><line x1="635.6" y1="475.94" x2="698.5" y2="475.94" stroke="#FFFFFF" stroke-width="0.35" stroke-opacity="0.55"/><line x1="635.6" y1="486.38" x2="698.5" y2="486.38" stroke="#FFFFFF" stroke-width="0.35" stroke-opacity="0.55"/><line x1="638.7" y1="456.4" x2="638.7" y2="492.4" stroke="#FFFFFF" stroke-width="0.55" stroke-opacity="0.9"/><line x1="653.2" y1="456.4" x2="653.2" y2="492.4" stroke="#FFFFFF" stroke-width="0.55" stroke-opacity="0.9"/><line x1="667.9" y1="456.4" x2="667.9" y2="492.4" stroke="#FFFFFF" stroke-width="0.55" stroke-opacity="0.9"/><line x1="682.4" y1="456.4" x2="682.4" y2="492.4" stroke="#FFFFFF" stroke-width="0.55" stroke-opacity="0.9"/><line x1="697" y1="456.4" x2="697" y2="492.4" stroke="#FFFFFF" stroke-width="0.55" stroke-opacity="0.9"/><line x1="635.6" y1="491.6" x2="698.5" y2="491.6" stroke="#FFFFFF" stroke-width="0.55" stroke-opacity="0.9"/><line x1="635.6" y1="481.16" x2="698.5" y2="481.16" stroke="#FFFFFF" stroke-width="0.55" stroke-opacity="0.9"/><line x1="635.6" y1="470.73" x2="698.5" y2="470.73" stroke="#FFFFFF" stroke-width="0.55" stroke-opacity="0.9"/><line x1="635.6" y1="460.29" x2="698.5" y2="460.29" stroke="#FFFFFF" stroke-width="0.55" stroke-opacity="0.9"/>
<path d="M638.2,491.6 L638.2,484.4 C638.9,483.62 640.83,481.07 642.4,479.7 C643.97,478.33 645.87,477.1 647.6,476.2 C649.33,475.3 651.22,475.08 652.8,474.3 C654.38,473.52 655.67,472.92 657.1,471.5 C658.53,470.08 660.1,467.6 661.4,465.8 C662.7,464 663.88,461.97 664.9,460.7 C665.92,459.43 666.63,458.42 667.5,458.2 C668.37,457.98 669.23,458.42 670.1,459.4 C670.97,460.38 671.7,462.23 672.7,464.1 C673.7,465.97 674.82,468.43 676.1,470.6 C677.38,472.77 678.82,475.3 680.4,477.1 C681.98,478.9 683.87,480.42 685.6,481.4 C687.33,482.38 689.1,482.45 690.8,483 C692.5,483.55 694.97,484.42 695.8,484.7 L695.8,491.6 Z" fill="none" stroke="#595959" stroke-width="1.25" stroke-linejoin="round"/>
<rect x="702.7" y="456.4" width="63.1" height="36" fill="#EBEBEB" />
<rect x="733.4" y="474.25" width="2" height="1.3" rx="0.65" fill="#c4c4c4"/>
<rect x="433.8" y="496.9" width="62.9" height="36.5" fill="#EBEBEB" />
<line x1="461.05" y1="496.9" x2="461.05" y2="533.4" stroke="#FFFFFF" stroke-width="0.35" stroke-opacity="0.55"/><line x1="484.05" y1="496.9" x2="484.05" y2="533.4" stroke="#FFFFFF" stroke-width="0.35" stroke-opacity="0.55"/><line x1="438.15" y1="496.9" x2="438.15" y2="533.4" stroke="#FFFFFF" stroke-width="0.35" stroke-opacity="0.55"/><line x1="433.8" y1="501.85" x2="496.7" y2="501.85" stroke="#FFFFFF" stroke-width="0.35" stroke-opacity="0.55"/><line x1="433.8" y1="510.2" x2="496.7" y2="510.2" stroke="#FFFFFF" stroke-width="0.35" stroke-opacity="0.55"/><line x1="433.8" y1="518.45" x2="496.7" y2="518.45" stroke="#FFFFFF" stroke-width="0.35" stroke-opacity="0.55"/><line x1="433.8" y1="526.8" x2="496.7" y2="526.8" stroke="#FFFFFF" stroke-width="0.35" stroke-opacity="0.55"/><line x1="449.6" y1="496.9" x2="449.6" y2="533.4" stroke="#FFFFFF" stroke-width="0.55" stroke-opacity="0.9"/><line x1="472.5" y1="496.9" x2="472.5" y2="533.4" stroke="#FFFFFF" stroke-width="0.55" stroke-opacity="0.9"/><line x1="495.6" y1="496.9" x2="495.6" y2="533.4" stroke="#FFFFFF" stroke-width="0.55" stroke-opacity="0.9"/><line x1="433.8" y1="497.7" x2="496.7" y2="497.7" stroke="#FFFFFF" stroke-width="0.55" stroke-opacity="0.9"/><line x1="433.8" y1="506" x2="496.7" y2="506" stroke="#FFFFFF" stroke-width="0.55" stroke-opacity="0.9"/><line x1="433.8" y1="514.4" x2="496.7" y2="514.4" stroke="#FFFFFF" stroke-width="0.55" stroke-opacity="0.9"/><line x1="433.8" y1="522.5" x2="496.7" y2="522.5" stroke="#FFFFFF" stroke-width="0.55" stroke-opacity="0.9"/><line x1="433.8" y1="531.1" x2="496.7" y2="531.1" stroke="#FFFFFF" stroke-width="0.55" stroke-opacity="0.9"/>
<g clip-path="url(#c22)"><circle cx="467" cy="498.7" r="1.6" fill="#2424cc"/><circle cx="471.3" cy="503.2" r="1.6" fill="#2424cc"/><circle cx="461.8" cy="506.9" r="1.6" fill="#2424cc"/><circle cx="471.3" cy="507.6" r="1.6" fill="#2424cc"/><circle cx="494.2" cy="506.7" r="1.6" fill="#2424cc"/><circle cx="464.2" cy="509.1" r="1.6" fill="#2424cc"/><circle cx="466.1" cy="510.1" r="1.6" fill="#2424cc"/><circle cx="483.8" cy="508.5" r="1.6" fill="#2424cc"/><circle cx="477.1" cy="511.5" r="1.6" fill="#2424cc"/><circle cx="451.2" cy="514.2" r="1.6" fill="#2424cc"/><circle cx="453.9" cy="515.2" r="1.6" fill="#2424cc"/><circle cx="456.9" cy="514.6" r="1.6" fill="#2424cc"/><circle cx="461.8" cy="514.6" r="1.6" fill="#2424cc"/><circle cx="455.1" cy="517.4" r="1.6" fill="#2424cc"/><circle cx="446.5" cy="517.9" r="1.6" fill="#2424cc"/><circle cx="444.1" cy="519.5" r="1.6" fill="#2424cc"/><circle cx="463" cy="518.3" r="1.6" fill="#2424cc"/><circle cx="464.8" cy="518.9" r="1.6" fill="#2424cc"/><circle cx="466.7" cy="519.8" r="1.6" fill="#2424cc"/><circle cx="462.4" cy="520.7" r="1.6" fill="#2424cc"/><circle cx="464.2" cy="521.3" r="1.6" fill="#2424cc"/><circle cx="436.5" cy="522.5" r="1.6" fill="#2424cc"/><circle cx="459.4" cy="523.1" r="1.6" fill="#2424cc"/><circle cx="456.3" cy="524.7" r="1.6" fill="#2424cc"/><circle cx="445.3" cy="526.2" r="1.6" fill="#2424cc"/><circle cx="464.2" cy="526.2" r="1.6" fill="#2424cc"/><circle cx="442.3" cy="530.5" r="1.6" fill="#2424cc"/>
<path d="M436.5,521.3 L437.93,520.94 L439.36,520.59 L440.78,520.23 L442.21,519.86 L443.64,519.49 L445.06,519.12 L446.49,518.74 L447.92,518.35 L449.35,517.96 L450.77,517.55 L452.2,517.13 L453.63,516.7 L455.06,516.25 L456.49,515.77 L457.91,515.28 L459.34,514.76 L460.77,514.22 L462.19,513.65 L463.62,513.06 L465.05,512.45 L466.48,511.82 L467.91,511.18 L469.33,510.53 L470.76,509.86 L472.19,509.19 L473.62,508.51 L475.04,507.83 L476.47,507.14 L477.9,506.45 L479.33,505.75 L480.75,505.06 L482.18,504.36 L483.61,503.65 L485.04,502.95 L486.46,502.24 L487.89,501.54 L489.32,500.83 L490.75,500.12 L492.17,499.41 L493.6,498.7 L493.6,508.5 L492.17,508.84 L490.75,509.19 L489.32,509.54 L487.89,509.88 L486.46,510.23 L485.04,510.58 L483.61,510.93 L482.18,511.28 L480.75,511.64 L479.33,512 L477.9,512.35 L476.47,512.72 L475.04,513.08 L473.62,513.46 L472.19,513.83 L470.76,514.22 L469.33,514.61 L467.91,515.01 L466.48,515.43 L465.05,515.85 L463.62,516.3 L462.19,516.76 L460.77,517.25 L459.34,517.76 L457.91,518.3 L456.49,518.86 L455.06,519.44 L453.63,520.04 L452.2,520.66 L450.77,521.3 L449.35,521.95 L447.92,522.61 L446.49,523.28 L445.06,523.95 L443.64,524.63 L442.21,525.32 L440.78,526.01 L439.36,526.7 L437.93,527.4 L436.5,528.1 Z" fill="#999999" fill-opacity="0.32"/>
<line x1="436.5" y1="524.7" x2="493.6" y2="503.6" stroke="#141414" stroke-width="1.55"/></g>
<rect x="501.3" y="496.9" width="61.5" height="36.5" fill="#EBEBEB" />
<line x1="516.6" y1="496.9" x2="516.6" y2="533.4" stroke="#FFFFFF" stroke-width="0.35" stroke-opacity="0.55"/><line x1="536.35" y1="496.9" x2="536.35" y2="533.4" stroke="#FFFFFF" stroke-width="0.35" stroke-opacity="0.55"/><line x1="556.1" y1="496.9" x2="556.1" y2="533.4" stroke="#FFFFFF" stroke-width="0.35" stroke-opacity="0.55"/><line x1="501.3" y1="501.85" x2="562.8" y2="501.85" stroke="#FFFFFF" stroke-width="0.35" stroke-opacity="0.55"/><line x1="501.3" y1="510.2" x2="562.8" y2="510.2" stroke="#FFFFFF" stroke-width="0.35" stroke-opacity="0.55"/><line x1="501.3" y1="518.45" x2="562.8" y2="518.45" stroke="#FFFFFF" stroke-width="0.35" stroke-opacity="0.55"/><line x1="501.3" y1="526.8" x2="562.8" y2="526.8" stroke="#FFFFFF" stroke-width="0.35" stroke-opacity="0.55"/><line x1="506.7" y1="496.9" x2="506.7" y2="533.4" stroke="#FFFFFF" stroke-width="0.55" stroke-opacity="0.9"/><line x1="526.5" y1="496.9" x2="526.5" y2="533.4" stroke="#FFFFFF" stroke-width="0.55" stroke-opacity="0.9"/><line x1="546.2" y1="496.9" x2="546.2" y2="533.4" stroke="#FFFFFF" stroke-width="0.55" stroke-opacity="0.9"/><line x1="501.3" y1="497.7" x2="562.8" y2="497.7" stroke="#FFFFFF" stroke-width="0.55" stroke-opacity="0.9"/><line x1="501.3" y1="506" x2="562.8" y2="506" stroke="#FFFFFF" stroke-width="0.55" stroke-opacity="0.9"/><line x1="501.3" y1="514.4" x2="562.8" y2="514.4" stroke="#FFFFFF" stroke-width="0.55" stroke-opacity="0.9"/><line x1="501.3" y1="522.5" x2="562.8" y2="522.5" stroke="#FFFFFF" stroke-width="0.55" stroke-opacity="0.9"/><line x1="501.3" y1="531.1" x2="562.8" y2="531.1" stroke="#FFFFFF" stroke-width="0.55" stroke-opacity="0.9"/>
<g clip-path="url(#c23)"><circle cx="527.5" cy="498.7" r="1.6" fill="#2424cc"/><circle cx="519.2" cy="503.3" r="1.6" fill="#2424cc"/><circle cx="519.7" cy="506.8" r="1.6" fill="#2424cc"/><circle cx="521.1" cy="508.7" r="1.6" fill="#2424cc"/><circle cx="526.1" cy="507" r="1.6" fill="#2424cc"/><circle cx="532" cy="507.6" r="1.6" fill="#2424cc"/><circle cx="533.9" cy="509.2" r="1.6" fill="#2424cc"/><circle cx="515.2" cy="509.7" r="1.6" fill="#2424cc"/><circle cx="514.7" cy="511.7" r="1.6" fill="#2424cc"/><circle cx="511.8" cy="514.6" r="1.6" fill="#2424cc"/><circle cx="519.2" cy="514.6" r="1.6" fill="#2424cc"/><circle cx="522.6" cy="514.1" r="1.6" fill="#2424cc"/><circle cx="561" cy="507" r="1.6" fill="#2424cc"/><circle cx="532.9" cy="517.8" r="1.6" fill="#2424cc"/><circle cx="515.2" cy="520.1" r="1.6" fill="#2424cc"/><circle cx="527" cy="519.8" r="1.6" fill="#2424cc"/><circle cx="525.1" cy="521.3" r="1.6" fill="#2424cc"/><circle cx="502.9" cy="522.7" r="1.6" fill="#2424cc"/><circle cx="507.4" cy="523.3" r="1.6" fill="#2424cc"/><circle cx="527" cy="524.5" r="1.6" fill="#2424cc"/><circle cx="521.6" cy="526" r="1.6" fill="#2424cc"/><circle cx="524.6" cy="526.9" r="1.6" fill="#2424cc"/><circle cx="524.1" cy="528.4" r="1.6" fill="#2424cc"/><circle cx="517.2" cy="529.9" r="1.6" fill="#2424cc"/><circle cx="517.2" cy="531.9" r="1.6" fill="#2424cc"/>
<path d="M503.4,517.5 L504.84,517.38 L506.28,517.24 L507.72,517.08 L509.16,516.9 L510.6,516.68 L512.04,516.43 L513.48,516.13 L514.92,515.79 L516.36,515.41 L517.8,514.98 L519.24,514.52 L520.68,514.02 L522.12,513.5 L523.56,512.96 L525,512.41 L526.44,511.84 L527.88,511.26 L529.32,510.67 L530.76,510.07 L532.2,509.47 L533.64,508.87 L535.08,508.26 L536.52,507.64 L537.96,507.03 L539.4,506.41 L540.84,505.79 L542.28,505.17 L543.72,504.55 L545.16,503.92 L546.6,503.3 L548.04,502.67 L549.48,502.04 L550.92,501.41 L552.36,500.79 L553.8,500.16 L555.24,499.53 L556.68,498.9 L558.12,498.26 L559.56,497.63 L561,497 L561,517 L559.56,517.04 L558.12,517.09 L556.68,517.13 L555.24,517.17 L553.8,517.22 L552.36,517.26 L550.92,517.31 L549.48,517.36 L548.04,517.4 L546.6,517.45 L545.16,517.5 L543.72,517.55 L542.28,517.6 L540.84,517.66 L539.4,517.71 L537.96,517.77 L536.52,517.83 L535.08,517.89 L533.64,517.96 L532.2,518.03 L530.76,518.1 L529.32,518.18 L527.88,518.27 L526.44,518.36 L525,518.47 L523.56,518.59 L522.12,518.72 L520.68,518.88 L519.24,519.06 L517.8,519.27 L516.36,519.52 L514.92,519.81 L513.48,520.14 L512.04,520.52 L510.6,520.94 L509.16,521.4 L507.72,521.89 L506.28,522.41 L504.84,522.95 L503.4,523.5 Z" fill="#999999" fill-opacity="0.32"/>
<line x1="503.4" y1="520.5" x2="561" y2="507" stroke="#141414" stroke-width="1.55"/></g>
<rect x="568" y="496.9" width="63" height="36.5" fill="#EBEBEB" />
<line x1="597.4" y1="496.9" x2="597.4" y2="533.4" stroke="#FFFFFF" stroke-width="0.35" stroke-opacity="0.55"/><line x1="619.15" y1="496.9" x2="619.15" y2="533.4" stroke="#FFFFFF" stroke-width="0.35" stroke-opacity="0.55"/><line x1="575.6" y1="496.9" x2="575.6" y2="533.4" stroke="#FFFFFF" stroke-width="0.35" stroke-opacity="0.55"/><line x1="568" y1="501.85" x2="631" y2="501.85" stroke="#FFFFFF" stroke-width="0.35" stroke-opacity="0.55"/><line x1="568" y1="510.2" x2="631" y2="510.2" stroke="#FFFFFF" stroke-width="0.35" stroke-opacity="0.55"/><line x1="568" y1="518.45" x2="631" y2="518.45" stroke="#FFFFFF" stroke-width="0.35" stroke-opacity="0.55"/><line x1="568" y1="526.8" x2="631" y2="526.8" stroke="#FFFFFF" stroke-width="0.35" stroke-opacity="0.55"/><line x1="586.5" y1="496.9" x2="586.5" y2="533.4" stroke="#FFFFFF" stroke-width="0.55" stroke-opacity="0.9"/><line x1="608.3" y1="496.9" x2="608.3" y2="533.4" stroke="#FFFFFF" stroke-width="0.55" stroke-opacity="0.9"/><line x1="630" y1="496.9" x2="630" y2="533.4" stroke="#FFFFFF" stroke-width="0.55" stroke-opacity="0.9"/><line x1="568" y1="497.7" x2="631" y2="497.7" stroke="#FFFFFF" stroke-width="0.55" stroke-opacity="0.9"/><line x1="568" y1="506" x2="631" y2="506" stroke="#FFFFFF" stroke-width="0.55" stroke-opacity="0.9"/><line x1="568" y1="514.4" x2="631" y2="514.4" stroke="#FFFFFF" stroke-width="0.55" stroke-opacity="0.9"/><line x1="568" y1="522.5" x2="631" y2="522.5" stroke="#FFFFFF" stroke-width="0.55" stroke-opacity="0.9"/><line x1="568" y1="531.1" x2="631" y2="531.1" stroke="#FFFFFF" stroke-width="0.55" stroke-opacity="0.9"/>
<g clip-path="url(#c24)"><circle cx="588.8" cy="503.3" r="1.6" fill="#2424cc"/><circle cx="573.9" cy="507" r="1.6" fill="#2424cc"/><circle cx="595.3" cy="507" r="1.6" fill="#2424cc"/><circle cx="601.2" cy="506.6" r="1.6" fill="#2424cc"/><circle cx="605.4" cy="509.5" r="1.6" fill="#2424cc"/><circle cx="616.2" cy="509.7" r="1.6" fill="#2424cc"/><circle cx="583" cy="511" r="1.6" fill="#2424cc"/><circle cx="588.6" cy="514.6" r="1.6" fill="#2424cc"/><circle cx="585.7" cy="516.6" r="1.6" fill="#2424cc"/><circle cx="592.1" cy="518.1" r="1.6" fill="#2424cc"/><circle cx="613.7" cy="515.6" r="1.6" fill="#2424cc"/><circle cx="622.6" cy="515.1" r="1.6" fill="#2424cc"/><circle cx="628.5" cy="518.1" r="1.6" fill="#2424cc"/><circle cx="582.7" cy="522.7" r="1.6" fill="#2424cc"/><circle cx="592.1" cy="523.3" r="1.6" fill="#2424cc"/><circle cx="593.3" cy="526.3" r="1.6" fill="#2424cc"/><circle cx="570.7" cy="532.2" r="1.6" fill="#2424cc"/>
<path d="M570.9,511.2 L572.33,511.34 L573.75,511.47 L575.18,511.61 L576.61,511.74 L578.04,511.86 L579.47,511.98 L580.89,512.1 L582.32,512.21 L583.75,512.32 L585.17,512.42 L586.6,512.51 L588.03,512.59 L589.46,512.66 L590.88,512.71 L592.31,512.74 L593.74,512.76 L595.17,512.75 L596.6,512.71 L598.02,512.65 L599.45,512.55 L600.88,512.42 L602.3,512.25 L603.73,512.05 L605.16,511.83 L606.59,511.58 L608.01,511.3 L609.44,511.01 L610.87,510.7 L612.3,510.37 L613.73,510.03 L615.15,509.69 L616.58,509.33 L618.01,508.97 L619.43,508.6 L620.86,508.23 L622.29,507.85 L623.72,507.46 L625.14,507.08 L626.57,506.69 L628,506.3 L628,518.7 L626.57,518.56 L625.14,518.43 L623.72,518.3 L622.29,518.17 L620.86,518.05 L619.43,517.93 L618.01,517.82 L616.58,517.71 L615.15,517.61 L613.73,517.52 L612.3,517.43 L610.87,517.36 L609.44,517.31 L608.01,517.27 L606.59,517.25 L605.16,517.25 L603.73,517.28 L602.3,517.34 L600.88,517.43 L599.45,517.55 L598.02,517.71 L596.6,517.9 L595.17,518.12 L593.74,518.36 L592.31,518.63 L590.88,518.92 L589.46,519.23 L588.03,519.55 L586.6,519.89 L585.17,520.23 L583.75,520.58 L582.32,520.95 L580.89,521.31 L579.47,521.69 L578.04,522.06 L576.61,522.44 L575.18,522.83 L573.75,523.22 L572.33,523.61 L570.9,524 Z" fill="#999999" fill-opacity="0.32"/>
<line x1="570.9" y1="517.6" x2="628" y2="512.5" stroke="#141414" stroke-width="1.55"/></g>
<rect x="635.6" y="496.9" width="62.9" height="36.5" fill="#EBEBEB" />
<line x1="645.95" y1="496.9" x2="645.95" y2="533.4" stroke="#FFFFFF" stroke-width="0.35" stroke-opacity="0.55"/><line x1="660.55" y1="496.9" x2="660.55" y2="533.4" stroke="#FFFFFF" stroke-width="0.35" stroke-opacity="0.55"/><line x1="675.15" y1="496.9" x2="675.15" y2="533.4" stroke="#FFFFFF" stroke-width="0.35" stroke-opacity="0.55"/><line x1="689.7" y1="496.9" x2="689.7" y2="533.4" stroke="#FFFFFF" stroke-width="0.35" stroke-opacity="0.55"/><line x1="635.6" y1="501.85" x2="698.5" y2="501.85" stroke="#FFFFFF" stroke-width="0.35" stroke-opacity="0.55"/><line x1="635.6" y1="510.2" x2="698.5" y2="510.2" stroke="#FFFFFF" stroke-width="0.35" stroke-opacity="0.55"/><line x1="635.6" y1="518.45" x2="698.5" y2="518.45" stroke="#FFFFFF" stroke-width="0.35" stroke-opacity="0.55"/><line x1="635.6" y1="526.8" x2="698.5" y2="526.8" stroke="#FFFFFF" stroke-width="0.35" stroke-opacity="0.55"/><line x1="638.7" y1="496.9" x2="638.7" y2="533.4" stroke="#FFFFFF" stroke-width="0.55" stroke-opacity="0.9"/><line x1="653.2" y1="496.9" x2="653.2" y2="533.4" stroke="#FFFFFF" stroke-width="0.55" stroke-opacity="0.9"/><line x1="667.9" y1="496.9" x2="667.9" y2="533.4" stroke="#FFFFFF" stroke-width="0.55" stroke-opacity="0.9"/><line x1="682.4" y1="496.9" x2="682.4" y2="533.4" stroke="#FFFFFF" stroke-width="0.55" stroke-opacity="0.9"/><line x1="697" y1="496.9" x2="697" y2="533.4" stroke="#FFFFFF" stroke-width="0.55" stroke-opacity="0.9"/><line x1="635.6" y1="497.7" x2="698.5" y2="497.7" stroke="#FFFFFF" stroke-width="0.55" stroke-opacity="0.9"/><line x1="635.6" y1="506" x2="698.5" y2="506" stroke="#FFFFFF" stroke-width="0.55" stroke-opacity="0.9"/><line x1="635.6" y1="514.4" x2="698.5" y2="514.4" stroke="#FFFFFF" stroke-width="0.55" stroke-opacity="0.9"/><line x1="635.6" y1="522.5" x2="698.5" y2="522.5" stroke="#FFFFFF" stroke-width="0.55" stroke-opacity="0.9"/><line x1="635.6" y1="531.1" x2="698.5" y2="531.1" stroke="#FFFFFF" stroke-width="0.55" stroke-opacity="0.9"/>
<g clip-path="url(#c25)"><circle cx="661" cy="498.7" r="1.6" fill="#2424cc"/><circle cx="678.5" cy="503.3" r="1.6" fill="#2424cc"/><circle cx="692" cy="507" r="1.6" fill="#2424cc"/><circle cx="696" cy="508.7" r="1.6" fill="#2424cc"/><circle cx="663.3" cy="507" r="1.6" fill="#2424cc"/><circle cx="666" cy="507" r="1.6" fill="#2424cc"/><circle cx="666.9" cy="506" r="1.6" fill="#2424cc"/><circle cx="669.9" cy="509.7" r="1.6" fill="#2424cc"/><circle cx="671.4" cy="510.2" r="1.6" fill="#2424cc"/><circle cx="672.8" cy="511.7" r="1.6" fill="#2424cc"/><circle cx="670.4" cy="511.5" r="1.6" fill="#2424cc"/><circle cx="649.2" cy="509.4" r="1.6" fill="#2424cc"/><circle cx="637.9" cy="514.6" r="1.6" fill="#2424cc"/><circle cx="645.3" cy="514.6" r="1.6" fill="#2424cc"/><circle cx="654.1" cy="514.6" r="1.6" fill="#2424cc"/><circle cx="666.9" cy="514.6" r="1.6" fill="#2424cc"/><circle cx="667.9" cy="517.6" r="1.6" fill="#2424cc"/><circle cx="668.9" cy="519.1" r="1.6" fill="#2424cc"/><circle cx="670.4" cy="520.5" r="1.6" fill="#2424cc"/><circle cx="671.9" cy="521.5" r="1.6" fill="#2424cc"/><circle cx="642.8" cy="520.1" r="1.6" fill="#2424cc"/><circle cx="657.1" cy="517.4" r="1.6" fill="#2424cc"/><circle cx="679" cy="520.1" r="1.6" fill="#2424cc"/><circle cx="653" cy="523" r="1.6" fill="#2424cc"/><circle cx="658.1" cy="523" r="1.6" fill="#2424cc"/><circle cx="661.3" cy="526.4" r="1.6" fill="#2424cc"/><circle cx="666.4" cy="526.3" r="1.6" fill="#2424cc"/><circle cx="692" cy="524.5" r="1.6" fill="#2424cc"/><circle cx="683.2" cy="527.9" r="1.6" fill="#2424cc"/><circle cx="682.2" cy="529.9" r="1.6" fill="#2424cc"/><circle cx="649.2" cy="532.2" r="1.6" fill="#2424cc"/>
<path d="M638.7,513.2 L640.12,513.31 L641.54,513.42 L642.96,513.53 L644.38,513.63 L645.8,513.73 L647.22,513.83 L648.64,513.93 L650.06,514.01 L651.48,514.1 L652.9,514.18 L654.32,514.25 L655.74,514.31 L657.16,514.37 L658.58,514.41 L660,514.45 L661.42,514.47 L662.84,514.47 L664.26,514.47 L665.68,514.44 L667.1,514.4 L668.52,514.34 L669.94,514.27 L671.36,514.17 L672.78,514.07 L674.2,513.95 L675.62,513.81 L677.04,513.67 L678.46,513.51 L679.88,513.35 L681.3,513.18 L682.72,513 L684.14,512.81 L685.56,512.63 L686.98,512.43 L688.4,512.23 L689.82,512.03 L691.24,511.83 L692.66,511.62 L694.08,511.41 L695.5,511.2 L695.5,519.6 L694.08,519.49 L692.66,519.38 L691.24,519.27 L689.82,519.17 L688.4,519.07 L686.98,518.97 L685.56,518.87 L684.14,518.79 L682.72,518.7 L681.3,518.62 L679.88,518.55 L678.46,518.49 L677.04,518.43 L675.62,518.39 L674.2,518.35 L672.78,518.33 L671.36,518.33 L669.94,518.33 L668.52,518.36 L667.1,518.4 L665.68,518.46 L664.26,518.53 L662.84,518.63 L661.42,518.73 L660,518.85 L658.58,518.99 L657.16,519.13 L655.74,519.29 L654.32,519.45 L652.9,519.62 L651.48,519.8 L650.06,519.99 L648.64,520.17 L647.22,520.37 L645.8,520.57 L644.38,520.77 L642.96,520.97 L641.54,521.18 L640.12,521.39 L638.7,521.6 Z" fill="#999999" fill-opacity="0.32"/>
<line x1="638.7" y1="517.4" x2="695.5" y2="515.4" stroke="#141414" stroke-width="1.55"/></g>
<rect x="702.7" y="496.9" width="63.1" height="36.5" fill="#EBEBEB" />
<line x1="714.65" y1="496.9" x2="714.65" y2="533.4" stroke="#FFFFFF" stroke-width="0.35" stroke-opacity="0.55"/><line x1="729.3" y1="496.9" x2="729.3" y2="533.4" stroke="#FFFFFF" stroke-width="0.35" stroke-opacity="0.55"/><line x1="743.8" y1="496.9" x2="743.8" y2="533.4" stroke="#FFFFFF" stroke-width="0.35" stroke-opacity="0.55"/><line x1="758.2" y1="496.9" x2="758.2" y2="533.4" stroke="#FFFFFF" stroke-width="0.35" stroke-opacity="0.55"/><line x1="702.7" y1="505.86" x2="765.8" y2="505.86" stroke="#FFFFFF" stroke-width="0.35" stroke-opacity="0.55"/><line x1="702.7" y1="516.24" x2="765.8" y2="516.24" stroke="#FFFFFF" stroke-width="0.35" stroke-opacity="0.55"/><line x1="702.7" y1="526.61" x2="765.8" y2="526.61" stroke="#FFFFFF" stroke-width="0.35" stroke-opacity="0.55"/><line x1="707.3" y1="496.9" x2="707.3" y2="533.4" stroke="#FFFFFF" stroke-width="0.55" stroke-opacity="0.9"/><line x1="722" y1="496.9" x2="722" y2="533.4" stroke="#FFFFFF" stroke-width="0.55" stroke-opacity="0.9"/><line x1="736.6" y1="496.9" x2="736.6" y2="533.4" stroke="#FFFFFF" stroke-width="0.55" stroke-opacity="0.9"/><line x1="751" y1="496.9" x2="751" y2="533.4" stroke="#FFFFFF" stroke-width="0.55" stroke-opacity="0.9"/><line x1="765.4" y1="496.9" x2="765.4" y2="533.4" stroke="#FFFFFF" stroke-width="0.55" stroke-opacity="0.9"/><line x1="702.7" y1="531.8" x2="765.8" y2="531.8" stroke="#FFFFFF" stroke-width="0.55" stroke-opacity="0.9"/><line x1="702.7" y1="521.42" x2="765.8" y2="521.42" stroke="#FFFFFF" stroke-width="0.55" stroke-opacity="0.9"/><line x1="702.7" y1="511.05" x2="765.8" y2="511.05" stroke="#FFFFFF" stroke-width="0.55" stroke-opacity="0.9"/><line x1="702.7" y1="500.68" x2="765.8" y2="500.68" stroke="#FFFFFF" stroke-width="0.55" stroke-opacity="0.9"/>
<path d="M705.4,531.8 L705.4,523.5 C706.55,522.32 710.05,518.88 712.3,516.4 C714.55,513.92 716.87,511 718.9,508.6 C720.93,506.2 722.83,503.62 724.5,502 C726.17,500.38 727.62,499.47 728.9,498.9 C730.18,498.33 730.92,498.37 732.2,498.6 C733.48,498.83 734.93,499.55 736.6,500.3 C738.27,501.05 740.53,502.08 742.2,503.1 C743.87,504.12 745.13,504.93 746.6,506.4 C748.07,507.87 749.52,509.87 751,511.9 C752.48,513.93 754.02,516.57 755.5,518.6 C756.98,520.63 758.52,522.63 759.9,524.1 C761.28,525.57 763.15,526.85 763.8,527.4 L763.8,531.8 Z" fill="none" stroke="#595959" stroke-width="1.25" stroke-linejoin="round"/>
<text x="449.6" y="541.85" font-size="6.0" fill="#555555" text-anchor="middle" >1.5</text>
<text x="472.5" y="541.85" font-size="6.0" fill="#555555" text-anchor="middle" >2.0</text>
<text x="495.6" y="541.85" font-size="6.0" fill="#555555" text-anchor="middle" >2.5</text>
<text x="506.7" y="541.85" font-size="6.0" fill="#555555" text-anchor="middle" >1.5</text>
<text x="526.5" y="541.85" font-size="6.0" fill="#555555" text-anchor="middle" >2.0</text>
<text x="546.2" y="541.85" font-size="6.0" fill="#555555" text-anchor="middle" >2.5</text>
<text x="586.5" y="541.85" font-size="6.0" fill="#555555" text-anchor="middle" >4</text>
<text x="608.3" y="541.85" font-size="6.0" fill="#555555" text-anchor="middle" >5</text>
<text x="630" y="541.85" font-size="6.0" fill="#555555" text-anchor="middle" >6</text>
<text x="638.7" y="541.85" font-size="6.0" fill="#555555" text-anchor="middle" >2.0</text>
<text x="653.2" y="541.85" font-size="6.0" fill="#555555" text-anchor="middle" >2.5</text>
<text x="667.9" y="541.85" font-size="6.0" fill="#555555" text-anchor="middle" >3.0</text>
<text x="682.4" y="541.85" font-size="6.0" fill="#555555" text-anchor="middle" >3.5</text>
<text x="697" y="541.85" font-size="6.0" fill="#555555" text-anchor="middle" >4.0</text>
<text x="707.3" y="541.85" font-size="6.0" fill="#555555" text-anchor="middle" >0.75</text>
<text x="722" y="541.85" font-size="6.0" fill="#555555" text-anchor="middle" >1.00</text>
<text x="736.6" y="541.85" font-size="6.0" fill="#555555" text-anchor="middle" >1.25</text>
<text x="751" y="541.85" font-size="6.0" fill="#555555" text-anchor="middle" >1.50</text>
<text x="765.4" y="541.85" font-size="6.0" fill="#555555" text-anchor="middle" >1.75</text>
<text x="430" y="344.35" font-size="6.0" fill="#555555" text-anchor="end" >1.5</text>
<text x="430" y="353.55" font-size="6.0" fill="#555555" text-anchor="end" >1.0</text>
<text x="430" y="362.65" font-size="6.0" fill="#555555" text-anchor="end" >0.5</text>
<text x="430" y="371.85" font-size="6.0" fill="#555555" text-anchor="end" >0.0</text>
<text x="430" y="388.45" font-size="6.0" fill="#555555" text-anchor="end" >2.5</text>
<text x="430" y="399.75" font-size="6.0" fill="#555555" text-anchor="end" >2.0</text>
<text x="430" y="410.75" font-size="6.0" fill="#555555" text-anchor="end" >1.5</text>
<text x="430" y="419.05" font-size="6.0" fill="#555555" text-anchor="end" >6</text>
<text x="430" y="431.25" font-size="6.0" fill="#555555" text-anchor="end" >5</text>
<text x="430" y="444.05" font-size="6.0" fill="#555555" text-anchor="end" >4</text>
<text x="430" y="459.65" font-size="6.0" fill="#555555" text-anchor="end" >4.0</text>
<text x="430" y="468.15" font-size="6.0" fill="#555555" text-anchor="end" >3.5</text>
<text x="430" y="476.55" font-size="6.0" fill="#555555" text-anchor="end" >3.0</text>
<text x="430" y="484.65" font-size="6.0" fill="#555555" text-anchor="end" >2.5</text>
<text x="430" y="493.25" font-size="6.0" fill="#555555" text-anchor="end" >2.0</text>
<text x="430" y="499.85" font-size="6.0" fill="#555555" text-anchor="end" >1.75</text>
<text x="430" y="508.15" font-size="6.0" fill="#555555" text-anchor="end" >1.50</text>
<text x="430" y="516.55" font-size="6.0" fill="#555555" text-anchor="end" >1.25</text>
<text x="430" y="524.65" font-size="6.0" fill="#555555" text-anchor="end" >1.00</text>
<text x="430" y="533.25" font-size="6.0" fill="#555555" text-anchor="end" >0.75</text>
<line x1="449.6" y1="533.4" x2="449.6" y2="535.2" stroke="#555" stroke-width="0.5"/><line x1="472.5" y1="533.4" x2="472.5" y2="535.2" stroke="#555" stroke-width="0.5"/><line x1="495.6" y1="533.4" x2="495.6" y2="535.2" stroke="#555" stroke-width="0.5"/><line x1="506.7" y1="533.4" x2="506.7" y2="535.2" stroke="#555" stroke-width="0.5"/><line x1="526.5" y1="533.4" x2="526.5" y2="535.2" stroke="#555" stroke-width="0.5"/><line x1="546.2" y1="533.4" x2="546.2" y2="535.2" stroke="#555" stroke-width="0.5"/><line x1="586.5" y1="533.4" x2="586.5" y2="535.2" stroke="#555" stroke-width="0.5"/><line x1="608.3" y1="533.4" x2="608.3" y2="535.2" stroke="#555" stroke-width="0.5"/><line x1="630" y1="533.4" x2="630" y2="535.2" stroke="#555" stroke-width="0.5"/><line x1="638.7" y1="533.4" x2="638.7" y2="535.2" stroke="#555" stroke-width="0.5"/><line x1="653.2" y1="533.4" x2="653.2" y2="535.2" stroke="#555" stroke-width="0.5"/><line x1="667.9" y1="533.4" x2="667.9" y2="535.2" stroke="#555" stroke-width="0.5"/><line x1="682.4" y1="533.4" x2="682.4" y2="535.2" stroke="#555" stroke-width="0.5"/><line x1="697" y1="533.4" x2="697" y2="535.2" stroke="#555" stroke-width="0.5"/><line x1="707.3" y1="533.4" x2="707.3" y2="535.2" stroke="#555" stroke-width="0.5"/><line x1="722" y1="533.4" x2="722" y2="535.2" stroke="#555" stroke-width="0.5"/><line x1="736.6" y1="533.4" x2="736.6" y2="535.2" stroke="#555" stroke-width="0.5"/><line x1="751" y1="533.4" x2="751" y2="535.2" stroke="#555" stroke-width="0.5"/><line x1="765.4" y1="533.4" x2="765.4" y2="535.2" stroke="#555" stroke-width="0.5"/><line x1="432" y1="342.2" x2="433.8" y2="342.2" stroke="#555" stroke-width="0.5"/><line x1="432" y1="351.4" x2="433.8" y2="351.4" stroke="#555" stroke-width="0.5"/><line x1="432" y1="360.5" x2="433.8" y2="360.5" stroke="#555" stroke-width="0.5"/><line x1="432" y1="369.7" x2="433.8" y2="369.7" stroke="#555" stroke-width="0.5"/><line x1="432" y1="386.3" x2="433.8" y2="386.3" stroke="#555" stroke-width="0.5"/><line x1="432" y1="397.6" x2="433.8" y2="397.6" stroke="#555" stroke-width="0.5"/><line x1="432" y1="408.6" x2="433.8" y2="408.6" stroke="#555" stroke-width="0.5"/><line x1="432" y1="416.9" x2="433.8" y2="416.9" stroke="#555" stroke-width="0.5"/><line x1="432" y1="429.1" x2="433.8" y2="429.1" stroke="#555" stroke-width="0.5"/><line x1="432" y1="441.9" x2="433.8" y2="441.9" stroke="#555" stroke-width="0.5"/><line x1="432" y1="457.5" x2="433.8" y2="457.5" stroke="#555" stroke-width="0.5"/><line x1="432" y1="466" x2="433.8" y2="466" stroke="#555" stroke-width="0.5"/><line x1="432" y1="474.4" x2="433.8" y2="474.4" stroke="#555" stroke-width="0.5"/><line x1="432" y1="482.5" x2="433.8" y2="482.5" stroke="#555" stroke-width="0.5"/><line x1="432" y1="491.1" x2="433.8" y2="491.1" stroke="#555" stroke-width="0.5"/><line x1="432" y1="497.7" x2="433.8" y2="497.7" stroke="#555" stroke-width="0.5"/><line x1="432" y1="506" x2="433.8" y2="506" stroke="#555" stroke-width="0.5"/><line x1="432" y1="514.4" x2="433.8" y2="514.4" stroke="#555" stroke-width="0.5"/><line x1="432" y1="522.5" x2="433.8" y2="522.5" stroke="#555" stroke-width="0.5"/><line x1="432" y1="531.1" x2="433.8" y2="531.1" stroke="#555" stroke-width="0.5"/>
<text x="7.4" y="16.1" font-size="20" fill="#000">A. IL-I&#223;</text>
<text x="421.9" y="16.1" font-size="20" fill="#000">B. IL-6</text>
<text x="6.8" y="304.7" font-size="20" fill="#000" letter-spacing="-0.2">C. IFN-&#947;</text>
<text x="416.8" y="304.5" font-size="20" fill="#000">D. TNF-&#945;</text>
</svg>
</body></html>
